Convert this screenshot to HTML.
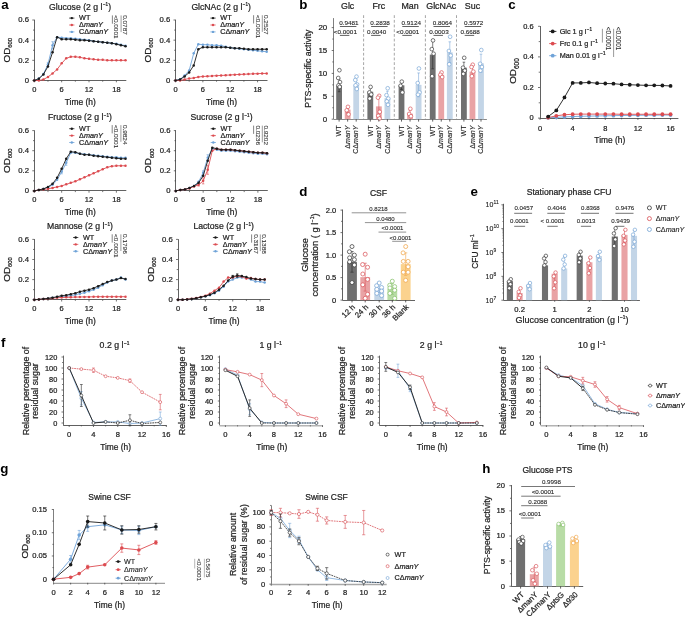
<!DOCTYPE html>
<html><head><meta charset="utf-8"><style>
html,body{margin:0;padding:0;background:#fff;width:685px;height:617px;overflow:hidden}
svg{display:block;will-change:transform}
text{font-family:"Liberation Sans", sans-serif}
</style></head><body>
<svg width="685" height="617" viewBox="0 0 685 617">
<rect width="685" height="617" fill="#fff"/>
<line x1="34.5" y1="80.5" x2="34.5" y2="19.7" stroke="#3a3a3a" stroke-width="0.8" />
<line x1="34.3" y1="80.5" x2="126.3" y2="80.5" stroke="#3a3a3a" stroke-width="0.8" />
<line x1="32.3" y1="80.5" x2="34.3" y2="80.5" stroke="#3a3a3a" stroke-width="0.7" />
<line x1="33" y1="70.42" x2="34.3" y2="70.42" stroke="#3a3a3a" stroke-width="0.7" />
<line x1="32.3" y1="60.33" x2="34.3" y2="60.33" stroke="#3a3a3a" stroke-width="0.7" />
<line x1="33" y1="50.25" x2="34.3" y2="50.25" stroke="#3a3a3a" stroke-width="0.7" />
<line x1="32.3" y1="40.17" x2="34.3" y2="40.17" stroke="#3a3a3a" stroke-width="0.7" />
<line x1="33" y1="30.08" x2="34.3" y2="30.08" stroke="#3a3a3a" stroke-width="0.7" />
<line x1="32.3" y1="20" x2="34.3" y2="20" stroke="#3a3a3a" stroke-width="0.7" />
<line x1="34.3" y1="80.5" x2="34.3" y2="82.3" stroke="#3a3a3a" stroke-width="0.7" />
<line x1="47.98" y1="80.5" x2="47.98" y2="81.7" stroke="#3a3a3a" stroke-width="0.7" />
<line x1="61.66" y1="80.5" x2="61.66" y2="82.3" stroke="#3a3a3a" stroke-width="0.7" />
<line x1="75.34" y1="80.5" x2="75.34" y2="81.7" stroke="#3a3a3a" stroke-width="0.7" />
<line x1="89.02" y1="80.5" x2="89.02" y2="82.3" stroke="#3a3a3a" stroke-width="0.7" />
<line x1="102.7" y1="80.5" x2="102.7" y2="81.7" stroke="#3a3a3a" stroke-width="0.7" />
<line x1="116.38" y1="80.5" x2="116.38" y2="82.3" stroke="#3a3a3a" stroke-width="0.7" />
<text transform="translate(29 82.9)" font-size="7.7" text-anchor="end" fill="#222" font-weight="normal" stroke="#222" stroke-width="0.22">0</text>
<text transform="translate(29 62.73)" font-size="7.7" text-anchor="end" fill="#222" font-weight="normal" stroke="#222" stroke-width="0.22">0.2</text>
<text transform="translate(29 42.57)" font-size="7.7" text-anchor="end" fill="#222" font-weight="normal" stroke="#222" stroke-width="0.22">0.4</text>
<text transform="translate(29 22.4)" font-size="7.7" text-anchor="end" fill="#222" font-weight="normal" stroke="#222" stroke-width="0.22">0.6</text>
<text transform="translate(34.3 91.7)" font-size="7.47" text-anchor="middle" fill="#222" font-weight="normal" stroke="#222" stroke-width="0.22">0</text>
<text transform="translate(61.66 91.7)" font-size="7.47" text-anchor="middle" fill="#222" font-weight="normal" stroke="#222" stroke-width="0.22">6</text>
<text transform="translate(89.02 91.7)" font-size="7.47" text-anchor="middle" fill="#222" font-weight="normal" stroke="#222" stroke-width="0.22">12</text>
<text transform="translate(116.38 91.7)" font-size="7.47" text-anchor="middle" fill="#222" font-weight="normal" stroke="#222" stroke-width="0.22">18</text>
<text transform="translate(80.3 104.8)" font-size="8.44" text-anchor="middle" fill="#222" font-weight="normal" stroke="#222" stroke-width="0.22">Time (h)</text>
<text transform="translate(9.8 50.25) rotate(-90)" font-size="9.86" text-anchor="middle" fill="#222" font-weight="normal" stroke="#222" stroke-width="0.22">OD<tspan font-size="5.8" dy="2.2">600</tspan></text>
<text transform="translate(80 9.6)" font-size="8.66" text-anchor="middle" fill="#222" font-weight="normal" stroke="#222" stroke-width="0.22">Glucose (2 g l<tspan font-size="4.6" dx="0.5" dy="-3.3">&#8722;1</tspan><tspan dy="3.3">)</tspan></text>
<polyline points="34.3,80.5 38.86,78.48 43.42,73.95 47.98,64.37 52.54,45.21 57.1,37.14 61.66,37.65 66.22,38.15 70.78,38.15 75.34,38.65 79.9,39.16 84.46,39.66 89.02,40.17 93.58,41.17 98.14,41.68 102.7,42.18 107.26,42.69 111.82,43.19 116.38,43.7 120.94,44.7 125.5,45.71" fill="none" stroke="#6fa3d8" stroke-width="0.9" stroke-linejoin="round"/>
<line x1="52.54" y1="41.68" x2="52.54" y2="48.74" stroke="#6fa3d8" stroke-width="0.6" />
<line x1="51.34" y1="41.68" x2="53.74" y2="41.68" stroke="#6fa3d8" stroke-width="0.6" />
<line x1="51.34" y1="48.74" x2="53.74" y2="48.74" stroke="#6fa3d8" stroke-width="0.6" />
<line x1="47.98" y1="62.35" x2="47.98" y2="66.38" stroke="#6fa3d8" stroke-width="0.6" />
<line x1="46.78" y1="62.35" x2="49.18" y2="62.35" stroke="#6fa3d8" stroke-width="0.6" />
<line x1="46.78" y1="66.38" x2="49.18" y2="66.38" stroke="#6fa3d8" stroke-width="0.6" />
<circle cx="34.3" cy="80.5" r="1.25" fill="#6fa3d8" stroke="none" stroke-width="0.6"/>
<circle cx="38.86" cy="78.48" r="1.25" fill="#6fa3d8" stroke="none" stroke-width="0.6"/>
<circle cx="43.42" cy="73.95" r="1.25" fill="#6fa3d8" stroke="none" stroke-width="0.6"/>
<circle cx="47.98" cy="64.37" r="1.25" fill="#6fa3d8" stroke="none" stroke-width="0.6"/>
<circle cx="52.54" cy="45.21" r="1.25" fill="#6fa3d8" stroke="none" stroke-width="0.6"/>
<circle cx="57.1" cy="37.14" r="1.25" fill="#6fa3d8" stroke="none" stroke-width="0.6"/>
<circle cx="61.66" cy="37.65" r="1.25" fill="#6fa3d8" stroke="none" stroke-width="0.6"/>
<circle cx="66.22" cy="38.15" r="1.25" fill="#6fa3d8" stroke="none" stroke-width="0.6"/>
<circle cx="70.78" cy="38.15" r="1.25" fill="#6fa3d8" stroke="none" stroke-width="0.6"/>
<circle cx="75.34" cy="38.65" r="1.25" fill="#6fa3d8" stroke="none" stroke-width="0.6"/>
<circle cx="79.9" cy="39.16" r="1.25" fill="#6fa3d8" stroke="none" stroke-width="0.6"/>
<circle cx="84.46" cy="39.66" r="1.25" fill="#6fa3d8" stroke="none" stroke-width="0.6"/>
<circle cx="89.02" cy="40.17" r="1.25" fill="#6fa3d8" stroke="none" stroke-width="0.6"/>
<circle cx="93.58" cy="41.17" r="1.25" fill="#6fa3d8" stroke="none" stroke-width="0.6"/>
<circle cx="98.14" cy="41.68" r="1.25" fill="#6fa3d8" stroke="none" stroke-width="0.6"/>
<circle cx="102.7" cy="42.18" r="1.25" fill="#6fa3d8" stroke="none" stroke-width="0.6"/>
<circle cx="107.26" cy="42.69" r="1.25" fill="#6fa3d8" stroke="none" stroke-width="0.6"/>
<circle cx="111.82" cy="43.19" r="1.25" fill="#6fa3d8" stroke="none" stroke-width="0.6"/>
<circle cx="116.38" cy="43.7" r="1.25" fill="#6fa3d8" stroke="none" stroke-width="0.6"/>
<circle cx="120.94" cy="44.7" r="1.25" fill="#6fa3d8" stroke="none" stroke-width="0.6"/>
<circle cx="125.5" cy="45.71" r="1.25" fill="#6fa3d8" stroke="none" stroke-width="0.6"/>
<polyline points="34.3,80.5 38.86,80.5 43.42,79.49 47.98,76.97 52.54,73.44 57.1,69.41 61.66,63.36 66.22,58.32 70.78,56.8 75.34,56.8 79.9,57.31 84.46,58.32 89.02,58.82 93.58,59.33 98.14,59.83 102.7,59.83 107.26,60.33 111.82,60.33 116.38,60.33 120.94,60.33 125.5,60.33" fill="none" stroke="#dc4b50" stroke-width="0.9" stroke-linejoin="round"/>
<circle cx="34.3" cy="80.5" r="1.25" fill="#dc4b50" stroke="none" stroke-width="0.6"/>
<circle cx="38.86" cy="80.5" r="1.25" fill="#dc4b50" stroke="none" stroke-width="0.6"/>
<circle cx="43.42" cy="79.49" r="1.25" fill="#dc4b50" stroke="none" stroke-width="0.6"/>
<circle cx="47.98" cy="76.97" r="1.25" fill="#dc4b50" stroke="none" stroke-width="0.6"/>
<circle cx="52.54" cy="73.44" r="1.25" fill="#dc4b50" stroke="none" stroke-width="0.6"/>
<circle cx="57.1" cy="69.41" r="1.25" fill="#dc4b50" stroke="none" stroke-width="0.6"/>
<circle cx="61.66" cy="63.36" r="1.25" fill="#dc4b50" stroke="none" stroke-width="0.6"/>
<circle cx="66.22" cy="58.32" r="1.25" fill="#dc4b50" stroke="none" stroke-width="0.6"/>
<circle cx="70.78" cy="56.8" r="1.25" fill="#dc4b50" stroke="none" stroke-width="0.6"/>
<circle cx="75.34" cy="56.8" r="1.25" fill="#dc4b50" stroke="none" stroke-width="0.6"/>
<circle cx="79.9" cy="57.31" r="1.25" fill="#dc4b50" stroke="none" stroke-width="0.6"/>
<circle cx="84.46" cy="58.32" r="1.25" fill="#dc4b50" stroke="none" stroke-width="0.6"/>
<circle cx="89.02" cy="58.82" r="1.25" fill="#dc4b50" stroke="none" stroke-width="0.6"/>
<circle cx="93.58" cy="59.33" r="1.25" fill="#dc4b50" stroke="none" stroke-width="0.6"/>
<circle cx="98.14" cy="59.83" r="1.25" fill="#dc4b50" stroke="none" stroke-width="0.6"/>
<circle cx="102.7" cy="59.83" r="1.25" fill="#dc4b50" stroke="none" stroke-width="0.6"/>
<circle cx="107.26" cy="60.33" r="1.25" fill="#dc4b50" stroke="none" stroke-width="0.6"/>
<circle cx="111.82" cy="60.33" r="1.25" fill="#dc4b50" stroke="none" stroke-width="0.6"/>
<circle cx="116.38" cy="60.33" r="1.25" fill="#dc4b50" stroke="none" stroke-width="0.6"/>
<circle cx="120.94" cy="60.33" r="1.25" fill="#dc4b50" stroke="none" stroke-width="0.6"/>
<circle cx="125.5" cy="60.33" r="1.25" fill="#dc4b50" stroke="none" stroke-width="0.6"/>
<polyline points="34.3,80.5 38.86,78.69 43.42,74.45 47.98,66.38 52.54,52.27 57.1,37.14 61.66,39.16 66.22,39.16 70.78,39.16 75.34,39.66 79.9,40.17 84.46,40.17 89.02,40.67 93.58,41.17 98.14,41.68 102.7,42.18 107.26,42.69 111.82,43.19 116.38,44.2 120.94,45.21 125.5,46.22" fill="none" stroke="#1a1a1a" stroke-width="0.9" stroke-linejoin="round"/>
<circle cx="34.3" cy="80.5" r="1.25" fill="#1a1a1a" stroke="none" stroke-width="0.6"/>
<circle cx="38.86" cy="78.69" r="1.25" fill="#1a1a1a" stroke="none" stroke-width="0.6"/>
<circle cx="43.42" cy="74.45" r="1.25" fill="#1a1a1a" stroke="none" stroke-width="0.6"/>
<circle cx="47.98" cy="66.38" r="1.25" fill="#1a1a1a" stroke="none" stroke-width="0.6"/>
<circle cx="52.54" cy="52.27" r="1.25" fill="#1a1a1a" stroke="none" stroke-width="0.6"/>
<circle cx="57.1" cy="37.14" r="1.25" fill="#1a1a1a" stroke="none" stroke-width="0.6"/>
<circle cx="61.66" cy="39.16" r="1.25" fill="#1a1a1a" stroke="none" stroke-width="0.6"/>
<circle cx="66.22" cy="39.16" r="1.25" fill="#1a1a1a" stroke="none" stroke-width="0.6"/>
<circle cx="70.78" cy="39.16" r="1.25" fill="#1a1a1a" stroke="none" stroke-width="0.6"/>
<circle cx="75.34" cy="39.66" r="1.25" fill="#1a1a1a" stroke="none" stroke-width="0.6"/>
<circle cx="79.9" cy="40.17" r="1.25" fill="#1a1a1a" stroke="none" stroke-width="0.6"/>
<circle cx="84.46" cy="40.17" r="1.25" fill="#1a1a1a" stroke="none" stroke-width="0.6"/>
<circle cx="89.02" cy="40.67" r="1.25" fill="#1a1a1a" stroke="none" stroke-width="0.6"/>
<circle cx="93.58" cy="41.17" r="1.25" fill="#1a1a1a" stroke="none" stroke-width="0.6"/>
<circle cx="98.14" cy="41.68" r="1.25" fill="#1a1a1a" stroke="none" stroke-width="0.6"/>
<circle cx="102.7" cy="42.18" r="1.25" fill="#1a1a1a" stroke="none" stroke-width="0.6"/>
<circle cx="107.26" cy="42.69" r="1.25" fill="#1a1a1a" stroke="none" stroke-width="0.6"/>
<circle cx="111.82" cy="43.19" r="1.25" fill="#1a1a1a" stroke="none" stroke-width="0.6"/>
<circle cx="116.38" cy="44.2" r="1.25" fill="#1a1a1a" stroke="none" stroke-width="0.6"/>
<circle cx="120.94" cy="45.21" r="1.25" fill="#1a1a1a" stroke="none" stroke-width="0.6"/>
<circle cx="125.5" cy="46.22" r="1.25" fill="#1a1a1a" stroke="none" stroke-width="0.6"/>
<line x1="69.2" y1="18.1" x2="74.4" y2="18.1" stroke="#1a1a1a" stroke-width="0.8" />
<circle cx="71.8" cy="18.1" r="1.2" fill="#1a1a1a" stroke="none" stroke-width="0.6"/>
<text transform="translate(79.1 20.3)" font-size="7.24" text-anchor="start" fill="#222" font-weight="normal" stroke="#222" stroke-width="0.22">WT</text>
<line x1="69.2" y1="25" x2="74.4" y2="25" stroke="#dc4b50" stroke-width="0.8" />
<circle cx="71.8" cy="25" r="1.2" fill="#dc4b50" stroke="none" stroke-width="0.6"/>
<text transform="translate(79.1 27.2)" font-size="7.24" text-anchor="start" fill="#222" font-weight="normal" stroke="#222" stroke-width="0.22">&#916;<tspan font-style="italic">manY</tspan></text>
<line x1="69.2" y1="31.9" x2="74.4" y2="31.9" stroke="#6fa3d8" stroke-width="0.8" />
<circle cx="71.8" cy="31.9" r="1.2" fill="#6fa3d8" stroke="none" stroke-width="0.6"/>
<text transform="translate(79.1 34.1)" font-size="7.24" text-anchor="start" fill="#222" font-weight="normal" stroke="#222" stroke-width="0.22">C&#916;<tspan font-style="italic">manY</tspan></text>
<line x1="112.4" y1="15.4" x2="112.4" y2="23.7" stroke="#444" stroke-width="0.65" />
<text transform="translate(114.4 15.2) rotate(90) scale(1.07 1)" font-size="6.0" text-anchor="start" fill="#3a3a3a" font-weight="normal" stroke="#3a3a3a" stroke-width="0.12">&lt;0.0001</text>
<line x1="121.1" y1="15.4" x2="121.1" y2="32.1" stroke="#666" stroke-width="0.65" />
<text transform="translate(123.1 15.2) rotate(90) scale(1.07 1)" font-size="6.0" text-anchor="start" fill="#3a3a3a" font-weight="normal" stroke="#3a3a3a" stroke-width="0.12">0.0787</text>
<line x1="175.5" y1="80.5" x2="175.5" y2="19.7" stroke="#3a3a3a" stroke-width="0.8" />
<line x1="175.5" y1="80.5" x2="267.5" y2="80.5" stroke="#3a3a3a" stroke-width="0.8" />
<line x1="173.5" y1="80.5" x2="175.5" y2="80.5" stroke="#3a3a3a" stroke-width="0.7" />
<line x1="174.2" y1="70.42" x2="175.5" y2="70.42" stroke="#3a3a3a" stroke-width="0.7" />
<line x1="173.5" y1="60.33" x2="175.5" y2="60.33" stroke="#3a3a3a" stroke-width="0.7" />
<line x1="174.2" y1="50.25" x2="175.5" y2="50.25" stroke="#3a3a3a" stroke-width="0.7" />
<line x1="173.5" y1="40.17" x2="175.5" y2="40.17" stroke="#3a3a3a" stroke-width="0.7" />
<line x1="174.2" y1="30.08" x2="175.5" y2="30.08" stroke="#3a3a3a" stroke-width="0.7" />
<line x1="173.5" y1="20" x2="175.5" y2="20" stroke="#3a3a3a" stroke-width="0.7" />
<line x1="175.5" y1="80.5" x2="175.5" y2="82.3" stroke="#3a3a3a" stroke-width="0.7" />
<line x1="189.18" y1="80.5" x2="189.18" y2="81.7" stroke="#3a3a3a" stroke-width="0.7" />
<line x1="202.86" y1="80.5" x2="202.86" y2="82.3" stroke="#3a3a3a" stroke-width="0.7" />
<line x1="216.54" y1="80.5" x2="216.54" y2="81.7" stroke="#3a3a3a" stroke-width="0.7" />
<line x1="230.22" y1="80.5" x2="230.22" y2="82.3" stroke="#3a3a3a" stroke-width="0.7" />
<line x1="243.9" y1="80.5" x2="243.9" y2="81.7" stroke="#3a3a3a" stroke-width="0.7" />
<line x1="257.58" y1="80.5" x2="257.58" y2="82.3" stroke="#3a3a3a" stroke-width="0.7" />
<text transform="translate(170.2 82.9)" font-size="7.7" text-anchor="end" fill="#222" font-weight="normal" stroke="#222" stroke-width="0.22">0</text>
<text transform="translate(170.2 62.73)" font-size="7.7" text-anchor="end" fill="#222" font-weight="normal" stroke="#222" stroke-width="0.22">0.2</text>
<text transform="translate(170.2 42.57)" font-size="7.7" text-anchor="end" fill="#222" font-weight="normal" stroke="#222" stroke-width="0.22">0.4</text>
<text transform="translate(170.2 22.4)" font-size="7.7" text-anchor="end" fill="#222" font-weight="normal" stroke="#222" stroke-width="0.22">0.6</text>
<text transform="translate(175.5 91.7)" font-size="7.47" text-anchor="middle" fill="#222" font-weight="normal" stroke="#222" stroke-width="0.22">0</text>
<text transform="translate(202.86 91.7)" font-size="7.47" text-anchor="middle" fill="#222" font-weight="normal" stroke="#222" stroke-width="0.22">6</text>
<text transform="translate(230.22 91.7)" font-size="7.47" text-anchor="middle" fill="#222" font-weight="normal" stroke="#222" stroke-width="0.22">12</text>
<text transform="translate(257.58 91.7)" font-size="7.47" text-anchor="middle" fill="#222" font-weight="normal" stroke="#222" stroke-width="0.22">18</text>
<text transform="translate(221.5 104.8)" font-size="8.44" text-anchor="middle" fill="#222" font-weight="normal" stroke="#222" stroke-width="0.22">Time (h)</text>
<text transform="translate(151 50.25) rotate(-90)" font-size="9.86" text-anchor="middle" fill="#222" font-weight="normal" stroke="#222" stroke-width="0.22">OD<tspan font-size="5.8" dy="2.2">600</tspan></text>
<text transform="translate(221.2 9.6)" font-size="8.66" text-anchor="middle" fill="#222" font-weight="normal" stroke="#222" stroke-width="0.22">GlcNAc (2 g l<tspan font-size="4.6" dx="0.5" dy="-3.3">&#8722;1</tspan><tspan dy="3.3">)</tspan></text>
<polyline points="175.5,80.5 180.06,79.29 184.62,75.46 189.18,70.42 193.74,53.27 198.3,44.2 202.86,44.7 207.42,44.7 211.98,45.21 216.54,45.21 221.1,45.71 225.66,46.72 230.22,47.73 234.78,48.23 239.34,48.74 243.9,49.24 248.46,49.75 253.02,50.25 257.58,50.75 262.14,51.26 266.7,51.76" fill="none" stroke="#6fa3d8" stroke-width="0.9" stroke-linejoin="round"/>
<circle cx="175.5" cy="80.5" r="1.25" fill="#6fa3d8" stroke="none" stroke-width="0.6"/>
<circle cx="180.06" cy="79.29" r="1.25" fill="#6fa3d8" stroke="none" stroke-width="0.6"/>
<circle cx="184.62" cy="75.46" r="1.25" fill="#6fa3d8" stroke="none" stroke-width="0.6"/>
<circle cx="189.18" cy="70.42" r="1.25" fill="#6fa3d8" stroke="none" stroke-width="0.6"/>
<circle cx="193.74" cy="53.27" r="1.25" fill="#6fa3d8" stroke="none" stroke-width="0.6"/>
<circle cx="198.3" cy="44.2" r="1.25" fill="#6fa3d8" stroke="none" stroke-width="0.6"/>
<circle cx="202.86" cy="44.7" r="1.25" fill="#6fa3d8" stroke="none" stroke-width="0.6"/>
<circle cx="207.42" cy="44.7" r="1.25" fill="#6fa3d8" stroke="none" stroke-width="0.6"/>
<circle cx="211.98" cy="45.21" r="1.25" fill="#6fa3d8" stroke="none" stroke-width="0.6"/>
<circle cx="216.54" cy="45.21" r="1.25" fill="#6fa3d8" stroke="none" stroke-width="0.6"/>
<circle cx="221.1" cy="45.71" r="1.25" fill="#6fa3d8" stroke="none" stroke-width="0.6"/>
<circle cx="225.66" cy="46.72" r="1.25" fill="#6fa3d8" stroke="none" stroke-width="0.6"/>
<circle cx="230.22" cy="47.73" r="1.25" fill="#6fa3d8" stroke="none" stroke-width="0.6"/>
<circle cx="234.78" cy="48.23" r="1.25" fill="#6fa3d8" stroke="none" stroke-width="0.6"/>
<circle cx="239.34" cy="48.74" r="1.25" fill="#6fa3d8" stroke="none" stroke-width="0.6"/>
<circle cx="243.9" cy="49.24" r="1.25" fill="#6fa3d8" stroke="none" stroke-width="0.6"/>
<circle cx="248.46" cy="49.75" r="1.25" fill="#6fa3d8" stroke="none" stroke-width="0.6"/>
<circle cx="253.02" cy="50.25" r="1.25" fill="#6fa3d8" stroke="none" stroke-width="0.6"/>
<circle cx="257.58" cy="50.75" r="1.25" fill="#6fa3d8" stroke="none" stroke-width="0.6"/>
<circle cx="262.14" cy="51.26" r="1.25" fill="#6fa3d8" stroke="none" stroke-width="0.6"/>
<circle cx="266.7" cy="51.76" r="1.25" fill="#6fa3d8" stroke="none" stroke-width="0.6"/>
<polyline points="175.5,80.5 180.06,80.5 184.62,79.49 189.18,78.48 193.74,77.98 198.3,76.97 202.86,76.47 207.42,76.27 211.98,75.96 216.54,75.66 221.1,75.46 225.66,75.26 230.22,74.95 234.78,74.65 239.34,74.45 243.9,74.25 248.46,74.05 253.02,73.84 257.58,73.64 262.14,73.44 266.7,73.44" fill="none" stroke="#dc4b50" stroke-width="0.9" stroke-linejoin="round"/>
<circle cx="175.5" cy="80.5" r="1.25" fill="#dc4b50" stroke="none" stroke-width="0.6"/>
<circle cx="180.06" cy="80.5" r="1.25" fill="#dc4b50" stroke="none" stroke-width="0.6"/>
<circle cx="184.62" cy="79.49" r="1.25" fill="#dc4b50" stroke="none" stroke-width="0.6"/>
<circle cx="189.18" cy="78.48" r="1.25" fill="#dc4b50" stroke="none" stroke-width="0.6"/>
<circle cx="193.74" cy="77.98" r="1.25" fill="#dc4b50" stroke="none" stroke-width="0.6"/>
<circle cx="198.3" cy="76.97" r="1.25" fill="#dc4b50" stroke="none" stroke-width="0.6"/>
<circle cx="202.86" cy="76.47" r="1.25" fill="#dc4b50" stroke="none" stroke-width="0.6"/>
<circle cx="207.42" cy="76.27" r="1.25" fill="#dc4b50" stroke="none" stroke-width="0.6"/>
<circle cx="211.98" cy="75.96" r="1.25" fill="#dc4b50" stroke="none" stroke-width="0.6"/>
<circle cx="216.54" cy="75.66" r="1.25" fill="#dc4b50" stroke="none" stroke-width="0.6"/>
<circle cx="221.1" cy="75.46" r="1.25" fill="#dc4b50" stroke="none" stroke-width="0.6"/>
<circle cx="225.66" cy="75.26" r="1.25" fill="#dc4b50" stroke="none" stroke-width="0.6"/>
<circle cx="230.22" cy="74.95" r="1.25" fill="#dc4b50" stroke="none" stroke-width="0.6"/>
<circle cx="234.78" cy="74.65" r="1.25" fill="#dc4b50" stroke="none" stroke-width="0.6"/>
<circle cx="239.34" cy="74.45" r="1.25" fill="#dc4b50" stroke="none" stroke-width="0.6"/>
<circle cx="243.9" cy="74.25" r="1.25" fill="#dc4b50" stroke="none" stroke-width="0.6"/>
<circle cx="248.46" cy="74.05" r="1.25" fill="#dc4b50" stroke="none" stroke-width="0.6"/>
<circle cx="253.02" cy="73.84" r="1.25" fill="#dc4b50" stroke="none" stroke-width="0.6"/>
<circle cx="257.58" cy="73.64" r="1.25" fill="#dc4b50" stroke="none" stroke-width="0.6"/>
<circle cx="262.14" cy="73.44" r="1.25" fill="#dc4b50" stroke="none" stroke-width="0.6"/>
<circle cx="266.7" cy="73.44" r="1.25" fill="#dc4b50" stroke="none" stroke-width="0.6"/>
<polyline points="175.5,80.5 180.06,79.49 184.62,76.47 189.18,72.43 193.74,65.38 198.3,49.24 202.86,47.22 207.42,47.22 211.98,47.22 216.54,47.22 221.1,47.22 225.66,47.22 230.22,47.73 234.78,48.23 239.34,48.23 243.9,48.74 248.46,49.24 253.02,49.24 257.58,49.24 262.14,49.24 266.7,49.24" fill="none" stroke="#1a1a1a" stroke-width="0.9" stroke-linejoin="round"/>
<circle cx="175.5" cy="80.5" r="1.25" fill="#1a1a1a" stroke="none" stroke-width="0.6"/>
<circle cx="180.06" cy="79.49" r="1.25" fill="#1a1a1a" stroke="none" stroke-width="0.6"/>
<circle cx="184.62" cy="76.47" r="1.25" fill="#1a1a1a" stroke="none" stroke-width="0.6"/>
<circle cx="189.18" cy="72.43" r="1.25" fill="#1a1a1a" stroke="none" stroke-width="0.6"/>
<circle cx="193.74" cy="65.38" r="1.25" fill="#1a1a1a" stroke="none" stroke-width="0.6"/>
<circle cx="198.3" cy="49.24" r="1.25" fill="#1a1a1a" stroke="none" stroke-width="0.6"/>
<circle cx="202.86" cy="47.22" r="1.25" fill="#1a1a1a" stroke="none" stroke-width="0.6"/>
<circle cx="207.42" cy="47.22" r="1.25" fill="#1a1a1a" stroke="none" stroke-width="0.6"/>
<circle cx="211.98" cy="47.22" r="1.25" fill="#1a1a1a" stroke="none" stroke-width="0.6"/>
<circle cx="216.54" cy="47.22" r="1.25" fill="#1a1a1a" stroke="none" stroke-width="0.6"/>
<circle cx="221.1" cy="47.22" r="1.25" fill="#1a1a1a" stroke="none" stroke-width="0.6"/>
<circle cx="225.66" cy="47.22" r="1.25" fill="#1a1a1a" stroke="none" stroke-width="0.6"/>
<circle cx="230.22" cy="47.73" r="1.25" fill="#1a1a1a" stroke="none" stroke-width="0.6"/>
<circle cx="234.78" cy="48.23" r="1.25" fill="#1a1a1a" stroke="none" stroke-width="0.6"/>
<circle cx="239.34" cy="48.23" r="1.25" fill="#1a1a1a" stroke="none" stroke-width="0.6"/>
<circle cx="243.9" cy="48.74" r="1.25" fill="#1a1a1a" stroke="none" stroke-width="0.6"/>
<circle cx="248.46" cy="49.24" r="1.25" fill="#1a1a1a" stroke="none" stroke-width="0.6"/>
<circle cx="253.02" cy="49.24" r="1.25" fill="#1a1a1a" stroke="none" stroke-width="0.6"/>
<circle cx="257.58" cy="49.24" r="1.25" fill="#1a1a1a" stroke="none" stroke-width="0.6"/>
<circle cx="262.14" cy="49.24" r="1.25" fill="#1a1a1a" stroke="none" stroke-width="0.6"/>
<circle cx="266.7" cy="49.24" r="1.25" fill="#1a1a1a" stroke="none" stroke-width="0.6"/>
<line x1="210.4" y1="18.1" x2="215.6" y2="18.1" stroke="#1a1a1a" stroke-width="0.8" />
<circle cx="213" cy="18.1" r="1.2" fill="#1a1a1a" stroke="none" stroke-width="0.6"/>
<text transform="translate(220.3 20.3)" font-size="7.24" text-anchor="start" fill="#222" font-weight="normal" stroke="#222" stroke-width="0.22">WT</text>
<line x1="210.4" y1="25" x2="215.6" y2="25" stroke="#dc4b50" stroke-width="0.8" />
<circle cx="213" cy="25" r="1.2" fill="#dc4b50" stroke="none" stroke-width="0.6"/>
<text transform="translate(220.3 27.2)" font-size="7.24" text-anchor="start" fill="#222" font-weight="normal" stroke="#222" stroke-width="0.22">&#916;<tspan font-style="italic">manY</tspan></text>
<line x1="210.4" y1="31.9" x2="215.6" y2="31.9" stroke="#6fa3d8" stroke-width="0.8" />
<circle cx="213" cy="31.9" r="1.2" fill="#6fa3d8" stroke="none" stroke-width="0.6"/>
<text transform="translate(220.3 34.1)" font-size="7.24" text-anchor="start" fill="#222" font-weight="normal" stroke="#222" stroke-width="0.22">C&#916;<tspan font-style="italic">manY</tspan></text>
<line x1="253.6" y1="15.2" x2="253.6" y2="23.5" stroke="#444" stroke-width="0.65" />
<text transform="translate(255.6 15) rotate(90) scale(1.07 1)" font-size="6.0" text-anchor="start" fill="#3a3a3a" font-weight="normal" stroke="#3a3a3a" stroke-width="0.12">&lt;0.0001</text>
<line x1="262.3" y1="15.2" x2="262.3" y2="31.9" stroke="#666" stroke-width="0.65" />
<text transform="translate(264.3 15) rotate(90) scale(1.07 1)" font-size="6.0" text-anchor="start" fill="#3a3a3a" font-weight="normal" stroke="#3a3a3a" stroke-width="0.12">0.2527</text>
<line x1="34.5" y1="190.9" x2="34.5" y2="130.3" stroke="#3a3a3a" stroke-width="0.8" />
<line x1="34.3" y1="190.5" x2="126.3" y2="190.5" stroke="#3a3a3a" stroke-width="0.8" />
<line x1="32.3" y1="190.9" x2="34.3" y2="190.9" stroke="#3a3a3a" stroke-width="0.7" />
<line x1="33" y1="180.85" x2="34.3" y2="180.85" stroke="#3a3a3a" stroke-width="0.7" />
<line x1="32.3" y1="170.8" x2="34.3" y2="170.8" stroke="#3a3a3a" stroke-width="0.7" />
<line x1="33" y1="160.75" x2="34.3" y2="160.75" stroke="#3a3a3a" stroke-width="0.7" />
<line x1="32.3" y1="150.7" x2="34.3" y2="150.7" stroke="#3a3a3a" stroke-width="0.7" />
<line x1="33" y1="140.65" x2="34.3" y2="140.65" stroke="#3a3a3a" stroke-width="0.7" />
<line x1="32.3" y1="130.6" x2="34.3" y2="130.6" stroke="#3a3a3a" stroke-width="0.7" />
<line x1="34.3" y1="190.9" x2="34.3" y2="192.7" stroke="#3a3a3a" stroke-width="0.7" />
<line x1="47.98" y1="190.9" x2="47.98" y2="192.1" stroke="#3a3a3a" stroke-width="0.7" />
<line x1="61.66" y1="190.9" x2="61.66" y2="192.7" stroke="#3a3a3a" stroke-width="0.7" />
<line x1="75.34" y1="190.9" x2="75.34" y2="192.1" stroke="#3a3a3a" stroke-width="0.7" />
<line x1="89.02" y1="190.9" x2="89.02" y2="192.7" stroke="#3a3a3a" stroke-width="0.7" />
<line x1="102.7" y1="190.9" x2="102.7" y2="192.1" stroke="#3a3a3a" stroke-width="0.7" />
<line x1="116.38" y1="190.9" x2="116.38" y2="192.7" stroke="#3a3a3a" stroke-width="0.7" />
<text transform="translate(29 193.3)" font-size="7.7" text-anchor="end" fill="#222" font-weight="normal" stroke="#222" stroke-width="0.22">0</text>
<text transform="translate(29 173.2)" font-size="7.7" text-anchor="end" fill="#222" font-weight="normal" stroke="#222" stroke-width="0.22">0.2</text>
<text transform="translate(29 153.1)" font-size="7.7" text-anchor="end" fill="#222" font-weight="normal" stroke="#222" stroke-width="0.22">0.4</text>
<text transform="translate(29 133)" font-size="7.7" text-anchor="end" fill="#222" font-weight="normal" stroke="#222" stroke-width="0.22">0.6</text>
<text transform="translate(34.3 202.1)" font-size="7.47" text-anchor="middle" fill="#222" font-weight="normal" stroke="#222" stroke-width="0.22">0</text>
<text transform="translate(61.66 202.1)" font-size="7.47" text-anchor="middle" fill="#222" font-weight="normal" stroke="#222" stroke-width="0.22">6</text>
<text transform="translate(89.02 202.1)" font-size="7.47" text-anchor="middle" fill="#222" font-weight="normal" stroke="#222" stroke-width="0.22">12</text>
<text transform="translate(116.38 202.1)" font-size="7.47" text-anchor="middle" fill="#222" font-weight="normal" stroke="#222" stroke-width="0.22">18</text>
<text transform="translate(80.3 215.2)" font-size="8.44" text-anchor="middle" fill="#222" font-weight="normal" stroke="#222" stroke-width="0.22">Time (h)</text>
<text transform="translate(9.8 160.75) rotate(-90)" font-size="9.86" text-anchor="middle" fill="#222" font-weight="normal" stroke="#222" stroke-width="0.22">OD<tspan font-size="5.8" dy="2.2">600</tspan></text>
<text transform="translate(80 120.2)" font-size="8.66" text-anchor="middle" fill="#222" font-weight="normal" stroke="#222" stroke-width="0.22">Fructose (2 g l<tspan font-size="4.6" dx="0.5" dy="-3.3">&#8722;1</tspan><tspan dy="3.3">)</tspan></text>
<polyline points="34.3,190.9 38.86,189.9 43.42,188.89 47.98,187.38 52.54,184.87 57.1,179.84 61.66,171.81 66.22,162.76 70.78,152.71 75.34,152.71 79.9,153.72 84.46,154.22 89.02,154.72 93.58,155.22 98.14,155.72 102.7,156.23 107.26,156.73 111.82,157.23 116.38,157.23 120.94,157.73 125.5,157.73" fill="none" stroke="#6fa3d8" stroke-width="0.9" stroke-linejoin="round"/>
<line x1="61.66" y1="169.8" x2="61.66" y2="173.81" stroke="#6fa3d8" stroke-width="0.6" />
<line x1="60.46" y1="169.8" x2="62.86" y2="169.8" stroke="#6fa3d8" stroke-width="0.6" />
<line x1="60.46" y1="173.81" x2="62.86" y2="173.81" stroke="#6fa3d8" stroke-width="0.6" />
<line x1="66.22" y1="160.25" x2="66.22" y2="165.27" stroke="#6fa3d8" stroke-width="0.6" />
<line x1="65.02" y1="160.25" x2="67.42" y2="160.25" stroke="#6fa3d8" stroke-width="0.6" />
<line x1="65.02" y1="165.27" x2="67.42" y2="165.27" stroke="#6fa3d8" stroke-width="0.6" />
<circle cx="34.3" cy="190.9" r="1.25" fill="#6fa3d8" stroke="none" stroke-width="0.6"/>
<circle cx="38.86" cy="189.9" r="1.25" fill="#6fa3d8" stroke="none" stroke-width="0.6"/>
<circle cx="43.42" cy="188.89" r="1.25" fill="#6fa3d8" stroke="none" stroke-width="0.6"/>
<circle cx="47.98" cy="187.38" r="1.25" fill="#6fa3d8" stroke="none" stroke-width="0.6"/>
<circle cx="52.54" cy="184.87" r="1.25" fill="#6fa3d8" stroke="none" stroke-width="0.6"/>
<circle cx="57.1" cy="179.84" r="1.25" fill="#6fa3d8" stroke="none" stroke-width="0.6"/>
<circle cx="61.66" cy="171.81" r="1.25" fill="#6fa3d8" stroke="none" stroke-width="0.6"/>
<circle cx="66.22" cy="162.76" r="1.25" fill="#6fa3d8" stroke="none" stroke-width="0.6"/>
<circle cx="70.78" cy="152.71" r="1.25" fill="#6fa3d8" stroke="none" stroke-width="0.6"/>
<circle cx="75.34" cy="152.71" r="1.25" fill="#6fa3d8" stroke="none" stroke-width="0.6"/>
<circle cx="79.9" cy="153.72" r="1.25" fill="#6fa3d8" stroke="none" stroke-width="0.6"/>
<circle cx="84.46" cy="154.22" r="1.25" fill="#6fa3d8" stroke="none" stroke-width="0.6"/>
<circle cx="89.02" cy="154.72" r="1.25" fill="#6fa3d8" stroke="none" stroke-width="0.6"/>
<circle cx="93.58" cy="155.22" r="1.25" fill="#6fa3d8" stroke="none" stroke-width="0.6"/>
<circle cx="98.14" cy="155.72" r="1.25" fill="#6fa3d8" stroke="none" stroke-width="0.6"/>
<circle cx="102.7" cy="156.23" r="1.25" fill="#6fa3d8" stroke="none" stroke-width="0.6"/>
<circle cx="107.26" cy="156.73" r="1.25" fill="#6fa3d8" stroke="none" stroke-width="0.6"/>
<circle cx="111.82" cy="157.23" r="1.25" fill="#6fa3d8" stroke="none" stroke-width="0.6"/>
<circle cx="116.38" cy="157.23" r="1.25" fill="#6fa3d8" stroke="none" stroke-width="0.6"/>
<circle cx="120.94" cy="157.73" r="1.25" fill="#6fa3d8" stroke="none" stroke-width="0.6"/>
<circle cx="125.5" cy="157.73" r="1.25" fill="#6fa3d8" stroke="none" stroke-width="0.6"/>
<polyline points="34.3,190.9 38.86,189.9 43.42,189.39 47.98,188.89 52.54,187.88 57.1,186.88 61.66,185.88 66.22,184.37 70.78,182.86 75.34,181.35 79.9,179.34 84.46,177.33 89.02,175.32 93.58,173.31 98.14,171.3 102.7,169.29 107.26,167.28 111.82,166.28 116.38,165.78 120.94,165.78 125.5,165.78" fill="none" stroke="#dc4b50" stroke-width="0.9" stroke-linejoin="round"/>
<circle cx="34.3" cy="190.9" r="1.25" fill="#dc4b50" stroke="none" stroke-width="0.6"/>
<circle cx="38.86" cy="189.9" r="1.25" fill="#dc4b50" stroke="none" stroke-width="0.6"/>
<circle cx="43.42" cy="189.39" r="1.25" fill="#dc4b50" stroke="none" stroke-width="0.6"/>
<circle cx="47.98" cy="188.89" r="1.25" fill="#dc4b50" stroke="none" stroke-width="0.6"/>
<circle cx="52.54" cy="187.88" r="1.25" fill="#dc4b50" stroke="none" stroke-width="0.6"/>
<circle cx="57.1" cy="186.88" r="1.25" fill="#dc4b50" stroke="none" stroke-width="0.6"/>
<circle cx="61.66" cy="185.88" r="1.25" fill="#dc4b50" stroke="none" stroke-width="0.6"/>
<circle cx="66.22" cy="184.37" r="1.25" fill="#dc4b50" stroke="none" stroke-width="0.6"/>
<circle cx="70.78" cy="182.86" r="1.25" fill="#dc4b50" stroke="none" stroke-width="0.6"/>
<circle cx="75.34" cy="181.35" r="1.25" fill="#dc4b50" stroke="none" stroke-width="0.6"/>
<circle cx="79.9" cy="179.34" r="1.25" fill="#dc4b50" stroke="none" stroke-width="0.6"/>
<circle cx="84.46" cy="177.33" r="1.25" fill="#dc4b50" stroke="none" stroke-width="0.6"/>
<circle cx="89.02" cy="175.32" r="1.25" fill="#dc4b50" stroke="none" stroke-width="0.6"/>
<circle cx="93.58" cy="173.31" r="1.25" fill="#dc4b50" stroke="none" stroke-width="0.6"/>
<circle cx="98.14" cy="171.3" r="1.25" fill="#dc4b50" stroke="none" stroke-width="0.6"/>
<circle cx="102.7" cy="169.29" r="1.25" fill="#dc4b50" stroke="none" stroke-width="0.6"/>
<circle cx="107.26" cy="167.28" r="1.25" fill="#dc4b50" stroke="none" stroke-width="0.6"/>
<circle cx="111.82" cy="166.28" r="1.25" fill="#dc4b50" stroke="none" stroke-width="0.6"/>
<circle cx="116.38" cy="165.78" r="1.25" fill="#dc4b50" stroke="none" stroke-width="0.6"/>
<circle cx="120.94" cy="165.78" r="1.25" fill="#dc4b50" stroke="none" stroke-width="0.6"/>
<circle cx="125.5" cy="165.78" r="1.25" fill="#dc4b50" stroke="none" stroke-width="0.6"/>
<polyline points="34.3,190.9 38.86,189.9 43.42,188.89 47.98,186.88 52.54,183.87 57.1,177.84 61.66,168.79 66.22,158.74 70.78,151.7 75.34,152.21 79.9,153.72 84.46,154.72 89.02,154.72 93.58,155.72 98.14,156.23 102.7,156.73 107.26,157.23 111.82,157.73 116.38,158.24 120.94,158.74 125.5,158.74" fill="none" stroke="#1a1a1a" stroke-width="0.9" stroke-linejoin="round"/>
<circle cx="34.3" cy="190.9" r="1.25" fill="#1a1a1a" stroke="none" stroke-width="0.6"/>
<circle cx="38.86" cy="189.9" r="1.25" fill="#1a1a1a" stroke="none" stroke-width="0.6"/>
<circle cx="43.42" cy="188.89" r="1.25" fill="#1a1a1a" stroke="none" stroke-width="0.6"/>
<circle cx="47.98" cy="186.88" r="1.25" fill="#1a1a1a" stroke="none" stroke-width="0.6"/>
<circle cx="52.54" cy="183.87" r="1.25" fill="#1a1a1a" stroke="none" stroke-width="0.6"/>
<circle cx="57.1" cy="177.84" r="1.25" fill="#1a1a1a" stroke="none" stroke-width="0.6"/>
<circle cx="61.66" cy="168.79" r="1.25" fill="#1a1a1a" stroke="none" stroke-width="0.6"/>
<circle cx="66.22" cy="158.74" r="1.25" fill="#1a1a1a" stroke="none" stroke-width="0.6"/>
<circle cx="70.78" cy="151.7" r="1.25" fill="#1a1a1a" stroke="none" stroke-width="0.6"/>
<circle cx="75.34" cy="152.21" r="1.25" fill="#1a1a1a" stroke="none" stroke-width="0.6"/>
<circle cx="79.9" cy="153.72" r="1.25" fill="#1a1a1a" stroke="none" stroke-width="0.6"/>
<circle cx="84.46" cy="154.72" r="1.25" fill="#1a1a1a" stroke="none" stroke-width="0.6"/>
<circle cx="89.02" cy="154.72" r="1.25" fill="#1a1a1a" stroke="none" stroke-width="0.6"/>
<circle cx="93.58" cy="155.72" r="1.25" fill="#1a1a1a" stroke="none" stroke-width="0.6"/>
<circle cx="98.14" cy="156.23" r="1.25" fill="#1a1a1a" stroke="none" stroke-width="0.6"/>
<circle cx="102.7" cy="156.73" r="1.25" fill="#1a1a1a" stroke="none" stroke-width="0.6"/>
<circle cx="107.26" cy="157.23" r="1.25" fill="#1a1a1a" stroke="none" stroke-width="0.6"/>
<circle cx="111.82" cy="157.73" r="1.25" fill="#1a1a1a" stroke="none" stroke-width="0.6"/>
<circle cx="116.38" cy="158.24" r="1.25" fill="#1a1a1a" stroke="none" stroke-width="0.6"/>
<circle cx="120.94" cy="158.74" r="1.25" fill="#1a1a1a" stroke="none" stroke-width="0.6"/>
<circle cx="125.5" cy="158.74" r="1.25" fill="#1a1a1a" stroke="none" stroke-width="0.6"/>
<line x1="69.2" y1="128.7" x2="74.4" y2="128.7" stroke="#1a1a1a" stroke-width="0.8" />
<circle cx="71.8" cy="128.7" r="1.2" fill="#1a1a1a" stroke="none" stroke-width="0.6"/>
<text transform="translate(79.1 130.9)" font-size="7.24" text-anchor="start" fill="#222" font-weight="normal" stroke="#222" stroke-width="0.22">WT</text>
<line x1="69.2" y1="135.6" x2="74.4" y2="135.6" stroke="#dc4b50" stroke-width="0.8" />
<circle cx="71.8" cy="135.6" r="1.2" fill="#dc4b50" stroke="none" stroke-width="0.6"/>
<text transform="translate(79.1 137.8)" font-size="7.24" text-anchor="start" fill="#222" font-weight="normal" stroke="#222" stroke-width="0.22">&#916;<tspan font-style="italic">manY</tspan></text>
<line x1="69.2" y1="142.5" x2="74.4" y2="142.5" stroke="#6fa3d8" stroke-width="0.8" />
<circle cx="71.8" cy="142.5" r="1.2" fill="#6fa3d8" stroke="none" stroke-width="0.6"/>
<text transform="translate(79.1 144.7)" font-size="7.24" text-anchor="start" fill="#222" font-weight="normal" stroke="#222" stroke-width="0.22">C&#916;<tspan font-style="italic">manY</tspan></text>
<line x1="112.2" y1="125.1" x2="112.2" y2="133.4" stroke="#444" stroke-width="0.65" />
<text transform="translate(114.2 124.9) rotate(90) scale(1.07 1)" font-size="6.0" text-anchor="start" fill="#3a3a3a" font-weight="normal" stroke="#3a3a3a" stroke-width="0.12">&lt;0.0001</text>
<line x1="120.9" y1="125.1" x2="120.9" y2="141.8" stroke="#666" stroke-width="0.65" />
<text transform="translate(122.9 124.9) rotate(90) scale(1.07 1)" font-size="6.0" text-anchor="start" fill="#3a3a3a" font-weight="normal" stroke="#3a3a3a" stroke-width="0.12">0.9824</text>
<line x1="175.5" y1="190.9" x2="175.5" y2="130.3" stroke="#3a3a3a" stroke-width="0.8" />
<line x1="175.8" y1="190.5" x2="267.8" y2="190.5" stroke="#3a3a3a" stroke-width="0.8" />
<line x1="173.8" y1="190.9" x2="175.8" y2="190.9" stroke="#3a3a3a" stroke-width="0.7" />
<line x1="174.5" y1="180.85" x2="175.8" y2="180.85" stroke="#3a3a3a" stroke-width="0.7" />
<line x1="173.8" y1="170.8" x2="175.8" y2="170.8" stroke="#3a3a3a" stroke-width="0.7" />
<line x1="174.5" y1="160.75" x2="175.8" y2="160.75" stroke="#3a3a3a" stroke-width="0.7" />
<line x1="173.8" y1="150.7" x2="175.8" y2="150.7" stroke="#3a3a3a" stroke-width="0.7" />
<line x1="174.5" y1="140.65" x2="175.8" y2="140.65" stroke="#3a3a3a" stroke-width="0.7" />
<line x1="173.8" y1="130.6" x2="175.8" y2="130.6" stroke="#3a3a3a" stroke-width="0.7" />
<line x1="175.8" y1="190.9" x2="175.8" y2="192.7" stroke="#3a3a3a" stroke-width="0.7" />
<line x1="189.48" y1="190.9" x2="189.48" y2="192.1" stroke="#3a3a3a" stroke-width="0.7" />
<line x1="203.16" y1="190.9" x2="203.16" y2="192.7" stroke="#3a3a3a" stroke-width="0.7" />
<line x1="216.84" y1="190.9" x2="216.84" y2="192.1" stroke="#3a3a3a" stroke-width="0.7" />
<line x1="230.52" y1="190.9" x2="230.52" y2="192.7" stroke="#3a3a3a" stroke-width="0.7" />
<line x1="244.2" y1="190.9" x2="244.2" y2="192.1" stroke="#3a3a3a" stroke-width="0.7" />
<line x1="257.88" y1="190.9" x2="257.88" y2="192.7" stroke="#3a3a3a" stroke-width="0.7" />
<text transform="translate(170.5 193.3)" font-size="7.7" text-anchor="end" fill="#222" font-weight="normal" stroke="#222" stroke-width="0.22">0</text>
<text transform="translate(170.5 173.2)" font-size="7.7" text-anchor="end" fill="#222" font-weight="normal" stroke="#222" stroke-width="0.22">0.2</text>
<text transform="translate(170.5 153.1)" font-size="7.7" text-anchor="end" fill="#222" font-weight="normal" stroke="#222" stroke-width="0.22">0.4</text>
<text transform="translate(170.5 133)" font-size="7.7" text-anchor="end" fill="#222" font-weight="normal" stroke="#222" stroke-width="0.22">0.6</text>
<text transform="translate(175.8 202.1)" font-size="7.47" text-anchor="middle" fill="#222" font-weight="normal" stroke="#222" stroke-width="0.22">0</text>
<text transform="translate(203.16 202.1)" font-size="7.47" text-anchor="middle" fill="#222" font-weight="normal" stroke="#222" stroke-width="0.22">6</text>
<text transform="translate(230.52 202.1)" font-size="7.47" text-anchor="middle" fill="#222" font-weight="normal" stroke="#222" stroke-width="0.22">12</text>
<text transform="translate(257.88 202.1)" font-size="7.47" text-anchor="middle" fill="#222" font-weight="normal" stroke="#222" stroke-width="0.22">18</text>
<text transform="translate(221.8 215.2)" font-size="8.44" text-anchor="middle" fill="#222" font-weight="normal" stroke="#222" stroke-width="0.22">Time (h)</text>
<text transform="translate(151.3 160.75) rotate(-90)" font-size="9.86" text-anchor="middle" fill="#222" font-weight="normal" stroke="#222" stroke-width="0.22">OD<tspan font-size="5.8" dy="2.2">600</tspan></text>
<text transform="translate(221.5 120.2)" font-size="8.66" text-anchor="middle" fill="#222" font-weight="normal" stroke="#222" stroke-width="0.22">Sucrose (2 g l<tspan font-size="4.6" dx="0.5" dy="-3.3">&#8722;1</tspan><tspan dy="3.3">)</tspan></text>
<polyline points="175.8,190.9 180.36,189.9 184.92,189.39 189.48,187.88 194.04,185.88 198.6,181.86 203.16,172.81 207.72,157.73 212.28,148.69 216.84,149.69 221.4,150.7 225.96,150.7 230.52,150.7 235.08,151.2 239.64,151.7 244.2,152.21 248.76,152.71 253.32,153.21 257.88,153.72 262.44,153.72 267,154.22" fill="none" stroke="#6fa3d8" stroke-width="0.9" stroke-linejoin="round"/>
<line x1="203.16" y1="170.8" x2="203.16" y2="174.82" stroke="#6fa3d8" stroke-width="0.6" />
<line x1="201.96" y1="170.8" x2="204.36" y2="170.8" stroke="#6fa3d8" stroke-width="0.6" />
<line x1="201.96" y1="174.82" x2="204.36" y2="174.82" stroke="#6fa3d8" stroke-width="0.6" />
<line x1="207.72" y1="154.72" x2="207.72" y2="160.75" stroke="#6fa3d8" stroke-width="0.6" />
<line x1="206.52" y1="154.72" x2="208.92" y2="154.72" stroke="#6fa3d8" stroke-width="0.6" />
<line x1="206.52" y1="160.75" x2="208.92" y2="160.75" stroke="#6fa3d8" stroke-width="0.6" />
<circle cx="175.8" cy="190.9" r="1.25" fill="#6fa3d8" stroke="none" stroke-width="0.6"/>
<circle cx="180.36" cy="189.9" r="1.25" fill="#6fa3d8" stroke="none" stroke-width="0.6"/>
<circle cx="184.92" cy="189.39" r="1.25" fill="#6fa3d8" stroke="none" stroke-width="0.6"/>
<circle cx="189.48" cy="187.88" r="1.25" fill="#6fa3d8" stroke="none" stroke-width="0.6"/>
<circle cx="194.04" cy="185.88" r="1.25" fill="#6fa3d8" stroke="none" stroke-width="0.6"/>
<circle cx="198.6" cy="181.86" r="1.25" fill="#6fa3d8" stroke="none" stroke-width="0.6"/>
<circle cx="203.16" cy="172.81" r="1.25" fill="#6fa3d8" stroke="none" stroke-width="0.6"/>
<circle cx="207.72" cy="157.73" r="1.25" fill="#6fa3d8" stroke="none" stroke-width="0.6"/>
<circle cx="212.28" cy="148.69" r="1.25" fill="#6fa3d8" stroke="none" stroke-width="0.6"/>
<circle cx="216.84" cy="149.69" r="1.25" fill="#6fa3d8" stroke="none" stroke-width="0.6"/>
<circle cx="221.4" cy="150.7" r="1.25" fill="#6fa3d8" stroke="none" stroke-width="0.6"/>
<circle cx="225.96" cy="150.7" r="1.25" fill="#6fa3d8" stroke="none" stroke-width="0.6"/>
<circle cx="230.52" cy="150.7" r="1.25" fill="#6fa3d8" stroke="none" stroke-width="0.6"/>
<circle cx="235.08" cy="151.2" r="1.25" fill="#6fa3d8" stroke="none" stroke-width="0.6"/>
<circle cx="239.64" cy="151.7" r="1.25" fill="#6fa3d8" stroke="none" stroke-width="0.6"/>
<circle cx="244.2" cy="152.21" r="1.25" fill="#6fa3d8" stroke="none" stroke-width="0.6"/>
<circle cx="248.76" cy="152.71" r="1.25" fill="#6fa3d8" stroke="none" stroke-width="0.6"/>
<circle cx="253.32" cy="153.21" r="1.25" fill="#6fa3d8" stroke="none" stroke-width="0.6"/>
<circle cx="257.88" cy="153.72" r="1.25" fill="#6fa3d8" stroke="none" stroke-width="0.6"/>
<circle cx="262.44" cy="153.72" r="1.25" fill="#6fa3d8" stroke="none" stroke-width="0.6"/>
<circle cx="267" cy="154.22" r="1.25" fill="#6fa3d8" stroke="none" stroke-width="0.6"/>
<polyline points="175.8,190.9 180.36,189.9 184.92,189.39 189.48,188.39 194.04,186.38 198.6,184.87 203.16,180.85 207.72,169.8 212.28,150.7 216.84,148.69 221.4,149.69 225.96,149.69 230.52,149.69 235.08,150.2 239.64,150.7 244.2,151.2 248.76,151.7 253.32,152.21 257.88,152.71 262.44,152.71 267,153.21" fill="none" stroke="#dc4b50" stroke-width="0.9" stroke-linejoin="round"/>
<line x1="198.6" y1="183.66" x2="198.6" y2="186.08" stroke="#dc4b50" stroke-width="0.6" />
<line x1="197.4" y1="183.66" x2="199.8" y2="183.66" stroke="#dc4b50" stroke-width="0.6" />
<line x1="197.4" y1="186.08" x2="199.8" y2="186.08" stroke="#dc4b50" stroke-width="0.6" />
<line x1="203.16" y1="177.84" x2="203.16" y2="183.87" stroke="#dc4b50" stroke-width="0.6" />
<line x1="201.96" y1="177.84" x2="204.36" y2="177.84" stroke="#dc4b50" stroke-width="0.6" />
<line x1="201.96" y1="183.87" x2="204.36" y2="183.87" stroke="#dc4b50" stroke-width="0.6" />
<line x1="207.72" y1="165.27" x2="207.72" y2="174.32" stroke="#dc4b50" stroke-width="0.6" />
<line x1="206.52" y1="165.27" x2="208.92" y2="165.27" stroke="#dc4b50" stroke-width="0.6" />
<line x1="206.52" y1="174.32" x2="208.92" y2="174.32" stroke="#dc4b50" stroke-width="0.6" />
<circle cx="175.8" cy="190.9" r="1.25" fill="#dc4b50" stroke="none" stroke-width="0.6"/>
<circle cx="180.36" cy="189.9" r="1.25" fill="#dc4b50" stroke="none" stroke-width="0.6"/>
<circle cx="184.92" cy="189.39" r="1.25" fill="#dc4b50" stroke="none" stroke-width="0.6"/>
<circle cx="189.48" cy="188.39" r="1.25" fill="#dc4b50" stroke="none" stroke-width="0.6"/>
<circle cx="194.04" cy="186.38" r="1.25" fill="#dc4b50" stroke="none" stroke-width="0.6"/>
<circle cx="198.6" cy="184.87" r="1.25" fill="#dc4b50" stroke="none" stroke-width="0.6"/>
<circle cx="203.16" cy="180.85" r="1.25" fill="#dc4b50" stroke="none" stroke-width="0.6"/>
<circle cx="207.72" cy="169.8" r="1.25" fill="#dc4b50" stroke="none" stroke-width="0.6"/>
<circle cx="212.28" cy="150.7" r="1.25" fill="#dc4b50" stroke="none" stroke-width="0.6"/>
<circle cx="216.84" cy="148.69" r="1.25" fill="#dc4b50" stroke="none" stroke-width="0.6"/>
<circle cx="221.4" cy="149.69" r="1.25" fill="#dc4b50" stroke="none" stroke-width="0.6"/>
<circle cx="225.96" cy="149.69" r="1.25" fill="#dc4b50" stroke="none" stroke-width="0.6"/>
<circle cx="230.52" cy="149.69" r="1.25" fill="#dc4b50" stroke="none" stroke-width="0.6"/>
<circle cx="235.08" cy="150.2" r="1.25" fill="#dc4b50" stroke="none" stroke-width="0.6"/>
<circle cx="239.64" cy="150.7" r="1.25" fill="#dc4b50" stroke="none" stroke-width="0.6"/>
<circle cx="244.2" cy="151.2" r="1.25" fill="#dc4b50" stroke="none" stroke-width="0.6"/>
<circle cx="248.76" cy="151.7" r="1.25" fill="#dc4b50" stroke="none" stroke-width="0.6"/>
<circle cx="253.32" cy="152.21" r="1.25" fill="#dc4b50" stroke="none" stroke-width="0.6"/>
<circle cx="257.88" cy="152.71" r="1.25" fill="#dc4b50" stroke="none" stroke-width="0.6"/>
<circle cx="262.44" cy="152.71" r="1.25" fill="#dc4b50" stroke="none" stroke-width="0.6"/>
<circle cx="267" cy="153.21" r="1.25" fill="#dc4b50" stroke="none" stroke-width="0.6"/>
<polyline points="175.8,190.9 180.36,189.9 184.92,189.39 189.48,187.88 194.04,185.88 198.6,182.86 203.16,175.82 207.72,160.75 212.28,147.69 216.84,148.69 221.4,149.69 225.96,149.69 230.52,149.69 235.08,150.2 239.64,150.7 244.2,151.2 248.76,151.7 253.32,152.21 257.88,152.71 262.44,152.71 267,153.21" fill="none" stroke="#1a1a1a" stroke-width="0.9" stroke-linejoin="round"/>
<circle cx="175.8" cy="190.9" r="1.25" fill="#1a1a1a" stroke="none" stroke-width="0.6"/>
<circle cx="180.36" cy="189.9" r="1.25" fill="#1a1a1a" stroke="none" stroke-width="0.6"/>
<circle cx="184.92" cy="189.39" r="1.25" fill="#1a1a1a" stroke="none" stroke-width="0.6"/>
<circle cx="189.48" cy="187.88" r="1.25" fill="#1a1a1a" stroke="none" stroke-width="0.6"/>
<circle cx="194.04" cy="185.88" r="1.25" fill="#1a1a1a" stroke="none" stroke-width="0.6"/>
<circle cx="198.6" cy="182.86" r="1.25" fill="#1a1a1a" stroke="none" stroke-width="0.6"/>
<circle cx="203.16" cy="175.82" r="1.25" fill="#1a1a1a" stroke="none" stroke-width="0.6"/>
<circle cx="207.72" cy="160.75" r="1.25" fill="#1a1a1a" stroke="none" stroke-width="0.6"/>
<circle cx="212.28" cy="147.69" r="1.25" fill="#1a1a1a" stroke="none" stroke-width="0.6"/>
<circle cx="216.84" cy="148.69" r="1.25" fill="#1a1a1a" stroke="none" stroke-width="0.6"/>
<circle cx="221.4" cy="149.69" r="1.25" fill="#1a1a1a" stroke="none" stroke-width="0.6"/>
<circle cx="225.96" cy="149.69" r="1.25" fill="#1a1a1a" stroke="none" stroke-width="0.6"/>
<circle cx="230.52" cy="149.69" r="1.25" fill="#1a1a1a" stroke="none" stroke-width="0.6"/>
<circle cx="235.08" cy="150.2" r="1.25" fill="#1a1a1a" stroke="none" stroke-width="0.6"/>
<circle cx="239.64" cy="150.7" r="1.25" fill="#1a1a1a" stroke="none" stroke-width="0.6"/>
<circle cx="244.2" cy="151.2" r="1.25" fill="#1a1a1a" stroke="none" stroke-width="0.6"/>
<circle cx="248.76" cy="151.7" r="1.25" fill="#1a1a1a" stroke="none" stroke-width="0.6"/>
<circle cx="253.32" cy="152.21" r="1.25" fill="#1a1a1a" stroke="none" stroke-width="0.6"/>
<circle cx="257.88" cy="152.71" r="1.25" fill="#1a1a1a" stroke="none" stroke-width="0.6"/>
<circle cx="262.44" cy="152.71" r="1.25" fill="#1a1a1a" stroke="none" stroke-width="0.6"/>
<circle cx="267" cy="153.21" r="1.25" fill="#1a1a1a" stroke="none" stroke-width="0.6"/>
<line x1="210.7" y1="128.7" x2="215.9" y2="128.7" stroke="#1a1a1a" stroke-width="0.8" />
<circle cx="213.3" cy="128.7" r="1.2" fill="#1a1a1a" stroke="none" stroke-width="0.6"/>
<text transform="translate(220.6 130.9)" font-size="7.24" text-anchor="start" fill="#222" font-weight="normal" stroke="#222" stroke-width="0.22">WT</text>
<line x1="210.7" y1="135.6" x2="215.9" y2="135.6" stroke="#dc4b50" stroke-width="0.8" />
<circle cx="213.3" cy="135.6" r="1.2" fill="#dc4b50" stroke="none" stroke-width="0.6"/>
<text transform="translate(220.6 137.8)" font-size="7.24" text-anchor="start" fill="#222" font-weight="normal" stroke="#222" stroke-width="0.22">&#916;<tspan font-style="italic">manY</tspan></text>
<line x1="210.7" y1="142.5" x2="215.9" y2="142.5" stroke="#6fa3d8" stroke-width="0.8" />
<circle cx="213.3" cy="142.5" r="1.2" fill="#6fa3d8" stroke="none" stroke-width="0.6"/>
<text transform="translate(220.6 144.7)" font-size="7.24" text-anchor="start" fill="#222" font-weight="normal" stroke="#222" stroke-width="0.22">C&#916;<tspan font-style="italic">manY</tspan></text>
<line x1="253.6" y1="125.6" x2="253.6" y2="133.9" stroke="#444" stroke-width="0.65" />
<text transform="translate(255.6 125.4) rotate(90) scale(1.07 1)" font-size="6.0" text-anchor="start" fill="#3a3a3a" font-weight="normal" stroke="#3a3a3a" stroke-width="0.12">0.0236</text>
<line x1="262.3" y1="125.6" x2="262.3" y2="142.3" stroke="#666" stroke-width="0.65" />
<text transform="translate(264.3 125.4) rotate(90) scale(1.07 1)" font-size="6.0" text-anchor="start" fill="#3a3a3a" font-weight="normal" stroke="#3a3a3a" stroke-width="0.12">0.9202</text>
<line x1="34.5" y1="299.7" x2="34.5" y2="239.1" stroke="#3a3a3a" stroke-width="0.8" />
<line x1="34.3" y1="299.5" x2="126.3" y2="299.5" stroke="#3a3a3a" stroke-width="0.8" />
<line x1="32.3" y1="299.7" x2="34.3" y2="299.7" stroke="#3a3a3a" stroke-width="0.7" />
<line x1="33" y1="289.65" x2="34.3" y2="289.65" stroke="#3a3a3a" stroke-width="0.7" />
<line x1="32.3" y1="279.6" x2="34.3" y2="279.6" stroke="#3a3a3a" stroke-width="0.7" />
<line x1="33" y1="269.55" x2="34.3" y2="269.55" stroke="#3a3a3a" stroke-width="0.7" />
<line x1="32.3" y1="259.5" x2="34.3" y2="259.5" stroke="#3a3a3a" stroke-width="0.7" />
<line x1="33" y1="249.45" x2="34.3" y2="249.45" stroke="#3a3a3a" stroke-width="0.7" />
<line x1="32.3" y1="239.4" x2="34.3" y2="239.4" stroke="#3a3a3a" stroke-width="0.7" />
<line x1="34.3" y1="299.7" x2="34.3" y2="301.5" stroke="#3a3a3a" stroke-width="0.7" />
<line x1="47.98" y1="299.7" x2="47.98" y2="300.9" stroke="#3a3a3a" stroke-width="0.7" />
<line x1="61.66" y1="299.7" x2="61.66" y2="301.5" stroke="#3a3a3a" stroke-width="0.7" />
<line x1="75.34" y1="299.7" x2="75.34" y2="300.9" stroke="#3a3a3a" stroke-width="0.7" />
<line x1="89.02" y1="299.7" x2="89.02" y2="301.5" stroke="#3a3a3a" stroke-width="0.7" />
<line x1="102.7" y1="299.7" x2="102.7" y2="300.9" stroke="#3a3a3a" stroke-width="0.7" />
<line x1="116.38" y1="299.7" x2="116.38" y2="301.5" stroke="#3a3a3a" stroke-width="0.7" />
<text transform="translate(29 302.1)" font-size="7.7" text-anchor="end" fill="#222" font-weight="normal" stroke="#222" stroke-width="0.22">0</text>
<text transform="translate(29 282)" font-size="7.7" text-anchor="end" fill="#222" font-weight="normal" stroke="#222" stroke-width="0.22">0.2</text>
<text transform="translate(29 261.9)" font-size="7.7" text-anchor="end" fill="#222" font-weight="normal" stroke="#222" stroke-width="0.22">0.4</text>
<text transform="translate(29 241.8)" font-size="7.7" text-anchor="end" fill="#222" font-weight="normal" stroke="#222" stroke-width="0.22">0.6</text>
<text transform="translate(34.3 310.9)" font-size="7.47" text-anchor="middle" fill="#222" font-weight="normal" stroke="#222" stroke-width="0.22">0</text>
<text transform="translate(61.66 310.9)" font-size="7.47" text-anchor="middle" fill="#222" font-weight="normal" stroke="#222" stroke-width="0.22">6</text>
<text transform="translate(89.02 310.9)" font-size="7.47" text-anchor="middle" fill="#222" font-weight="normal" stroke="#222" stroke-width="0.22">12</text>
<text transform="translate(116.38 310.9)" font-size="7.47" text-anchor="middle" fill="#222" font-weight="normal" stroke="#222" stroke-width="0.22">18</text>
<text transform="translate(80.3 324)" font-size="8.44" text-anchor="middle" fill="#222" font-weight="normal" stroke="#222" stroke-width="0.22">Time (h)</text>
<text transform="translate(9.8 269.55) rotate(-90)" font-size="9.86" text-anchor="middle" fill="#222" font-weight="normal" stroke="#222" stroke-width="0.22">OD<tspan font-size="5.8" dy="2.2">600</tspan></text>
<text transform="translate(80 229)" font-size="8.66" text-anchor="middle" fill="#222" font-weight="normal" stroke="#222" stroke-width="0.22">Mannose (2 g l<tspan font-size="4.6" dx="0.5" dy="-3.3">&#8722;1</tspan><tspan dy="3.3">)</tspan></text>
<polyline points="34.3,299.7 38.86,299.4 43.42,298.9 47.98,298.39 52.54,297.69 57.1,297.19 61.66,296.69 66.22,296.18 70.78,295.68 75.34,294.68 79.9,293.67 84.46,292.66 89.02,291.16 93.58,289.65 98.14,287.64 102.7,285.13 107.26,282.62 111.82,280.61 116.38,279.6 120.94,277.59 125.5,279.6" fill="none" stroke="#6fa3d8" stroke-width="0.9" stroke-linejoin="round"/>
<circle cx="34.3" cy="299.7" r="1.25" fill="#6fa3d8" stroke="none" stroke-width="0.6"/>
<circle cx="38.86" cy="299.4" r="1.25" fill="#6fa3d8" stroke="none" stroke-width="0.6"/>
<circle cx="43.42" cy="298.9" r="1.25" fill="#6fa3d8" stroke="none" stroke-width="0.6"/>
<circle cx="47.98" cy="298.39" r="1.25" fill="#6fa3d8" stroke="none" stroke-width="0.6"/>
<circle cx="52.54" cy="297.69" r="1.25" fill="#6fa3d8" stroke="none" stroke-width="0.6"/>
<circle cx="57.1" cy="297.19" r="1.25" fill="#6fa3d8" stroke="none" stroke-width="0.6"/>
<circle cx="61.66" cy="296.69" r="1.25" fill="#6fa3d8" stroke="none" stroke-width="0.6"/>
<circle cx="66.22" cy="296.18" r="1.25" fill="#6fa3d8" stroke="none" stroke-width="0.6"/>
<circle cx="70.78" cy="295.68" r="1.25" fill="#6fa3d8" stroke="none" stroke-width="0.6"/>
<circle cx="75.34" cy="294.68" r="1.25" fill="#6fa3d8" stroke="none" stroke-width="0.6"/>
<circle cx="79.9" cy="293.67" r="1.25" fill="#6fa3d8" stroke="none" stroke-width="0.6"/>
<circle cx="84.46" cy="292.66" r="1.25" fill="#6fa3d8" stroke="none" stroke-width="0.6"/>
<circle cx="89.02" cy="291.16" r="1.25" fill="#6fa3d8" stroke="none" stroke-width="0.6"/>
<circle cx="93.58" cy="289.65" r="1.25" fill="#6fa3d8" stroke="none" stroke-width="0.6"/>
<circle cx="98.14" cy="287.64" r="1.25" fill="#6fa3d8" stroke="none" stroke-width="0.6"/>
<circle cx="102.7" cy="285.13" r="1.25" fill="#6fa3d8" stroke="none" stroke-width="0.6"/>
<circle cx="107.26" cy="282.62" r="1.25" fill="#6fa3d8" stroke="none" stroke-width="0.6"/>
<circle cx="111.82" cy="280.61" r="1.25" fill="#6fa3d8" stroke="none" stroke-width="0.6"/>
<circle cx="116.38" cy="279.6" r="1.25" fill="#6fa3d8" stroke="none" stroke-width="0.6"/>
<circle cx="120.94" cy="277.59" r="1.25" fill="#6fa3d8" stroke="none" stroke-width="0.6"/>
<circle cx="125.5" cy="279.6" r="1.25" fill="#6fa3d8" stroke="none" stroke-width="0.6"/>
<polyline points="34.3,299.7 38.86,299.4 43.42,299.1 47.98,298.69 52.54,298.19 57.1,297.69 61.66,297.49 66.22,297.29 70.78,297.19 75.34,297.09 79.9,296.99 84.46,296.89 89.02,296.89 93.58,296.79 98.14,296.69 102.7,296.69 107.26,296.69 111.82,296.69 116.38,296.69 120.94,296.69 125.5,296.69" fill="none" stroke="#dc4b50" stroke-width="0.9" stroke-linejoin="round"/>
<circle cx="34.3" cy="299.7" r="1.25" fill="#dc4b50" stroke="none" stroke-width="0.6"/>
<circle cx="38.86" cy="299.4" r="1.25" fill="#dc4b50" stroke="none" stroke-width="0.6"/>
<circle cx="43.42" cy="299.1" r="1.25" fill="#dc4b50" stroke="none" stroke-width="0.6"/>
<circle cx="47.98" cy="298.69" r="1.25" fill="#dc4b50" stroke="none" stroke-width="0.6"/>
<circle cx="52.54" cy="298.19" r="1.25" fill="#dc4b50" stroke="none" stroke-width="0.6"/>
<circle cx="57.1" cy="297.69" r="1.25" fill="#dc4b50" stroke="none" stroke-width="0.6"/>
<circle cx="61.66" cy="297.49" r="1.25" fill="#dc4b50" stroke="none" stroke-width="0.6"/>
<circle cx="66.22" cy="297.29" r="1.25" fill="#dc4b50" stroke="none" stroke-width="0.6"/>
<circle cx="70.78" cy="297.19" r="1.25" fill="#dc4b50" stroke="none" stroke-width="0.6"/>
<circle cx="75.34" cy="297.09" r="1.25" fill="#dc4b50" stroke="none" stroke-width="0.6"/>
<circle cx="79.9" cy="296.99" r="1.25" fill="#dc4b50" stroke="none" stroke-width="0.6"/>
<circle cx="84.46" cy="296.89" r="1.25" fill="#dc4b50" stroke="none" stroke-width="0.6"/>
<circle cx="89.02" cy="296.89" r="1.25" fill="#dc4b50" stroke="none" stroke-width="0.6"/>
<circle cx="93.58" cy="296.79" r="1.25" fill="#dc4b50" stroke="none" stroke-width="0.6"/>
<circle cx="98.14" cy="296.69" r="1.25" fill="#dc4b50" stroke="none" stroke-width="0.6"/>
<circle cx="102.7" cy="296.69" r="1.25" fill="#dc4b50" stroke="none" stroke-width="0.6"/>
<circle cx="107.26" cy="296.69" r="1.25" fill="#dc4b50" stroke="none" stroke-width="0.6"/>
<circle cx="111.82" cy="296.69" r="1.25" fill="#dc4b50" stroke="none" stroke-width="0.6"/>
<circle cx="116.38" cy="296.69" r="1.25" fill="#dc4b50" stroke="none" stroke-width="0.6"/>
<circle cx="120.94" cy="296.69" r="1.25" fill="#dc4b50" stroke="none" stroke-width="0.6"/>
<circle cx="125.5" cy="296.69" r="1.25" fill="#dc4b50" stroke="none" stroke-width="0.6"/>
<polyline points="34.3,299.7 38.86,299.4 43.42,298.9 47.98,298.39 52.54,297.69 57.1,296.69 61.66,295.68 66.22,295.18 70.78,294.17 75.34,293.17 79.9,291.66 84.46,290.65 89.02,289.65 93.58,288.14 98.14,286.13 102.7,284.12 107.26,282.11 111.82,280.61 116.38,279.6 120.94,278.09 125.5,279.1" fill="none" stroke="#1a1a1a" stroke-width="0.9" stroke-linejoin="round"/>
<circle cx="34.3" cy="299.7" r="1.25" fill="#1a1a1a" stroke="none" stroke-width="0.6"/>
<circle cx="38.86" cy="299.4" r="1.25" fill="#1a1a1a" stroke="none" stroke-width="0.6"/>
<circle cx="43.42" cy="298.9" r="1.25" fill="#1a1a1a" stroke="none" stroke-width="0.6"/>
<circle cx="47.98" cy="298.39" r="1.25" fill="#1a1a1a" stroke="none" stroke-width="0.6"/>
<circle cx="52.54" cy="297.69" r="1.25" fill="#1a1a1a" stroke="none" stroke-width="0.6"/>
<circle cx="57.1" cy="296.69" r="1.25" fill="#1a1a1a" stroke="none" stroke-width="0.6"/>
<circle cx="61.66" cy="295.68" r="1.25" fill="#1a1a1a" stroke="none" stroke-width="0.6"/>
<circle cx="66.22" cy="295.18" r="1.25" fill="#1a1a1a" stroke="none" stroke-width="0.6"/>
<circle cx="70.78" cy="294.17" r="1.25" fill="#1a1a1a" stroke="none" stroke-width="0.6"/>
<circle cx="75.34" cy="293.17" r="1.25" fill="#1a1a1a" stroke="none" stroke-width="0.6"/>
<circle cx="79.9" cy="291.66" r="1.25" fill="#1a1a1a" stroke="none" stroke-width="0.6"/>
<circle cx="84.46" cy="290.65" r="1.25" fill="#1a1a1a" stroke="none" stroke-width="0.6"/>
<circle cx="89.02" cy="289.65" r="1.25" fill="#1a1a1a" stroke="none" stroke-width="0.6"/>
<circle cx="93.58" cy="288.14" r="1.25" fill="#1a1a1a" stroke="none" stroke-width="0.6"/>
<circle cx="98.14" cy="286.13" r="1.25" fill="#1a1a1a" stroke="none" stroke-width="0.6"/>
<circle cx="102.7" cy="284.12" r="1.25" fill="#1a1a1a" stroke="none" stroke-width="0.6"/>
<circle cx="107.26" cy="282.11" r="1.25" fill="#1a1a1a" stroke="none" stroke-width="0.6"/>
<circle cx="111.82" cy="280.61" r="1.25" fill="#1a1a1a" stroke="none" stroke-width="0.6"/>
<circle cx="116.38" cy="279.6" r="1.25" fill="#1a1a1a" stroke="none" stroke-width="0.6"/>
<circle cx="120.94" cy="278.09" r="1.25" fill="#1a1a1a" stroke="none" stroke-width="0.6"/>
<circle cx="125.5" cy="279.1" r="1.25" fill="#1a1a1a" stroke="none" stroke-width="0.6"/>
<line x1="73.1" y1="237.5" x2="78.3" y2="237.5" stroke="#1a1a1a" stroke-width="0.8" />
<circle cx="75.7" cy="237.5" r="1.2" fill="#1a1a1a" stroke="none" stroke-width="0.6"/>
<text transform="translate(83 239.7)" font-size="7.24" text-anchor="start" fill="#222" font-weight="normal" stroke="#222" stroke-width="0.22">WT</text>
<line x1="73.1" y1="244.4" x2="78.3" y2="244.4" stroke="#dc4b50" stroke-width="0.8" />
<circle cx="75.7" cy="244.4" r="1.2" fill="#dc4b50" stroke="none" stroke-width="0.6"/>
<text transform="translate(83 246.6)" font-size="7.24" text-anchor="start" fill="#222" font-weight="normal" stroke="#222" stroke-width="0.22">&#916;<tspan font-style="italic">manY</tspan></text>
<line x1="73.1" y1="251.3" x2="78.3" y2="251.3" stroke="#6fa3d8" stroke-width="0.8" />
<circle cx="75.7" cy="251.3" r="1.2" fill="#6fa3d8" stroke="none" stroke-width="0.6"/>
<text transform="translate(83 253.5)" font-size="7.24" text-anchor="start" fill="#222" font-weight="normal" stroke="#222" stroke-width="0.22">C&#916;<tspan font-style="italic">manY</tspan></text>
<line x1="112.2" y1="234.3" x2="112.2" y2="242.6" stroke="#444" stroke-width="0.65" />
<text transform="translate(114.2 234.1) rotate(90) scale(1.07 1)" font-size="6.0" text-anchor="start" fill="#3a3a3a" font-weight="normal" stroke="#3a3a3a" stroke-width="0.12">&lt;0.0001</text>
<line x1="120.9" y1="234.3" x2="120.9" y2="251" stroke="#666" stroke-width="0.65" />
<text transform="translate(122.9 234.1) rotate(90) scale(1.07 1)" font-size="6.0" text-anchor="start" fill="#3a3a3a" font-weight="normal" stroke="#3a3a3a" stroke-width="0.12">0.1796</text>
<line x1="178.5" y1="299.7" x2="178.5" y2="239.1" stroke="#3a3a3a" stroke-width="0.8" />
<line x1="178" y1="299.5" x2="270" y2="299.5" stroke="#3a3a3a" stroke-width="0.8" />
<line x1="176" y1="299.7" x2="178" y2="299.7" stroke="#3a3a3a" stroke-width="0.7" />
<line x1="176.7" y1="289.65" x2="178" y2="289.65" stroke="#3a3a3a" stroke-width="0.7" />
<line x1="176" y1="279.6" x2="178" y2="279.6" stroke="#3a3a3a" stroke-width="0.7" />
<line x1="176.7" y1="269.55" x2="178" y2="269.55" stroke="#3a3a3a" stroke-width="0.7" />
<line x1="176" y1="259.5" x2="178" y2="259.5" stroke="#3a3a3a" stroke-width="0.7" />
<line x1="176.7" y1="249.45" x2="178" y2="249.45" stroke="#3a3a3a" stroke-width="0.7" />
<line x1="176" y1="239.4" x2="178" y2="239.4" stroke="#3a3a3a" stroke-width="0.7" />
<line x1="178" y1="299.7" x2="178" y2="301.5" stroke="#3a3a3a" stroke-width="0.7" />
<line x1="191.68" y1="299.7" x2="191.68" y2="300.9" stroke="#3a3a3a" stroke-width="0.7" />
<line x1="205.36" y1="299.7" x2="205.36" y2="301.5" stroke="#3a3a3a" stroke-width="0.7" />
<line x1="219.04" y1="299.7" x2="219.04" y2="300.9" stroke="#3a3a3a" stroke-width="0.7" />
<line x1="232.72" y1="299.7" x2="232.72" y2="301.5" stroke="#3a3a3a" stroke-width="0.7" />
<line x1="246.4" y1="299.7" x2="246.4" y2="300.9" stroke="#3a3a3a" stroke-width="0.7" />
<line x1="260.08" y1="299.7" x2="260.08" y2="301.5" stroke="#3a3a3a" stroke-width="0.7" />
<text transform="translate(172.7 302.1)" font-size="7.7" text-anchor="end" fill="#222" font-weight="normal" stroke="#222" stroke-width="0.22">0</text>
<text transform="translate(172.7 282)" font-size="7.7" text-anchor="end" fill="#222" font-weight="normal" stroke="#222" stroke-width="0.22">0.2</text>
<text transform="translate(172.7 261.9)" font-size="7.7" text-anchor="end" fill="#222" font-weight="normal" stroke="#222" stroke-width="0.22">0.4</text>
<text transform="translate(172.7 241.8)" font-size="7.7" text-anchor="end" fill="#222" font-weight="normal" stroke="#222" stroke-width="0.22">0.6</text>
<text transform="translate(178 310.9)" font-size="7.47" text-anchor="middle" fill="#222" font-weight="normal" stroke="#222" stroke-width="0.22">0</text>
<text transform="translate(205.36 310.9)" font-size="7.47" text-anchor="middle" fill="#222" font-weight="normal" stroke="#222" stroke-width="0.22">6</text>
<text transform="translate(232.72 310.9)" font-size="7.47" text-anchor="middle" fill="#222" font-weight="normal" stroke="#222" stroke-width="0.22">12</text>
<text transform="translate(260.08 310.9)" font-size="7.47" text-anchor="middle" fill="#222" font-weight="normal" stroke="#222" stroke-width="0.22">18</text>
<text transform="translate(224 324)" font-size="8.44" text-anchor="middle" fill="#222" font-weight="normal" stroke="#222" stroke-width="0.22">Time (h)</text>
<text transform="translate(153.5 269.55) rotate(-90)" font-size="9.86" text-anchor="middle" fill="#222" font-weight="normal" stroke="#222" stroke-width="0.22">OD<tspan font-size="5.8" dy="2.2">600</tspan></text>
<text transform="translate(223.7 229)" font-size="8.66" text-anchor="middle" fill="#222" font-weight="normal" stroke="#222" stroke-width="0.22">Lactose (2 g l<tspan font-size="4.6" dx="0.5" dy="-3.3">&#8722;1</tspan><tspan dy="3.3">)</tspan></text>
<polyline points="178,299.7 182.56,299.7 187.12,299.4 191.68,298.9 196.24,298.19 200.8,297.19 205.36,296.18 209.92,295.18 214.48,293.17 219.04,290.65 223.6,286.63 228.16,281.61 232.72,279.6 237.28,277.59 241.84,277.59 246.4,278.09 250.96,279.6 255.52,281.61 260.08,281.61 264.64,282.62" fill="none" stroke="#6fa3d8" stroke-width="0.9" stroke-linejoin="round"/>
<circle cx="178" cy="299.7" r="1.25" fill="#6fa3d8" stroke="none" stroke-width="0.6"/>
<circle cx="182.56" cy="299.7" r="1.25" fill="#6fa3d8" stroke="none" stroke-width="0.6"/>
<circle cx="187.12" cy="299.4" r="1.25" fill="#6fa3d8" stroke="none" stroke-width="0.6"/>
<circle cx="191.68" cy="298.9" r="1.25" fill="#6fa3d8" stroke="none" stroke-width="0.6"/>
<circle cx="196.24" cy="298.19" r="1.25" fill="#6fa3d8" stroke="none" stroke-width="0.6"/>
<circle cx="200.8" cy="297.19" r="1.25" fill="#6fa3d8" stroke="none" stroke-width="0.6"/>
<circle cx="205.36" cy="296.18" r="1.25" fill="#6fa3d8" stroke="none" stroke-width="0.6"/>
<circle cx="209.92" cy="295.18" r="1.25" fill="#6fa3d8" stroke="none" stroke-width="0.6"/>
<circle cx="214.48" cy="293.17" r="1.25" fill="#6fa3d8" stroke="none" stroke-width="0.6"/>
<circle cx="219.04" cy="290.65" r="1.25" fill="#6fa3d8" stroke="none" stroke-width="0.6"/>
<circle cx="223.6" cy="286.63" r="1.25" fill="#6fa3d8" stroke="none" stroke-width="0.6"/>
<circle cx="228.16" cy="281.61" r="1.25" fill="#6fa3d8" stroke="none" stroke-width="0.6"/>
<circle cx="232.72" cy="279.6" r="1.25" fill="#6fa3d8" stroke="none" stroke-width="0.6"/>
<circle cx="237.28" cy="277.59" r="1.25" fill="#6fa3d8" stroke="none" stroke-width="0.6"/>
<circle cx="241.84" cy="277.59" r="1.25" fill="#6fa3d8" stroke="none" stroke-width="0.6"/>
<circle cx="246.4" cy="278.09" r="1.25" fill="#6fa3d8" stroke="none" stroke-width="0.6"/>
<circle cx="250.96" cy="279.6" r="1.25" fill="#6fa3d8" stroke="none" stroke-width="0.6"/>
<circle cx="255.52" cy="281.61" r="1.25" fill="#6fa3d8" stroke="none" stroke-width="0.6"/>
<circle cx="260.08" cy="281.61" r="1.25" fill="#6fa3d8" stroke="none" stroke-width="0.6"/>
<circle cx="264.64" cy="282.62" r="1.25" fill="#6fa3d8" stroke="none" stroke-width="0.6"/>
<polyline points="178,299.7 182.56,299.7 187.12,299.3 191.68,298.69 196.24,297.89 200.8,296.89 205.36,295.68 209.92,293.67 214.48,290.65 219.04,287.64 223.6,281.61 228.16,277.59 232.72,277.59 237.28,276.08 241.84,276.58 246.4,278.59 250.96,278.09 255.52,279.1 260.08,279.6 264.64,279.6" fill="none" stroke="#dc4b50" stroke-width="0.9" stroke-linejoin="round"/>
<circle cx="178" cy="299.7" r="1.25" fill="#dc4b50" stroke="none" stroke-width="0.6"/>
<circle cx="182.56" cy="299.7" r="1.25" fill="#dc4b50" stroke="none" stroke-width="0.6"/>
<circle cx="187.12" cy="299.3" r="1.25" fill="#dc4b50" stroke="none" stroke-width="0.6"/>
<circle cx="191.68" cy="298.69" r="1.25" fill="#dc4b50" stroke="none" stroke-width="0.6"/>
<circle cx="196.24" cy="297.89" r="1.25" fill="#dc4b50" stroke="none" stroke-width="0.6"/>
<circle cx="200.8" cy="296.89" r="1.25" fill="#dc4b50" stroke="none" stroke-width="0.6"/>
<circle cx="205.36" cy="295.68" r="1.25" fill="#dc4b50" stroke="none" stroke-width="0.6"/>
<circle cx="209.92" cy="293.67" r="1.25" fill="#dc4b50" stroke="none" stroke-width="0.6"/>
<circle cx="214.48" cy="290.65" r="1.25" fill="#dc4b50" stroke="none" stroke-width="0.6"/>
<circle cx="219.04" cy="287.64" r="1.25" fill="#dc4b50" stroke="none" stroke-width="0.6"/>
<circle cx="223.6" cy="281.61" r="1.25" fill="#dc4b50" stroke="none" stroke-width="0.6"/>
<circle cx="228.16" cy="277.59" r="1.25" fill="#dc4b50" stroke="none" stroke-width="0.6"/>
<circle cx="232.72" cy="277.59" r="1.25" fill="#dc4b50" stroke="none" stroke-width="0.6"/>
<circle cx="237.28" cy="276.08" r="1.25" fill="#dc4b50" stroke="none" stroke-width="0.6"/>
<circle cx="241.84" cy="276.58" r="1.25" fill="#dc4b50" stroke="none" stroke-width="0.6"/>
<circle cx="246.4" cy="278.59" r="1.25" fill="#dc4b50" stroke="none" stroke-width="0.6"/>
<circle cx="250.96" cy="278.09" r="1.25" fill="#dc4b50" stroke="none" stroke-width="0.6"/>
<circle cx="255.52" cy="279.1" r="1.25" fill="#dc4b50" stroke="none" stroke-width="0.6"/>
<circle cx="260.08" cy="279.6" r="1.25" fill="#dc4b50" stroke="none" stroke-width="0.6"/>
<circle cx="264.64" cy="279.6" r="1.25" fill="#dc4b50" stroke="none" stroke-width="0.6"/>
<polyline points="178,299.7 182.56,299.7 187.12,299.4 191.68,298.9 196.24,298.19 200.8,297.19 205.36,296.18 209.92,294.68 214.48,292.66 219.04,289.65 223.6,285.63 228.16,280.61 232.72,276.58 237.28,275.58 241.84,276.08 246.4,277.09 250.96,278.59 255.52,279.1 260.08,279.6 264.64,279.6" fill="none" stroke="#1a1a1a" stroke-width="0.9" stroke-linejoin="round"/>
<line x1="237.28" y1="273.77" x2="237.28" y2="277.39" stroke="#1a1a1a" stroke-width="0.6" />
<line x1="236.08" y1="273.77" x2="238.48" y2="273.77" stroke="#1a1a1a" stroke-width="0.6" />
<line x1="236.08" y1="277.39" x2="238.48" y2="277.39" stroke="#1a1a1a" stroke-width="0.6" />
<line x1="232.72" y1="275.38" x2="232.72" y2="277.79" stroke="#1a1a1a" stroke-width="0.6" />
<line x1="231.52" y1="275.38" x2="233.92" y2="275.38" stroke="#1a1a1a" stroke-width="0.6" />
<line x1="231.52" y1="277.79" x2="233.92" y2="277.79" stroke="#1a1a1a" stroke-width="0.6" />
<circle cx="178" cy="299.7" r="1.25" fill="#1a1a1a" stroke="none" stroke-width="0.6"/>
<circle cx="182.56" cy="299.7" r="1.25" fill="#1a1a1a" stroke="none" stroke-width="0.6"/>
<circle cx="187.12" cy="299.4" r="1.25" fill="#1a1a1a" stroke="none" stroke-width="0.6"/>
<circle cx="191.68" cy="298.9" r="1.25" fill="#1a1a1a" stroke="none" stroke-width="0.6"/>
<circle cx="196.24" cy="298.19" r="1.25" fill="#1a1a1a" stroke="none" stroke-width="0.6"/>
<circle cx="200.8" cy="297.19" r="1.25" fill="#1a1a1a" stroke="none" stroke-width="0.6"/>
<circle cx="205.36" cy="296.18" r="1.25" fill="#1a1a1a" stroke="none" stroke-width="0.6"/>
<circle cx="209.92" cy="294.68" r="1.25" fill="#1a1a1a" stroke="none" stroke-width="0.6"/>
<circle cx="214.48" cy="292.66" r="1.25" fill="#1a1a1a" stroke="none" stroke-width="0.6"/>
<circle cx="219.04" cy="289.65" r="1.25" fill="#1a1a1a" stroke="none" stroke-width="0.6"/>
<circle cx="223.6" cy="285.63" r="1.25" fill="#1a1a1a" stroke="none" stroke-width="0.6"/>
<circle cx="228.16" cy="280.61" r="1.25" fill="#1a1a1a" stroke="none" stroke-width="0.6"/>
<circle cx="232.72" cy="276.58" r="1.25" fill="#1a1a1a" stroke="none" stroke-width="0.6"/>
<circle cx="237.28" cy="275.58" r="1.25" fill="#1a1a1a" stroke="none" stroke-width="0.6"/>
<circle cx="241.84" cy="276.08" r="1.25" fill="#1a1a1a" stroke="none" stroke-width="0.6"/>
<circle cx="246.4" cy="277.09" r="1.25" fill="#1a1a1a" stroke="none" stroke-width="0.6"/>
<circle cx="250.96" cy="278.59" r="1.25" fill="#1a1a1a" stroke="none" stroke-width="0.6"/>
<circle cx="255.52" cy="279.1" r="1.25" fill="#1a1a1a" stroke="none" stroke-width="0.6"/>
<circle cx="260.08" cy="279.6" r="1.25" fill="#1a1a1a" stroke="none" stroke-width="0.6"/>
<circle cx="264.64" cy="279.6" r="1.25" fill="#1a1a1a" stroke="none" stroke-width="0.6"/>
<line x1="212.9" y1="237.5" x2="218.1" y2="237.5" stroke="#1a1a1a" stroke-width="0.8" />
<circle cx="215.5" cy="237.5" r="1.2" fill="#1a1a1a" stroke="none" stroke-width="0.6"/>
<text transform="translate(222.8 239.7)" font-size="7.24" text-anchor="start" fill="#222" font-weight="normal" stroke="#222" stroke-width="0.22">WT</text>
<line x1="212.9" y1="244.4" x2="218.1" y2="244.4" stroke="#dc4b50" stroke-width="0.8" />
<circle cx="215.5" cy="244.4" r="1.2" fill="#dc4b50" stroke="none" stroke-width="0.6"/>
<text transform="translate(222.8 246.6)" font-size="7.24" text-anchor="start" fill="#222" font-weight="normal" stroke="#222" stroke-width="0.22">&#916;<tspan font-style="italic">manY</tspan></text>
<line x1="212.9" y1="251.3" x2="218.1" y2="251.3" stroke="#6fa3d8" stroke-width="0.8" />
<circle cx="215.5" cy="251.3" r="1.2" fill="#6fa3d8" stroke="none" stroke-width="0.6"/>
<text transform="translate(222.8 253.5)" font-size="7.24" text-anchor="start" fill="#222" font-weight="normal" stroke="#222" stroke-width="0.22">C&#916;<tspan font-style="italic">manY</tspan></text>
<line x1="251.6" y1="234.4" x2="251.6" y2="242.7" stroke="#444" stroke-width="0.65" />
<text transform="translate(253.6 234.2) rotate(90) scale(1.07 1)" font-size="6.0" text-anchor="start" fill="#3a3a3a" font-weight="normal" stroke="#3a3a3a" stroke-width="0.12">0.3167</text>
<line x1="260.3" y1="234.4" x2="260.3" y2="251.1" stroke="#666" stroke-width="0.65" />
<text transform="translate(262.3 234.2) rotate(90) scale(1.07 1)" font-size="6.0" text-anchor="start" fill="#3a3a3a" font-weight="normal" stroke="#3a3a3a" stroke-width="0.12">0.1388</text>
<text transform="translate(1.3 8.8) scale(1.06 1)" font-size="12.6" text-anchor="start" fill="#000" font-weight="bold">a</text>
<line x1="333.5" y1="119.2" x2="333.5" y2="18.1" stroke="#707070" stroke-width="0.9" />
<line x1="331.7" y1="119.2" x2="333.5" y2="119.2" stroke="#3a3a3a" stroke-width="0.7" />
<line x1="332.3" y1="107.75" x2="333.5" y2="107.75" stroke="#3a3a3a" stroke-width="0.7" />
<line x1="331.7" y1="96.3" x2="333.5" y2="96.3" stroke="#3a3a3a" stroke-width="0.7" />
<line x1="332.3" y1="84.85" x2="333.5" y2="84.85" stroke="#3a3a3a" stroke-width="0.7" />
<line x1="331.7" y1="73.4" x2="333.5" y2="73.4" stroke="#3a3a3a" stroke-width="0.7" />
<line x1="332.3" y1="61.95" x2="333.5" y2="61.95" stroke="#3a3a3a" stroke-width="0.7" />
<line x1="331.7" y1="50.5" x2="333.5" y2="50.5" stroke="#3a3a3a" stroke-width="0.7" />
<line x1="332.3" y1="39.05" x2="333.5" y2="39.05" stroke="#3a3a3a" stroke-width="0.7" />
<line x1="331.7" y1="27.6" x2="333.5" y2="27.6" stroke="#3a3a3a" stroke-width="0.7" />
<text transform="translate(327.2 121.8)" font-size="7.93" text-anchor="end" fill="#222" font-weight="normal" stroke="#222" stroke-width="0.22">0</text>
<text transform="translate(327.2 98.9)" font-size="7.93" text-anchor="end" fill="#222" font-weight="normal" stroke="#222" stroke-width="0.22">5</text>
<text transform="translate(327.2 76)" font-size="7.93" text-anchor="end" fill="#222" font-weight="normal" stroke="#222" stroke-width="0.22">10</text>
<text transform="translate(327.2 53.1)" font-size="7.93" text-anchor="end" fill="#222" font-weight="normal" stroke="#222" stroke-width="0.22">15</text>
<text transform="translate(327.2 30.2)" font-size="7.93" text-anchor="end" fill="#222" font-weight="normal" stroke="#222" stroke-width="0.22">20</text>
<text transform="translate(310.6 68.6) rotate(-90)" font-size="8.74" text-anchor="middle" fill="#222" font-weight="normal" stroke="#222" stroke-width="0.22">PTS-specific activity</text>
<line x1="333.5" y1="119.5" x2="486.9" y2="119.5" stroke="#8a8a8a" stroke-width="1.0" />
<rect x="336.2" y="85.31" width="5.8" height="33.89" fill="#707070"/>
<line x1="339.1" y1="78.9" x2="339.1" y2="91.72" stroke="#2a2a2a" stroke-width="0.6" />
<line x1="337.8" y1="78.9" x2="340.4" y2="78.9" stroke="#2a2a2a" stroke-width="0.6" />
<line x1="337.8" y1="91.72" x2="340.4" y2="91.72" stroke="#2a2a2a" stroke-width="0.6" />
<circle cx="339.4" cy="70.19" r="1.85" fill="#fff" stroke="#3c3c3c" stroke-width="0.7"/>
<circle cx="338.2" cy="77.98" r="1.85" fill="#fff" stroke="#3c3c3c" stroke-width="0.7"/>
<circle cx="340" cy="82.1" r="1.85" fill="#fff" stroke="#3c3c3c" stroke-width="0.7"/>
<circle cx="338.5" cy="85.31" r="1.85" fill="#fff" stroke="#3c3c3c" stroke-width="0.7"/>
<circle cx="339.7" cy="86.91" r="1.85" fill="#fff" stroke="#3c3c3c" stroke-width="0.7"/>
<line x1="339.1" y1="119.2" x2="339.1" y2="121.6" stroke="#3a3a3a" stroke-width="0.8" />
<text transform="translate(341.3 125.5) rotate(-90)" font-size="7.06" text-anchor="end" fill="#222" font-weight="normal" stroke="#222" stroke-width="0.12">WT</text>
<rect x="344.75" y="109.58" width="5.8" height="9.62" fill="#e9a3a5"/>
<line x1="347.65" y1="106.38" x2="347.65" y2="112.79" stroke="#d9545a" stroke-width="0.6" />
<line x1="346.35" y1="106.38" x2="348.95" y2="106.38" stroke="#d9545a" stroke-width="0.6" />
<line x1="346.35" y1="112.79" x2="348.95" y2="112.79" stroke="#d9545a" stroke-width="0.6" />
<circle cx="347.95" cy="106.83" r="1.85" fill="#fff" stroke="#d9545a" stroke-width="0.7"/>
<circle cx="346.75" cy="110.27" r="1.85" fill="#fff" stroke="#d9545a" stroke-width="0.7"/>
<circle cx="348.55" cy="114.39" r="1.85" fill="#fff" stroke="#d9545a" stroke-width="0.7"/>
<line x1="347.65" y1="119.2" x2="347.65" y2="121.6" stroke="#3a3a3a" stroke-width="0.8" />
<text transform="translate(349.85 125.5) rotate(-90)" font-size="7.06" text-anchor="end" fill="#222" font-weight="normal" stroke="#222" stroke-width="0.12">&#916;<tspan font-style="italic">manY</tspan></text>
<rect x="353.3" y="84.85" width="5.8" height="34.35" fill="#c3d5e7"/>
<line x1="356.2" y1="80.27" x2="356.2" y2="89.43" stroke="#78a6d6" stroke-width="0.6" />
<line x1="354.9" y1="80.27" x2="357.5" y2="80.27" stroke="#78a6d6" stroke-width="0.6" />
<line x1="354.9" y1="89.43" x2="357.5" y2="89.43" stroke="#78a6d6" stroke-width="0.6" />
<circle cx="356.5" cy="76.61" r="1.85" fill="#fff" stroke="#78a6d6" stroke-width="0.7"/>
<circle cx="355.3" cy="80.04" r="1.85" fill="#fff" stroke="#78a6d6" stroke-width="0.7"/>
<circle cx="357.1" cy="84.39" r="1.85" fill="#fff" stroke="#78a6d6" stroke-width="0.7"/>
<circle cx="355.6" cy="85.31" r="1.85" fill="#fff" stroke="#78a6d6" stroke-width="0.7"/>
<circle cx="356.8" cy="88.97" r="1.85" fill="#fff" stroke="#78a6d6" stroke-width="0.7"/>
<line x1="356.2" y1="119.2" x2="356.2" y2="121.6" stroke="#3a3a3a" stroke-width="0.8" />
<text transform="translate(358.4 125.5) rotate(-90)" font-size="7.06" text-anchor="end" fill="#222" font-weight="normal" stroke="#222" stroke-width="0.12">C&#916;<tspan font-style="italic">manY</tspan></text>
<text transform="translate(347.65 9.1)" font-size="8.85" text-anchor="middle" fill="#222" font-weight="normal" stroke="#222" stroke-width="0.22">Glc</text>
<line x1="363.6" y1="15.2" x2="363.6" y2="119.2" stroke="#808080" stroke-width="0.7" stroke-dasharray="2.8,1.9" />
<text transform="translate(348.85 24.5) scale(1.04 1)" font-size="6.1" text-anchor="middle" fill="#2a2a2a" font-weight="normal" stroke="#2a2a2a" stroke-width="0.12">0.9481</text>
<line x1="339.9" y1="26.5" x2="356.4" y2="26.5" stroke="#444" stroke-width="0.85" />
<text transform="translate(345.38 33.6) scale(1.04 1)" font-size="6.1" text-anchor="middle" fill="#2a2a2a" font-weight="normal" stroke="#2a2a2a" stroke-width="0.12">&lt;0.0001</text>
<line x1="339.9" y1="35.4" x2="349.35" y2="35.4" stroke="#444" stroke-width="0.85" />
<rect x="367.4" y="91.72" width="5.8" height="27.48" fill="#707070"/>
<line x1="370.3" y1="87.14" x2="370.3" y2="96.3" stroke="#2a2a2a" stroke-width="0.6" />
<line x1="369" y1="87.14" x2="371.6" y2="87.14" stroke="#2a2a2a" stroke-width="0.6" />
<line x1="369" y1="96.3" x2="371.6" y2="96.3" stroke="#2a2a2a" stroke-width="0.6" />
<circle cx="370.6" cy="86.91" r="1.85" fill="#fff" stroke="#3c3c3c" stroke-width="0.7"/>
<circle cx="369.4" cy="92.41" r="1.85" fill="#fff" stroke="#3c3c3c" stroke-width="0.7"/>
<circle cx="371.2" cy="94.47" r="1.85" fill="#fff" stroke="#3c3c3c" stroke-width="0.7"/>
<circle cx="369.7" cy="98.59" r="1.85" fill="#fff" stroke="#3c3c3c" stroke-width="0.7"/>
<line x1="370.3" y1="119.2" x2="370.3" y2="121.6" stroke="#3a3a3a" stroke-width="0.8" />
<text transform="translate(372.5 125.5) rotate(-90)" font-size="7.06" text-anchor="end" fill="#222" font-weight="normal" stroke="#222" stroke-width="0.12">WT</text>
<rect x="375.95" y="106.38" width="5.8" height="12.82" fill="#e9a3a5"/>
<line x1="378.85" y1="96.76" x2="378.85" y2="115.99" stroke="#d9545a" stroke-width="0.6" />
<line x1="377.55" y1="96.76" x2="380.15" y2="96.76" stroke="#d9545a" stroke-width="0.6" />
<line x1="377.55" y1="115.99" x2="380.15" y2="115.99" stroke="#d9545a" stroke-width="0.6" />
<circle cx="379.15" cy="95.84" r="1.85" fill="#fff" stroke="#d9545a" stroke-width="0.7"/>
<circle cx="377.95" cy="97.67" r="1.85" fill="#fff" stroke="#d9545a" stroke-width="0.7"/>
<circle cx="379.75" cy="111.87" r="1.85" fill="#fff" stroke="#d9545a" stroke-width="0.7"/>
<circle cx="378.25" cy="115.77" r="1.85" fill="#fff" stroke="#d9545a" stroke-width="0.7"/>
<circle cx="379.45" cy="118.51" r="1.85" fill="#fff" stroke="#d9545a" stroke-width="0.7"/>
<line x1="378.85" y1="119.2" x2="378.85" y2="121.6" stroke="#3a3a3a" stroke-width="0.8" />
<text transform="translate(381.05 125.5) rotate(-90)" font-size="7.06" text-anchor="end" fill="#222" font-weight="normal" stroke="#222" stroke-width="0.12">&#916;<tspan font-style="italic">manY</tspan></text>
<rect x="384.5" y="98.13" width="5.8" height="21.07" fill="#c3d5e7"/>
<line x1="387.4" y1="91.26" x2="387.4" y2="105" stroke="#78a6d6" stroke-width="0.6" />
<line x1="386.1" y1="91.26" x2="388.7" y2="91.26" stroke="#78a6d6" stroke-width="0.6" />
<line x1="386.1" y1="105" x2="388.7" y2="105" stroke="#78a6d6" stroke-width="0.6" />
<circle cx="387.7" cy="88.28" r="1.85" fill="#fff" stroke="#78a6d6" stroke-width="0.7"/>
<circle cx="386.5" cy="95.16" r="1.85" fill="#fff" stroke="#78a6d6" stroke-width="0.7"/>
<circle cx="388.3" cy="98.59" r="1.85" fill="#fff" stroke="#78a6d6" stroke-width="0.7"/>
<circle cx="386.8" cy="101.34" r="1.85" fill="#fff" stroke="#78a6d6" stroke-width="0.7"/>
<circle cx="388" cy="104.77" r="1.85" fill="#fff" stroke="#78a6d6" stroke-width="0.7"/>
<line x1="387.4" y1="119.2" x2="387.4" y2="121.6" stroke="#3a3a3a" stroke-width="0.8" />
<text transform="translate(389.6 125.5) rotate(-90)" font-size="7.06" text-anchor="end" fill="#222" font-weight="normal" stroke="#222" stroke-width="0.12">C&#916;<tspan font-style="italic">manY</tspan></text>
<text transform="translate(378.85 9.1)" font-size="8.85" text-anchor="middle" fill="#222" font-weight="normal" stroke="#222" stroke-width="0.22">Frc</text>
<line x1="394.3" y1="15.2" x2="394.3" y2="119.2" stroke="#808080" stroke-width="0.7" stroke-dasharray="2.8,1.9" />
<text transform="translate(380.05 24.5) scale(1.04 1)" font-size="6.1" text-anchor="middle" fill="#2a2a2a" font-weight="normal" stroke="#2a2a2a" stroke-width="0.12">0.2838</text>
<line x1="371.1" y1="26.5" x2="387.6" y2="26.5" stroke="#444" stroke-width="0.85" />
<text transform="translate(376.58 33.6) scale(1.04 1)" font-size="6.1" text-anchor="middle" fill="#2a2a2a" font-weight="normal" stroke="#2a2a2a" stroke-width="0.12">0.0040</text>
<line x1="371.1" y1="35.4" x2="380.55" y2="35.4" stroke="#444" stroke-width="0.85" />
<rect x="398.6" y="85.31" width="5.8" height="33.89" fill="#707070"/>
<line x1="401.5" y1="81.19" x2="401.5" y2="89.43" stroke="#2a2a2a" stroke-width="0.6" />
<line x1="400.2" y1="81.19" x2="402.8" y2="81.19" stroke="#2a2a2a" stroke-width="0.6" />
<line x1="400.2" y1="89.43" x2="402.8" y2="89.43" stroke="#2a2a2a" stroke-width="0.6" />
<circle cx="401.8" cy="81.64" r="1.85" fill="#fff" stroke="#3c3c3c" stroke-width="0.7"/>
<circle cx="400.6" cy="85.77" r="1.85" fill="#fff" stroke="#3c3c3c" stroke-width="0.7"/>
<circle cx="402.4" cy="92.41" r="1.85" fill="#fff" stroke="#3c3c3c" stroke-width="0.7"/>
<line x1="401.5" y1="119.2" x2="401.5" y2="121.6" stroke="#3a3a3a" stroke-width="0.8" />
<text transform="translate(403.7 125.5) rotate(-90)" font-size="7.06" text-anchor="end" fill="#222" font-weight="normal" stroke="#222" stroke-width="0.12">WT</text>
<rect x="407.15" y="113.7" width="5.8" height="5.5" fill="#e9a3a5"/>
<line x1="410.05" y1="110.5" x2="410.05" y2="116.91" stroke="#d9545a" stroke-width="0.6" />
<line x1="408.75" y1="110.5" x2="411.35" y2="110.5" stroke="#d9545a" stroke-width="0.6" />
<line x1="408.75" y1="116.91" x2="411.35" y2="116.91" stroke="#d9545a" stroke-width="0.6" />
<circle cx="410.35" cy="108.8" r="1.85" fill="#fff" stroke="#d9545a" stroke-width="0.7"/>
<circle cx="409.15" cy="113.93" r="1.85" fill="#fff" stroke="#d9545a" stroke-width="0.7"/>
<circle cx="410.95" cy="116.22" r="1.85" fill="#fff" stroke="#d9545a" stroke-width="0.7"/>
<line x1="410.05" y1="119.2" x2="410.05" y2="121.6" stroke="#3a3a3a" stroke-width="0.8" />
<text transform="translate(412.25 125.5) rotate(-90)" font-size="7.06" text-anchor="end" fill="#222" font-weight="normal" stroke="#222" stroke-width="0.12">&#916;<tspan font-style="italic">manY</tspan></text>
<rect x="415.7" y="84.85" width="5.8" height="34.35" fill="#c3d5e7"/>
<line x1="418.6" y1="72.94" x2="418.6" y2="96.76" stroke="#78a6d6" stroke-width="0.6" />
<line x1="417.3" y1="72.94" x2="419.9" y2="72.94" stroke="#78a6d6" stroke-width="0.6" />
<line x1="417.3" y1="96.76" x2="419.9" y2="96.76" stroke="#78a6d6" stroke-width="0.6" />
<circle cx="418.9" cy="68.5" r="1.85" fill="#fff" stroke="#78a6d6" stroke-width="0.7"/>
<circle cx="417.7" cy="83.02" r="1.85" fill="#fff" stroke="#78a6d6" stroke-width="0.7"/>
<circle cx="419.5" cy="92.41" r="1.85" fill="#fff" stroke="#78a6d6" stroke-width="0.7"/>
<circle cx="418" cy="94.7" r="1.85" fill="#fff" stroke="#78a6d6" stroke-width="0.7"/>
<line x1="418.6" y1="119.2" x2="418.6" y2="121.6" stroke="#3a3a3a" stroke-width="0.8" />
<text transform="translate(420.8 125.5) rotate(-90)" font-size="7.06" text-anchor="end" fill="#222" font-weight="normal" stroke="#222" stroke-width="0.12">C&#916;<tspan font-style="italic">manY</tspan></text>
<text transform="translate(410.05 9.1)" font-size="8.85" text-anchor="middle" fill="#222" font-weight="normal" stroke="#222" stroke-width="0.22">Man</text>
<line x1="425.4" y1="15.2" x2="425.4" y2="119.2" stroke="#808080" stroke-width="0.7" stroke-dasharray="2.8,1.9" />
<text transform="translate(411.25 24.5) scale(1.04 1)" font-size="6.1" text-anchor="middle" fill="#2a2a2a" font-weight="normal" stroke="#2a2a2a" stroke-width="0.12">0.9124</text>
<line x1="402.3" y1="26.5" x2="418.8" y2="26.5" stroke="#444" stroke-width="0.85" />
<text transform="translate(407.77 33.6) scale(1.04 1)" font-size="6.1" text-anchor="middle" fill="#2a2a2a" font-weight="normal" stroke="#2a2a2a" stroke-width="0.12">&lt;0.0001</text>
<line x1="402.3" y1="35.4" x2="411.75" y2="35.4" stroke="#444" stroke-width="0.85" />
<rect x="429.8" y="54.62" width="5.8" height="64.58" fill="#707070"/>
<line x1="432.7" y1="40.42" x2="432.7" y2="68.82" stroke="#2a2a2a" stroke-width="0.6" />
<line x1="431.4" y1="40.42" x2="434" y2="40.42" stroke="#2a2a2a" stroke-width="0.6" />
<line x1="431.4" y1="68.82" x2="434" y2="68.82" stroke="#2a2a2a" stroke-width="0.6" />
<circle cx="433" cy="40.42" r="1.85" fill="#fff" stroke="#3c3c3c" stroke-width="0.7"/>
<circle cx="431.8" cy="49.13" r="1.85" fill="#fff" stroke="#3c3c3c" stroke-width="0.7"/>
<circle cx="433.6" cy="53.71" r="1.85" fill="#fff" stroke="#3c3c3c" stroke-width="0.7"/>
<circle cx="432.1" cy="76.15" r="1.85" fill="#fff" stroke="#3c3c3c" stroke-width="0.7"/>
<line x1="432.7" y1="119.2" x2="432.7" y2="121.6" stroke="#3a3a3a" stroke-width="0.8" />
<text transform="translate(434.9 125.5) rotate(-90)" font-size="7.06" text-anchor="end" fill="#222" font-weight="normal" stroke="#222" stroke-width="0.12">WT</text>
<rect x="438.35" y="74.77" width="5.8" height="44.43" fill="#e9a3a5"/>
<line x1="441.25" y1="72.48" x2="441.25" y2="77.06" stroke="#d9545a" stroke-width="0.6" />
<line x1="439.95" y1="72.48" x2="442.55" y2="72.48" stroke="#d9545a" stroke-width="0.6" />
<line x1="439.95" y1="77.06" x2="442.55" y2="77.06" stroke="#d9545a" stroke-width="0.6" />
<circle cx="441.55" cy="72.48" r="1.85" fill="#fff" stroke="#d9545a" stroke-width="0.7"/>
<circle cx="440.35" cy="74.77" r="1.85" fill="#fff" stroke="#d9545a" stroke-width="0.7"/>
<circle cx="442.15" cy="77.06" r="1.85" fill="#fff" stroke="#d9545a" stroke-width="0.7"/>
<line x1="441.25" y1="119.2" x2="441.25" y2="121.6" stroke="#3a3a3a" stroke-width="0.8" />
<text transform="translate(443.45 125.5) rotate(-90)" font-size="7.06" text-anchor="end" fill="#222" font-weight="normal" stroke="#222" stroke-width="0.12">&#916;<tspan font-style="italic">manY</tspan></text>
<rect x="446.9" y="52.33" width="5.8" height="66.87" fill="#c3d5e7"/>
<line x1="449.8" y1="41.8" x2="449.8" y2="62.87" stroke="#78a6d6" stroke-width="0.6" />
<line x1="448.5" y1="41.8" x2="451.1" y2="41.8" stroke="#78a6d6" stroke-width="0.6" />
<line x1="448.5" y1="62.87" x2="451.1" y2="62.87" stroke="#78a6d6" stroke-width="0.6" />
<circle cx="450.1" cy="36.76" r="1.85" fill="#fff" stroke="#78a6d6" stroke-width="0.7"/>
<circle cx="448.9" cy="50.96" r="1.85" fill="#fff" stroke="#78a6d6" stroke-width="0.7"/>
<circle cx="450.7" cy="55.54" r="1.85" fill="#fff" stroke="#78a6d6" stroke-width="0.7"/>
<circle cx="449.2" cy="64.24" r="1.85" fill="#fff" stroke="#78a6d6" stroke-width="0.7"/>
<line x1="449.8" y1="119.2" x2="449.8" y2="121.6" stroke="#3a3a3a" stroke-width="0.8" />
<text transform="translate(452 125.5) rotate(-90)" font-size="7.06" text-anchor="end" fill="#222" font-weight="normal" stroke="#222" stroke-width="0.12">C&#916;<tspan font-style="italic">manY</tspan></text>
<text transform="translate(441.25 9.1)" font-size="8.85" text-anchor="middle" fill="#222" font-weight="normal" stroke="#222" stroke-width="0.22">GlcNAc</text>
<line x1="456.5" y1="15.2" x2="456.5" y2="119.2" stroke="#808080" stroke-width="0.7" stroke-dasharray="2.8,1.9" />
<text transform="translate(442.45 24.5) scale(1.04 1)" font-size="6.1" text-anchor="middle" fill="#2a2a2a" font-weight="normal" stroke="#2a2a2a" stroke-width="0.12">0.8064</text>
<line x1="433.5" y1="26.5" x2="450" y2="26.5" stroke="#444" stroke-width="0.85" />
<text transform="translate(438.98 33.6) scale(1.04 1)" font-size="6.1" text-anchor="middle" fill="#2a2a2a" font-weight="normal" stroke="#2a2a2a" stroke-width="0.12">0.0003</text>
<line x1="433.5" y1="35.4" x2="442.95" y2="35.4" stroke="#444" stroke-width="0.85" />
<rect x="461" y="67.68" width="5.8" height="51.52" fill="#707070"/>
<line x1="463.9" y1="62.18" x2="463.9" y2="73.17" stroke="#2a2a2a" stroke-width="0.6" />
<line x1="462.6" y1="62.18" x2="465.2" y2="62.18" stroke="#2a2a2a" stroke-width="0.6" />
<line x1="462.6" y1="73.17" x2="465.2" y2="73.17" stroke="#2a2a2a" stroke-width="0.6" />
<circle cx="464.2" cy="57.83" r="1.85" fill="#fff" stroke="#3c3c3c" stroke-width="0.7"/>
<circle cx="463" cy="67.68" r="1.85" fill="#fff" stroke="#3c3c3c" stroke-width="0.7"/>
<circle cx="464.8" cy="70.65" r="1.85" fill="#fff" stroke="#3c3c3c" stroke-width="0.7"/>
<circle cx="463.3" cy="73.86" r="1.85" fill="#fff" stroke="#3c3c3c" stroke-width="0.7"/>
<line x1="463.9" y1="119.2" x2="463.9" y2="121.6" stroke="#3a3a3a" stroke-width="0.8" />
<text transform="translate(466.1 125.5) rotate(-90)" font-size="7.06" text-anchor="end" fill="#222" font-weight="normal" stroke="#222" stroke-width="0.12">WT</text>
<rect x="469.55" y="71.57" width="5.8" height="47.63" fill="#e9a3a5"/>
<line x1="472.45" y1="66.99" x2="472.45" y2="76.15" stroke="#d9545a" stroke-width="0.6" />
<line x1="471.15" y1="66.99" x2="473.75" y2="66.99" stroke="#d9545a" stroke-width="0.6" />
<line x1="471.15" y1="76.15" x2="473.75" y2="76.15" stroke="#d9545a" stroke-width="0.6" />
<circle cx="472.75" cy="64.7" r="1.85" fill="#fff" stroke="#d9545a" stroke-width="0.7"/>
<circle cx="471.55" cy="66.99" r="1.85" fill="#fff" stroke="#d9545a" stroke-width="0.7"/>
<circle cx="473.35" cy="71.57" r="1.85" fill="#fff" stroke="#d9545a" stroke-width="0.7"/>
<circle cx="471.85" cy="76.15" r="1.85" fill="#fff" stroke="#d9545a" stroke-width="0.7"/>
<line x1="472.45" y1="119.2" x2="472.45" y2="121.6" stroke="#3a3a3a" stroke-width="0.8" />
<text transform="translate(474.65 125.5) rotate(-90)" font-size="7.06" text-anchor="end" fill="#222" font-weight="normal" stroke="#222" stroke-width="0.12">&#916;<tspan font-style="italic">manY</tspan></text>
<rect x="478.1" y="63.32" width="5.8" height="55.88" fill="#c3d5e7"/>
<line x1="481" y1="54.16" x2="481" y2="72.48" stroke="#78a6d6" stroke-width="0.6" />
<line x1="479.7" y1="54.16" x2="482.3" y2="54.16" stroke="#78a6d6" stroke-width="0.6" />
<line x1="479.7" y1="72.48" x2="482.3" y2="72.48" stroke="#78a6d6" stroke-width="0.6" />
<circle cx="481.3" cy="50.04" r="1.85" fill="#fff" stroke="#78a6d6" stroke-width="0.7"/>
<circle cx="480.1" cy="63.78" r="1.85" fill="#fff" stroke="#78a6d6" stroke-width="0.7"/>
<circle cx="481.9" cy="66.99" r="1.85" fill="#fff" stroke="#78a6d6" stroke-width="0.7"/>
<circle cx="480.4" cy="70.65" r="1.85" fill="#fff" stroke="#78a6d6" stroke-width="0.7"/>
<line x1="481" y1="119.2" x2="481" y2="121.6" stroke="#3a3a3a" stroke-width="0.8" />
<text transform="translate(483.2 125.5) rotate(-90)" font-size="7.06" text-anchor="end" fill="#222" font-weight="normal" stroke="#222" stroke-width="0.12">C&#916;<tspan font-style="italic">manY</tspan></text>
<text transform="translate(472.45 9.1)" font-size="8.85" text-anchor="middle" fill="#222" font-weight="normal" stroke="#222" stroke-width="0.22">Suc</text>
<text transform="translate(473.65 24.5) scale(1.04 1)" font-size="6.1" text-anchor="middle" fill="#2a2a2a" font-weight="normal" stroke="#2a2a2a" stroke-width="0.12">0.5972</text>
<line x1="464.7" y1="26.5" x2="481.2" y2="26.5" stroke="#444" stroke-width="0.85" />
<text transform="translate(470.18 33.6) scale(1.04 1)" font-size="6.1" text-anchor="middle" fill="#2a2a2a" font-weight="normal" stroke="#2a2a2a" stroke-width="0.12">0.6688</text>
<line x1="464.7" y1="35.4" x2="474.15" y2="35.4" stroke="#444" stroke-width="0.85" />
<text transform="translate(299.2 8.8) scale(1.06 1)" font-size="12.6" text-anchor="start" fill="#000" font-weight="bold">b</text>
<line x1="540.5" y1="118.1" x2="540.5" y2="26" stroke="#3a3a3a" stroke-width="0.8" />
<line x1="540" y1="118.5" x2="678.4" y2="118.5" stroke="#3a3a3a" stroke-width="0.8" />
<line x1="538" y1="118.1" x2="540" y2="118.1" stroke="#3a3a3a" stroke-width="0.7" />
<line x1="538.7" y1="102.8" x2="540" y2="102.8" stroke="#3a3a3a" stroke-width="0.7" />
<line x1="538" y1="87.5" x2="540" y2="87.5" stroke="#3a3a3a" stroke-width="0.7" />
<line x1="538.7" y1="72.2" x2="540" y2="72.2" stroke="#3a3a3a" stroke-width="0.7" />
<line x1="538" y1="56.9" x2="540" y2="56.9" stroke="#3a3a3a" stroke-width="0.7" />
<line x1="538.7" y1="41.6" x2="540" y2="41.6" stroke="#3a3a3a" stroke-width="0.7" />
<line x1="538" y1="26.3" x2="540" y2="26.3" stroke="#3a3a3a" stroke-width="0.7" />
<line x1="540" y1="118.1" x2="540" y2="119.9" stroke="#3a3a3a" stroke-width="0.7" />
<line x1="556.32" y1="118.1" x2="556.32" y2="119.3" stroke="#3a3a3a" stroke-width="0.7" />
<line x1="572.64" y1="118.1" x2="572.64" y2="119.9" stroke="#3a3a3a" stroke-width="0.7" />
<line x1="588.96" y1="118.1" x2="588.96" y2="119.3" stroke="#3a3a3a" stroke-width="0.7" />
<line x1="605.28" y1="118.1" x2="605.28" y2="119.9" stroke="#3a3a3a" stroke-width="0.7" />
<line x1="621.6" y1="118.1" x2="621.6" y2="119.3" stroke="#3a3a3a" stroke-width="0.7" />
<line x1="637.92" y1="118.1" x2="637.92" y2="119.9" stroke="#3a3a3a" stroke-width="0.7" />
<line x1="654.24" y1="118.1" x2="654.24" y2="119.3" stroke="#3a3a3a" stroke-width="0.7" />
<line x1="670.56" y1="118.1" x2="670.56" y2="119.9" stroke="#3a3a3a" stroke-width="0.7" />
<text transform="translate(533.6 120.45)" font-size="7.47" text-anchor="end" fill="#222" font-weight="normal" stroke="#222" stroke-width="0.22">0</text>
<text transform="translate(533.6 89.85)" font-size="7.47" text-anchor="end" fill="#222" font-weight="normal" stroke="#222" stroke-width="0.22">0.2</text>
<text transform="translate(533.6 59.25)" font-size="7.47" text-anchor="end" fill="#222" font-weight="normal" stroke="#222" stroke-width="0.22">0.4</text>
<text transform="translate(533.6 28.65)" font-size="7.47" text-anchor="end" fill="#222" font-weight="normal" stroke="#222" stroke-width="0.22">0.6</text>
<text transform="translate(540 130.8)" font-size="7.47" text-anchor="middle" fill="#222" font-weight="normal" stroke="#222" stroke-width="0.22">0</text>
<text transform="translate(572.64 130.8)" font-size="7.47" text-anchor="middle" fill="#222" font-weight="normal" stroke="#222" stroke-width="0.22">4</text>
<text transform="translate(605.28 130.8)" font-size="7.47" text-anchor="middle" fill="#222" font-weight="normal" stroke="#222" stroke-width="0.22">8</text>
<text transform="translate(637.92 130.8)" font-size="7.47" text-anchor="middle" fill="#222" font-weight="normal" stroke="#222" stroke-width="0.22">12</text>
<text transform="translate(670.56 130.8)" font-size="7.47" text-anchor="middle" fill="#222" font-weight="normal" stroke="#222" stroke-width="0.22">16</text>
<text transform="translate(609.8 143.4)" font-size="8.4" text-anchor="middle" fill="#222" font-weight="normal" stroke="#222" stroke-width="0.22">Time (h)</text>
<text transform="translate(516.4 71) rotate(-90)" font-size="9.9" text-anchor="middle" fill="#222" font-weight="normal" stroke="#222" stroke-width="0.22">OD<tspan font-size="6.5" dy="2.4">600</tspan></text>
<polyline points="548.16,117.79 556.32,117.33 564.48,116.88 572.64,116.57 580.8,116.26 588.96,116.11 597.12,115.96 605.28,115.8 613.44,115.65 621.6,115.5 629.76,115.35 637.92,115.35 646.08,115.19 654.24,115.19 662.4,115.04 670.56,115.04" fill="none" stroke="#6fa3d8" stroke-width="0.9" stroke-linejoin="round"/>
<circle cx="548.16" cy="117.79" r="1.9" fill="#6fa3d8" stroke="none" stroke-width="0.6"/>
<circle cx="556.32" cy="117.33" r="1.9" fill="#6fa3d8" stroke="none" stroke-width="0.6"/>
<circle cx="564.48" cy="116.88" r="1.9" fill="#6fa3d8" stroke="none" stroke-width="0.6"/>
<circle cx="572.64" cy="116.57" r="1.9" fill="#6fa3d8" stroke="none" stroke-width="0.6"/>
<circle cx="580.8" cy="116.26" r="1.9" fill="#6fa3d8" stroke="none" stroke-width="0.6"/>
<circle cx="588.96" cy="116.11" r="1.9" fill="#6fa3d8" stroke="none" stroke-width="0.6"/>
<circle cx="597.12" cy="115.96" r="1.9" fill="#6fa3d8" stroke="none" stroke-width="0.6"/>
<circle cx="605.28" cy="115.8" r="1.9" fill="#6fa3d8" stroke="none" stroke-width="0.6"/>
<circle cx="613.44" cy="115.65" r="1.9" fill="#6fa3d8" stroke="none" stroke-width="0.6"/>
<circle cx="621.6" cy="115.5" r="1.9" fill="#6fa3d8" stroke="none" stroke-width="0.6"/>
<circle cx="629.76" cy="115.35" r="1.9" fill="#6fa3d8" stroke="none" stroke-width="0.6"/>
<circle cx="637.92" cy="115.35" r="1.9" fill="#6fa3d8" stroke="none" stroke-width="0.6"/>
<circle cx="646.08" cy="115.19" r="1.9" fill="#6fa3d8" stroke="none" stroke-width="0.6"/>
<circle cx="654.24" cy="115.19" r="1.9" fill="#6fa3d8" stroke="none" stroke-width="0.6"/>
<circle cx="662.4" cy="115.04" r="1.9" fill="#6fa3d8" stroke="none" stroke-width="0.6"/>
<circle cx="670.56" cy="115.04" r="1.9" fill="#6fa3d8" stroke="none" stroke-width="0.6"/>
<polyline points="548.16,117.64 556.32,115.8 564.48,114.73 572.64,114.27 580.8,114.12 588.96,114.12 597.12,114.12 605.28,114.12 613.44,114.12 621.6,114.27 629.76,114.27 637.92,114.27 646.08,114.27 654.24,114.27 662.4,114.27 670.56,114.27" fill="none" stroke="#dc4b50" stroke-width="0.9" stroke-linejoin="round"/>
<circle cx="548.16" cy="117.64" r="1.9" fill="#dc4b50" stroke="none" stroke-width="0.6"/>
<circle cx="556.32" cy="115.8" r="1.9" fill="#dc4b50" stroke="none" stroke-width="0.6"/>
<circle cx="564.48" cy="114.73" r="1.9" fill="#dc4b50" stroke="none" stroke-width="0.6"/>
<circle cx="572.64" cy="114.27" r="1.9" fill="#dc4b50" stroke="none" stroke-width="0.6"/>
<circle cx="580.8" cy="114.12" r="1.9" fill="#dc4b50" stroke="none" stroke-width="0.6"/>
<circle cx="588.96" cy="114.12" r="1.9" fill="#dc4b50" stroke="none" stroke-width="0.6"/>
<circle cx="597.12" cy="114.12" r="1.9" fill="#dc4b50" stroke="none" stroke-width="0.6"/>
<circle cx="605.28" cy="114.12" r="1.9" fill="#dc4b50" stroke="none" stroke-width="0.6"/>
<circle cx="613.44" cy="114.12" r="1.9" fill="#dc4b50" stroke="none" stroke-width="0.6"/>
<circle cx="621.6" cy="114.27" r="1.9" fill="#dc4b50" stroke="none" stroke-width="0.6"/>
<circle cx="629.76" cy="114.27" r="1.9" fill="#dc4b50" stroke="none" stroke-width="0.6"/>
<circle cx="637.92" cy="114.27" r="1.9" fill="#dc4b50" stroke="none" stroke-width="0.6"/>
<circle cx="646.08" cy="114.27" r="1.9" fill="#dc4b50" stroke="none" stroke-width="0.6"/>
<circle cx="654.24" cy="114.27" r="1.9" fill="#dc4b50" stroke="none" stroke-width="0.6"/>
<circle cx="662.4" cy="114.27" r="1.9" fill="#dc4b50" stroke="none" stroke-width="0.6"/>
<circle cx="670.56" cy="114.27" r="1.9" fill="#dc4b50" stroke="none" stroke-width="0.6"/>
<polyline points="548.16,116.57 556.32,110.45 564.48,97.44 572.64,82.91 580.8,82.91 588.96,82.45 597.12,83.22 605.28,83.52 613.44,83.67 621.6,84.44 629.76,84.75 637.92,85.05 646.08,85.36 654.24,85.36 662.4,85.51 670.56,85.97" fill="none" stroke="#1a1a1a" stroke-width="0.9" stroke-linejoin="round"/>
<circle cx="548.16" cy="116.57" r="1.9" fill="#1a1a1a" stroke="none" stroke-width="0.6"/>
<circle cx="556.32" cy="110.45" r="1.9" fill="#1a1a1a" stroke="none" stroke-width="0.6"/>
<circle cx="564.48" cy="97.44" r="1.9" fill="#1a1a1a" stroke="none" stroke-width="0.6"/>
<circle cx="572.64" cy="82.91" r="1.9" fill="#1a1a1a" stroke="none" stroke-width="0.6"/>
<circle cx="580.8" cy="82.91" r="1.9" fill="#1a1a1a" stroke="none" stroke-width="0.6"/>
<circle cx="588.96" cy="82.45" r="1.9" fill="#1a1a1a" stroke="none" stroke-width="0.6"/>
<circle cx="597.12" cy="83.22" r="1.9" fill="#1a1a1a" stroke="none" stroke-width="0.6"/>
<circle cx="605.28" cy="83.52" r="1.9" fill="#1a1a1a" stroke="none" stroke-width="0.6"/>
<circle cx="613.44" cy="83.67" r="1.9" fill="#1a1a1a" stroke="none" stroke-width="0.6"/>
<circle cx="621.6" cy="84.44" r="1.9" fill="#1a1a1a" stroke="none" stroke-width="0.6"/>
<circle cx="629.76" cy="84.75" r="1.9" fill="#1a1a1a" stroke="none" stroke-width="0.6"/>
<circle cx="637.92" cy="85.05" r="1.9" fill="#1a1a1a" stroke="none" stroke-width="0.6"/>
<circle cx="646.08" cy="85.36" r="1.9" fill="#1a1a1a" stroke="none" stroke-width="0.6"/>
<circle cx="654.24" cy="85.36" r="1.9" fill="#1a1a1a" stroke="none" stroke-width="0.6"/>
<circle cx="662.4" cy="85.51" r="1.9" fill="#1a1a1a" stroke="none" stroke-width="0.6"/>
<circle cx="670.56" cy="85.97" r="1.9" fill="#1a1a1a" stroke="none" stroke-width="0.6"/>
<line x1="549.2" y1="31.4" x2="556.4" y2="31.4" stroke="#1a1a1a" stroke-width="0.9" />
<circle cx="552.7" cy="31.4" r="1.9" fill="#1a1a1a" stroke="none" stroke-width="0.6"/>
<text transform="translate(559.7 33.8)" font-size="7.28" text-anchor="start" fill="#222" font-weight="normal" stroke="#222" stroke-width="0.22">Glc 1 g l<tspan font-size="4.6" dx="0.5" dy="-3.3">&#8722;1</tspan></text>
<line x1="549.2" y1="43.6" x2="556.4" y2="43.6" stroke="#dc4b50" stroke-width="0.9" />
<circle cx="552.7" cy="43.6" r="1.9" fill="#dc4b50" stroke="none" stroke-width="0.6"/>
<text transform="translate(559.7 46)" font-size="7.28" text-anchor="start" fill="#222" font-weight="normal" stroke="#222" stroke-width="0.22">Frc 0.1 g l<tspan font-size="4.6" dx="0.5" dy="-3.3">&#8722;1</tspan></text>
<line x1="549.2" y1="55.7" x2="556.4" y2="55.7" stroke="#6fa3d8" stroke-width="0.9" />
<circle cx="552.7" cy="55.7" r="1.9" fill="#6fa3d8" stroke="none" stroke-width="0.6"/>
<text transform="translate(559.7 58.1)" font-size="7.28" text-anchor="start" fill="#222" font-weight="normal" stroke="#222" stroke-width="0.22">Man 0.01 g l<tspan font-size="4.6" dx="0.5" dy="-3.3">&#8722;1</tspan></text>
<line x1="602.4" y1="28.8" x2="602.4" y2="42.6" stroke="#555" stroke-width="0.6" />
<text transform="translate(606.2 26.8) rotate(90) scale(0.95 1)" font-size="6.8" text-anchor="start" fill="#333" font-weight="normal" stroke="#333" stroke-width="0.12">&lt;0.0001</text>
<line x1="613.6" y1="28.8" x2="613.6" y2="57" stroke="#555" stroke-width="0.6" />
<text transform="translate(616.4 26.8) rotate(90) scale(0.95 1)" font-size="6.8" text-anchor="start" fill="#333" font-weight="normal" stroke="#333" stroke-width="0.12">&lt;0.0001</text>
<text transform="translate(508.3 9.3) scale(1.06 1)" font-size="12.6" text-anchor="start" fill="#000" font-weight="bold">c</text>
<line x1="342.5" y1="300.1" x2="342.5" y2="209.5" stroke="#3a3a3a" stroke-width="0.8" />
<line x1="342.3" y1="300.5" x2="415" y2="300.5" stroke="#3a3a3a" stroke-width="0.8" />
<line x1="340.5" y1="300.1" x2="342.3" y2="300.1" stroke="#3a3a3a" stroke-width="0.7" />
<line x1="341.1" y1="288.85" x2="342.3" y2="288.85" stroke="#3a3a3a" stroke-width="0.7" />
<line x1="340.5" y1="277.6" x2="342.3" y2="277.6" stroke="#3a3a3a" stroke-width="0.7" />
<line x1="341.1" y1="266.35" x2="342.3" y2="266.35" stroke="#3a3a3a" stroke-width="0.7" />
<line x1="340.5" y1="255.1" x2="342.3" y2="255.1" stroke="#3a3a3a" stroke-width="0.7" />
<line x1="341.1" y1="243.85" x2="342.3" y2="243.85" stroke="#3a3a3a" stroke-width="0.7" />
<line x1="340.5" y1="232.6" x2="342.3" y2="232.6" stroke="#3a3a3a" stroke-width="0.7" />
<line x1="341.1" y1="221.35" x2="342.3" y2="221.35" stroke="#3a3a3a" stroke-width="0.7" />
<line x1="340.5" y1="210.1" x2="342.3" y2="210.1" stroke="#3a3a3a" stroke-width="0.7" />
<text transform="translate(336.2 302.8)" font-size="7.5" text-anchor="end" fill="#222" font-weight="normal" stroke="#222" stroke-width="0.22">0</text>
<text transform="translate(336.2 280.3)" font-size="7.5" text-anchor="end" fill="#222" font-weight="normal" stroke="#222" stroke-width="0.22">0.5</text>
<text transform="translate(336.2 257.8)" font-size="7.5" text-anchor="end" fill="#222" font-weight="normal" stroke="#222" stroke-width="0.22">1.0</text>
<text transform="translate(336.2 235.3)" font-size="7.5" text-anchor="end" fill="#222" font-weight="normal" stroke="#222" stroke-width="0.22">1.5</text>
<text transform="translate(336.2 212.8)" font-size="7.5" text-anchor="end" fill="#222" font-weight="normal" stroke="#222" stroke-width="0.22">2.0</text>
<text transform="translate(307.6 255) rotate(-90)" font-size="9.18" text-anchor="middle" fill="#222" font-weight="normal" stroke="#222" stroke-width="0.22">Glucose</text>
<text transform="translate(317.5 255) rotate(-90)" font-size="9.3" text-anchor="middle" fill="#222" font-weight="normal" stroke="#222" stroke-width="0.22">concentration ( g l<tspan font-size="5" dx="0.5" dy="-3.3">&#8722;1</tspan><tspan dy="3.3">)</tspan></text>
<text transform="translate(378.5 195.6)" font-size="8.62" text-anchor="middle" fill="#222" font-weight="normal" stroke="#222" stroke-width="0.22">CSF</text>
<rect x="347.1" y="261.85" width="9.8" height="38.25" fill="#707070"/>
<line x1="352" y1="251.5" x2="352" y2="272.2" stroke="#2a2a2a" stroke-width="0.6" />
<line x1="350.4" y1="251.5" x2="353.6" y2="251.5" stroke="#2a2a2a" stroke-width="0.6" />
<line x1="350.4" y1="272.2" x2="353.6" y2="272.2" stroke="#2a2a2a" stroke-width="0.6" />
<circle cx="352" cy="246.55" r="2" fill="#fff" stroke="#3c3c3c" stroke-width="0.75"/>
<circle cx="349.4" cy="251.73" r="2" fill="#fff" stroke="#3c3c3c" stroke-width="0.75"/>
<circle cx="354.4" cy="255.1" r="2" fill="#fff" stroke="#3c3c3c" stroke-width="0.75"/>
<circle cx="349.6" cy="257.8" r="2" fill="#fff" stroke="#3c3c3c" stroke-width="0.75"/>
<circle cx="354.4" cy="259.6" r="2" fill="#fff" stroke="#3c3c3c" stroke-width="0.75"/>
<circle cx="349.6" cy="261.85" r="2" fill="#fff" stroke="#3c3c3c" stroke-width="0.75"/>
<circle cx="354.4" cy="265" r="2" fill="#fff" stroke="#3c3c3c" stroke-width="0.75"/>
<circle cx="352" cy="282.55" r="2" fill="#fff" stroke="#3c3c3c" stroke-width="0.75"/>
<line x1="352" y1="300.1" x2="352" y2="302.4" stroke="#3a3a3a" stroke-width="0.8" />
<text transform="translate(355.5 307.6) rotate(-45)" font-size="7.73" text-anchor="end" fill="#222" font-weight="normal" stroke="#222" stroke-width="0.22">12 h</text>
<rect x="360.3" y="277.15" width="9.8" height="22.95" fill="#e9a3a5"/>
<line x1="365.2" y1="263.2" x2="365.2" y2="291.1" stroke="#d9545a" stroke-width="0.6" />
<line x1="363.6" y1="263.2" x2="366.8" y2="263.2" stroke="#d9545a" stroke-width="0.6" />
<line x1="363.6" y1="291.1" x2="366.8" y2="291.1" stroke="#d9545a" stroke-width="0.6" />
<circle cx="365.2" cy="254.2" r="2" fill="#fff" stroke="#d9545a" stroke-width="0.75"/>
<circle cx="362.6" cy="264.55" r="2" fill="#fff" stroke="#d9545a" stroke-width="0.75"/>
<circle cx="367.6" cy="267.25" r="2" fill="#fff" stroke="#d9545a" stroke-width="0.75"/>
<circle cx="362.8" cy="274" r="2" fill="#fff" stroke="#d9545a" stroke-width="0.75"/>
<circle cx="367.6" cy="279.4" r="2" fill="#fff" stroke="#d9545a" stroke-width="0.75"/>
<circle cx="362.8" cy="284.8" r="2" fill="#fff" stroke="#d9545a" stroke-width="0.75"/>
<circle cx="367.6" cy="294.25" r="2" fill="#fff" stroke="#d9545a" stroke-width="0.75"/>
<circle cx="365.2" cy="298.3" r="2" fill="#fff" stroke="#d9545a" stroke-width="0.75"/>
<line x1="365.2" y1="300.1" x2="365.2" y2="302.4" stroke="#3a3a3a" stroke-width="0.8" />
<text transform="translate(368.7 307.6) rotate(-45)" font-size="7.73" text-anchor="end" fill="#222" font-weight="normal" stroke="#222" stroke-width="0.22">24 h</text>
<rect x="374.3" y="288.4" width="9.8" height="11.7" fill="#c3d5e7"/>
<line x1="379.2" y1="283.9" x2="379.2" y2="292.9" stroke="#78a6d6" stroke-width="0.6" />
<line x1="377.6" y1="283.9" x2="380.8" y2="283.9" stroke="#78a6d6" stroke-width="0.6" />
<line x1="377.6" y1="292.9" x2="380.8" y2="292.9" stroke="#78a6d6" stroke-width="0.6" />
<circle cx="379.2" cy="283" r="2" fill="#fff" stroke="#78a6d6" stroke-width="0.75"/>
<circle cx="376.6" cy="285.7" r="2" fill="#fff" stroke="#78a6d6" stroke-width="0.75"/>
<circle cx="381.6" cy="287.5" r="2" fill="#fff" stroke="#78a6d6" stroke-width="0.75"/>
<circle cx="376.8" cy="289.3" r="2" fill="#fff" stroke="#78a6d6" stroke-width="0.75"/>
<circle cx="381.6" cy="291.1" r="2" fill="#fff" stroke="#78a6d6" stroke-width="0.75"/>
<circle cx="376.8" cy="293.35" r="2" fill="#fff" stroke="#78a6d6" stroke-width="0.75"/>
<circle cx="381.6" cy="295.6" r="2" fill="#fff" stroke="#78a6d6" stroke-width="0.75"/>
<line x1="379.2" y1="300.1" x2="379.2" y2="302.4" stroke="#3a3a3a" stroke-width="0.8" />
<text transform="translate(382.7 307.6) rotate(-45)" font-size="7.73" text-anchor="end" fill="#222" font-weight="normal" stroke="#222" stroke-width="0.22">30 h</text>
<rect x="387.4" y="288.85" width="9.8" height="11.25" fill="#b8dca6"/>
<line x1="392.3" y1="283.45" x2="392.3" y2="294.25" stroke="#86c06a" stroke-width="0.6" />
<line x1="390.7" y1="283.45" x2="393.9" y2="283.45" stroke="#86c06a" stroke-width="0.6" />
<line x1="390.7" y1="294.25" x2="393.9" y2="294.25" stroke="#86c06a" stroke-width="0.6" />
<circle cx="392.3" cy="281.2" r="2" fill="#fff" stroke="#86c06a" stroke-width="0.75"/>
<circle cx="389.7" cy="285.25" r="2" fill="#fff" stroke="#86c06a" stroke-width="0.75"/>
<circle cx="394.7" cy="286.6" r="2" fill="#fff" stroke="#86c06a" stroke-width="0.75"/>
<circle cx="389.9" cy="287.95" r="2" fill="#fff" stroke="#86c06a" stroke-width="0.75"/>
<circle cx="394.7" cy="290.2" r="2" fill="#fff" stroke="#86c06a" stroke-width="0.75"/>
<circle cx="389.9" cy="293.35" r="2" fill="#fff" stroke="#86c06a" stroke-width="0.75"/>
<circle cx="394.7" cy="298.3" r="2" fill="#fff" stroke="#86c06a" stroke-width="0.75"/>
<line x1="392.3" y1="300.1" x2="392.3" y2="302.4" stroke="#3a3a3a" stroke-width="0.8" />
<text transform="translate(395.8 307.6) rotate(-45)" font-size="7.73" text-anchor="end" fill="#222" font-weight="normal" stroke="#222" stroke-width="0.22">36 h</text>
<rect x="400.8" y="264.1" width="9.8" height="36" fill="#fbd28e"/>
<line x1="405.7" y1="252.85" x2="405.7" y2="275.35" stroke="#f0a54a" stroke-width="0.6" />
<line x1="404.1" y1="252.85" x2="407.3" y2="252.85" stroke="#f0a54a" stroke-width="0.6" />
<line x1="404.1" y1="275.35" x2="407.3" y2="275.35" stroke="#f0a54a" stroke-width="0.6" />
<circle cx="405.7" cy="246.55" r="2" fill="#fff" stroke="#f0a54a" stroke-width="0.75"/>
<circle cx="403.1" cy="252.85" r="2" fill="#fff" stroke="#f0a54a" stroke-width="0.75"/>
<circle cx="408.1" cy="261.4" r="2" fill="#fff" stroke="#f0a54a" stroke-width="0.75"/>
<circle cx="403.3" cy="261.4" r="2" fill="#fff" stroke="#f0a54a" stroke-width="0.75"/>
<circle cx="408.1" cy="266.8" r="2" fill="#fff" stroke="#f0a54a" stroke-width="0.75"/>
<circle cx="403.3" cy="272.2" r="2" fill="#fff" stroke="#f0a54a" stroke-width="0.75"/>
<circle cx="408.1" cy="272.2" r="2" fill="#fff" stroke="#f0a54a" stroke-width="0.75"/>
<circle cx="405.7" cy="280.3" r="2" fill="#fff" stroke="#f0a54a" stroke-width="0.75"/>
<line x1="405.7" y1="300.1" x2="405.7" y2="302.4" stroke="#3a3a3a" stroke-width="0.8" />
<text transform="translate(409.2 307.6) rotate(-45)" font-size="7.73" text-anchor="end" fill="#222" font-weight="normal" stroke="#222" stroke-width="0.22">Blank</text>
<line x1="351.7" y1="212.8" x2="406.2" y2="212.8" stroke="#888" stroke-width="0.9" />
<text transform="translate(378.5 211)" font-size="6.0" text-anchor="middle" fill="#2a2a2a" font-weight="normal" stroke="#2a2a2a" stroke-width="0.12">0.8218</text>
<line x1="364.9" y1="222.6" x2="406.2" y2="222.6" stroke="#888" stroke-width="0.9" />
<text transform="translate(385.5 220.9)" font-size="6.0" text-anchor="middle" fill="#2a2a2a" font-weight="normal" stroke="#2a2a2a" stroke-width="0.12">0.0480</text>
<line x1="378.5" y1="232.1" x2="406.2" y2="232.1" stroke="#888" stroke-width="0.9" />
<text transform="translate(392.5 230.4)" font-size="6.0" text-anchor="middle" fill="#2a2a2a" font-weight="normal" stroke="#2a2a2a" stroke-width="0.12">&lt;0.0001</text>
<line x1="392.2" y1="241.3" x2="406.2" y2="241.3" stroke="#888" stroke-width="0.9" />
<text transform="translate(400.5 239.6)" font-size="6.0" text-anchor="middle" fill="#2a2a2a" font-weight="normal" stroke="#2a2a2a" stroke-width="0.12">&lt;0.0001</text>
<text transform="translate(299.3 195.9) scale(1.06 1)" font-size="12.6" text-anchor="start" fill="#000" font-weight="bold">d</text>
<line x1="503.5" y1="300.2" x2="503.5" y2="203.8" stroke="#3a3a3a" stroke-width="0.8" />
<line x1="503.4" y1="300.5" x2="639.9" y2="300.5" stroke="#3a3a3a" stroke-width="0.8" />
<line x1="501.4" y1="300.2" x2="503.4" y2="300.2" stroke="#3a3a3a" stroke-width="0.7" />
<line x1="502.3" y1="293.02" x2="503.4" y2="293.02" stroke="#3a3a3a" stroke-width="0.5" />
<line x1="502.3" y1="288.82" x2="503.4" y2="288.82" stroke="#3a3a3a" stroke-width="0.5" />
<line x1="502.3" y1="285.84" x2="503.4" y2="285.84" stroke="#3a3a3a" stroke-width="0.5" />
<line x1="502.3" y1="283.53" x2="503.4" y2="283.53" stroke="#3a3a3a" stroke-width="0.5" />
<line x1="502.3" y1="281.64" x2="503.4" y2="281.64" stroke="#3a3a3a" stroke-width="0.5" />
<line x1="502.3" y1="280.04" x2="503.4" y2="280.04" stroke="#3a3a3a" stroke-width="0.5" />
<line x1="502.3" y1="278.66" x2="503.4" y2="278.66" stroke="#3a3a3a" stroke-width="0.5" />
<line x1="502.3" y1="277.44" x2="503.4" y2="277.44" stroke="#3a3a3a" stroke-width="0.5" />
<line x1="501.4" y1="276.35" x2="503.4" y2="276.35" stroke="#3a3a3a" stroke-width="0.7" />
<line x1="502.3" y1="269.17" x2="503.4" y2="269.17" stroke="#3a3a3a" stroke-width="0.5" />
<line x1="502.3" y1="264.97" x2="503.4" y2="264.97" stroke="#3a3a3a" stroke-width="0.5" />
<line x1="502.3" y1="261.99" x2="503.4" y2="261.99" stroke="#3a3a3a" stroke-width="0.5" />
<line x1="502.3" y1="259.68" x2="503.4" y2="259.68" stroke="#3a3a3a" stroke-width="0.5" />
<line x1="502.3" y1="257.79" x2="503.4" y2="257.79" stroke="#3a3a3a" stroke-width="0.5" />
<line x1="502.3" y1="256.19" x2="503.4" y2="256.19" stroke="#3a3a3a" stroke-width="0.5" />
<line x1="502.3" y1="254.81" x2="503.4" y2="254.81" stroke="#3a3a3a" stroke-width="0.5" />
<line x1="502.3" y1="253.59" x2="503.4" y2="253.59" stroke="#3a3a3a" stroke-width="0.5" />
<line x1="501.4" y1="252.5" x2="503.4" y2="252.5" stroke="#3a3a3a" stroke-width="0.7" />
<line x1="502.3" y1="245.32" x2="503.4" y2="245.32" stroke="#3a3a3a" stroke-width="0.5" />
<line x1="502.3" y1="241.12" x2="503.4" y2="241.12" stroke="#3a3a3a" stroke-width="0.5" />
<line x1="502.3" y1="238.14" x2="503.4" y2="238.14" stroke="#3a3a3a" stroke-width="0.5" />
<line x1="502.3" y1="235.83" x2="503.4" y2="235.83" stroke="#3a3a3a" stroke-width="0.5" />
<line x1="502.3" y1="233.94" x2="503.4" y2="233.94" stroke="#3a3a3a" stroke-width="0.5" />
<line x1="502.3" y1="232.34" x2="503.4" y2="232.34" stroke="#3a3a3a" stroke-width="0.5" />
<line x1="502.3" y1="230.96" x2="503.4" y2="230.96" stroke="#3a3a3a" stroke-width="0.5" />
<line x1="502.3" y1="229.74" x2="503.4" y2="229.74" stroke="#3a3a3a" stroke-width="0.5" />
<line x1="501.4" y1="228.65" x2="503.4" y2="228.65" stroke="#3a3a3a" stroke-width="0.7" />
<line x1="502.3" y1="221.47" x2="503.4" y2="221.47" stroke="#3a3a3a" stroke-width="0.5" />
<line x1="502.3" y1="217.27" x2="503.4" y2="217.27" stroke="#3a3a3a" stroke-width="0.5" />
<line x1="502.3" y1="214.29" x2="503.4" y2="214.29" stroke="#3a3a3a" stroke-width="0.5" />
<line x1="502.3" y1="211.98" x2="503.4" y2="211.98" stroke="#3a3a3a" stroke-width="0.5" />
<line x1="502.3" y1="210.09" x2="503.4" y2="210.09" stroke="#3a3a3a" stroke-width="0.5" />
<line x1="502.3" y1="208.49" x2="503.4" y2="208.49" stroke="#3a3a3a" stroke-width="0.5" />
<line x1="502.3" y1="207.11" x2="503.4" y2="207.11" stroke="#3a3a3a" stroke-width="0.5" />
<line x1="502.3" y1="205.89" x2="503.4" y2="205.89" stroke="#3a3a3a" stroke-width="0.5" />
<line x1="501.4" y1="204.8" x2="503.4" y2="204.8" stroke="#3a3a3a" stroke-width="0.7" />
<text transform="translate(493.3 302.7)" font-size="6.94" text-anchor="end" fill="#222" font-weight="normal" stroke="#222" stroke-width="0.12">10</text>
<text transform="translate(493.6 299.6)" font-size="4.93" text-anchor="start" fill="#222" font-weight="normal" stroke="#222" stroke-width="0.12">7</text>
<text transform="translate(493.3 278.85)" font-size="6.94" text-anchor="end" fill="#222" font-weight="normal" stroke="#222" stroke-width="0.12">10</text>
<text transform="translate(493.6 275.75)" font-size="4.93" text-anchor="start" fill="#222" font-weight="normal" stroke="#222" stroke-width="0.12">8</text>
<text transform="translate(493.3 255)" font-size="6.94" text-anchor="end" fill="#222" font-weight="normal" stroke="#222" stroke-width="0.12">10</text>
<text transform="translate(493.6 251.9)" font-size="4.93" text-anchor="start" fill="#222" font-weight="normal" stroke="#222" stroke-width="0.12">9</text>
<text transform="translate(493.3 231.15)" font-size="6.94" text-anchor="end" fill="#222" font-weight="normal" stroke="#222" stroke-width="0.12">10</text>
<text transform="translate(493.6 228.05)" font-size="4.93" text-anchor="start" fill="#222" font-weight="normal" stroke="#222" stroke-width="0.12">10</text>
<text transform="translate(493.3 207.3)" font-size="6.94" text-anchor="end" fill="#222" font-weight="normal" stroke="#222" stroke-width="0.12">10</text>
<text transform="translate(493.6 204.2)" font-size="4.93" text-anchor="start" fill="#222" font-weight="normal" stroke="#222" stroke-width="0.12">11</text>
<text transform="translate(477.6 251.6) rotate(-90)" font-size="8.4" text-anchor="middle" fill="#222" font-weight="normal" stroke="#222" stroke-width="0.22">CFU ml<tspan font-size="4.8" dx="0.5" dy="-3.3">&#8722;1</tspan></text>
<text transform="translate(569 195.4)" font-size="8.62" text-anchor="middle" fill="#222" font-weight="normal" stroke="#222" stroke-width="0.22">Stationary phase CFU</text>
<text transform="translate(572 322.5)" font-size="8.96" text-anchor="middle" fill="#222" font-weight="normal" stroke="#222" stroke-width="0.22">Glucose concentration (g l<tspan font-size="4.8" dx="0.5" dy="-3.3">&#8722;1</tspan><tspan dy="3.3">)</tspan></text>
<rect x="506.85" y="281.12" width="6.1" height="19.08" fill="#707070"/>
<line x1="509.9" y1="279.71" x2="509.9" y2="287.77" stroke="#2a2a2a" stroke-width="0.6" />
<line x1="508.7" y1="279.71" x2="511.1" y2="279.71" stroke="#2a2a2a" stroke-width="0.6" />
<line x1="508.7" y1="287.77" x2="511.1" y2="287.77" stroke="#2a2a2a" stroke-width="0.6" />
<circle cx="510.8" cy="279.21" r="1.75" fill="#fff" stroke="#3c3c3c" stroke-width="0.7"/>
<circle cx="509" cy="281.6" r="1.75" fill="#fff" stroke="#3c3c3c" stroke-width="0.7"/>
<circle cx="510.4" cy="284.22" r="1.75" fill="#fff" stroke="#3c3c3c" stroke-width="0.7"/>
<circle cx="509.3" cy="288.27" r="1.75" fill="#fff" stroke="#3c3c3c" stroke-width="0.7"/>
<rect x="516.55" y="293.05" width="6.1" height="7.15" fill="#e9a3a5"/>
<line x1="519.6" y1="288.77" x2="519.6" y2="297.31" stroke="#d9545a" stroke-width="0.6" />
<line x1="518.4" y1="288.77" x2="520.8" y2="288.77" stroke="#d9545a" stroke-width="0.6" />
<line x1="518.4" y1="297.31" x2="520.8" y2="297.31" stroke="#d9545a" stroke-width="0.6" />
<circle cx="520.5" cy="288.27" r="1.75" fill="#fff" stroke="#d9545a" stroke-width="0.7"/>
<circle cx="518.7" cy="291.85" r="1.75" fill="#fff" stroke="#d9545a" stroke-width="0.7"/>
<circle cx="520.1" cy="295.43" r="1.75" fill="#fff" stroke="#d9545a" stroke-width="0.7"/>
<circle cx="519" cy="297.81" r="1.75" fill="#fff" stroke="#d9545a" stroke-width="0.7"/>
<rect x="526.05" y="284.7" width="6.1" height="15.5" fill="#c3d5e7"/>
<line x1="529.1" y1="283.53" x2="529.1" y2="288.73" stroke="#78a6d6" stroke-width="0.6" />
<line x1="527.9" y1="283.53" x2="530.3" y2="283.53" stroke="#78a6d6" stroke-width="0.6" />
<line x1="527.9" y1="288.73" x2="530.3" y2="288.73" stroke="#78a6d6" stroke-width="0.6" />
<circle cx="530" cy="283.03" r="1.75" fill="#fff" stroke="#78a6d6" stroke-width="0.7"/>
<circle cx="528.2" cy="285.89" r="1.75" fill="#fff" stroke="#78a6d6" stroke-width="0.7"/>
<circle cx="529.6" cy="289.23" r="1.75" fill="#fff" stroke="#78a6d6" stroke-width="0.7"/>
<line x1="519.6" y1="300.2" x2="519.6" y2="301.8" stroke="#3a3a3a" stroke-width="0.7" />
<text transform="translate(519.6 312)" font-size="7.62" text-anchor="middle" fill="#222" font-weight="normal" stroke="#222" stroke-width="0.22">0.2</text>
<rect x="541.95" y="265.38" width="6.1" height="34.82" fill="#707070"/>
<line x1="545" y1="256.34" x2="545" y2="264.88" stroke="#2a2a2a" stroke-width="0.6" />
<line x1="543.8" y1="256.34" x2="546.2" y2="256.34" stroke="#2a2a2a" stroke-width="0.6" />
<line x1="543.8" y1="264.88" x2="546.2" y2="264.88" stroke="#2a2a2a" stroke-width="0.6" />
<circle cx="545.9" cy="255.84" r="1.75" fill="#fff" stroke="#3c3c3c" stroke-width="0.7"/>
<circle cx="544.1" cy="258.46" r="1.75" fill="#fff" stroke="#3c3c3c" stroke-width="0.7"/>
<circle cx="545.5" cy="262.04" r="1.75" fill="#fff" stroke="#3c3c3c" stroke-width="0.7"/>
<circle cx="544.4" cy="265.38" r="1.75" fill="#fff" stroke="#3c3c3c" stroke-width="0.7"/>
<rect x="551.65" y="273.73" width="6.1" height="26.47" fill="#e9a3a5"/>
<line x1="554.7" y1="273.03" x2="554.7" y2="287.77" stroke="#d9545a" stroke-width="0.6" />
<line x1="553.5" y1="273.03" x2="555.9" y2="273.03" stroke="#d9545a" stroke-width="0.6" />
<line x1="553.5" y1="287.77" x2="555.9" y2="287.77" stroke="#d9545a" stroke-width="0.6" />
<circle cx="555.6" cy="272.53" r="1.75" fill="#fff" stroke="#d9545a" stroke-width="0.7"/>
<circle cx="553.8" cy="276.35" r="1.75" fill="#fff" stroke="#d9545a" stroke-width="0.7"/>
<circle cx="555.2" cy="282.31" r="1.75" fill="#fff" stroke="#d9545a" stroke-width="0.7"/>
<circle cx="554.1" cy="288.27" r="1.75" fill="#fff" stroke="#d9545a" stroke-width="0.7"/>
<rect x="561.15" y="268.48" width="6.1" height="31.72" fill="#c3d5e7"/>
<line x1="564.2" y1="256.34" x2="564.2" y2="267.98" stroke="#78a6d6" stroke-width="0.6" />
<line x1="563" y1="256.34" x2="565.4" y2="256.34" stroke="#78a6d6" stroke-width="0.6" />
<line x1="563" y1="267.98" x2="565.4" y2="267.98" stroke="#78a6d6" stroke-width="0.6" />
<circle cx="565.1" cy="255.84" r="1.75" fill="#fff" stroke="#78a6d6" stroke-width="0.7"/>
<circle cx="563.3" cy="259.65" r="1.75" fill="#fff" stroke="#78a6d6" stroke-width="0.7"/>
<circle cx="564.7" cy="264.42" r="1.75" fill="#fff" stroke="#78a6d6" stroke-width="0.7"/>
<circle cx="563.6" cy="268.48" r="1.75" fill="#fff" stroke="#78a6d6" stroke-width="0.7"/>
<line x1="554.7" y1="300.2" x2="554.7" y2="301.8" stroke="#3a3a3a" stroke-width="0.7" />
<text transform="translate(554.7 312)" font-size="7.62" text-anchor="middle" fill="#222" font-weight="normal" stroke="#222" stroke-width="0.22">1</text>
<rect x="576.65" y="255.6" width="6.1" height="44.6" fill="#707070"/>
<line x1="579.7" y1="252.28" x2="579.7" y2="261.78" stroke="#2a2a2a" stroke-width="0.6" />
<line x1="578.5" y1="252.28" x2="580.9" y2="252.28" stroke="#2a2a2a" stroke-width="0.6" />
<line x1="578.5" y1="261.78" x2="580.9" y2="261.78" stroke="#2a2a2a" stroke-width="0.6" />
<circle cx="580.6" cy="251.78" r="1.75" fill="#fff" stroke="#3c3c3c" stroke-width="0.7"/>
<circle cx="578.8" cy="254.88" r="1.75" fill="#fff" stroke="#3c3c3c" stroke-width="0.7"/>
<circle cx="580.2" cy="258.46" r="1.75" fill="#fff" stroke="#3c3c3c" stroke-width="0.7"/>
<circle cx="579.1" cy="262.28" r="1.75" fill="#fff" stroke="#3c3c3c" stroke-width="0.7"/>
<rect x="586.35" y="262.28" width="6.1" height="37.92" fill="#e9a3a5"/>
<line x1="589.4" y1="258.01" x2="589.4" y2="272.75" stroke="#d9545a" stroke-width="0.6" />
<line x1="588.2" y1="258.01" x2="590.6" y2="258.01" stroke="#d9545a" stroke-width="0.6" />
<line x1="588.2" y1="272.75" x2="590.6" y2="272.75" stroke="#d9545a" stroke-width="0.6" />
<circle cx="590.3" cy="257.51" r="1.75" fill="#fff" stroke="#d9545a" stroke-width="0.7"/>
<circle cx="588.5" cy="263.23" r="1.75" fill="#fff" stroke="#d9545a" stroke-width="0.7"/>
<circle cx="589.9" cy="268" r="1.75" fill="#fff" stroke="#d9545a" stroke-width="0.7"/>
<circle cx="588.8" cy="273.25" r="1.75" fill="#fff" stroke="#d9545a" stroke-width="0.7"/>
<rect x="595.85" y="256.08" width="6.1" height="44.12" fill="#c3d5e7"/>
<line x1="598.9" y1="252.28" x2="598.9" y2="259.39" stroke="#78a6d6" stroke-width="0.6" />
<line x1="597.7" y1="252.28" x2="600.1" y2="252.28" stroke="#78a6d6" stroke-width="0.6" />
<line x1="597.7" y1="259.39" x2="600.1" y2="259.39" stroke="#78a6d6" stroke-width="0.6" />
<circle cx="599.8" cy="251.78" r="1.75" fill="#fff" stroke="#78a6d6" stroke-width="0.7"/>
<circle cx="598" cy="256.08" r="1.75" fill="#fff" stroke="#78a6d6" stroke-width="0.7"/>
<circle cx="599.4" cy="259.89" r="1.75" fill="#fff" stroke="#78a6d6" stroke-width="0.7"/>
<line x1="589.4" y1="300.2" x2="589.4" y2="301.8" stroke="#3a3a3a" stroke-width="0.7" />
<text transform="translate(589.4 312)" font-size="7.62" text-anchor="middle" fill="#222" font-weight="normal" stroke="#222" stroke-width="0.22">2</text>
<rect x="611.75" y="236.52" width="6.1" height="63.68" fill="#707070"/>
<line x1="614.8" y1="228.67" x2="614.8" y2="245.56" stroke="#2a2a2a" stroke-width="0.6" />
<line x1="613.6" y1="228.67" x2="616" y2="228.67" stroke="#2a2a2a" stroke-width="0.6" />
<line x1="613.6" y1="245.56" x2="616" y2="245.56" stroke="#2a2a2a" stroke-width="0.6" />
<circle cx="615.7" cy="228.17" r="1.75" fill="#fff" stroke="#3c3c3c" stroke-width="0.7"/>
<circle cx="613.9" cy="233.42" r="1.75" fill="#fff" stroke="#3c3c3c" stroke-width="0.7"/>
<circle cx="615.3" cy="239.38" r="1.75" fill="#fff" stroke="#3c3c3c" stroke-width="0.7"/>
<circle cx="614.2" cy="246.06" r="1.75" fill="#fff" stroke="#3c3c3c" stroke-width="0.7"/>
<rect x="621.45" y="234.85" width="6.1" height="65.35" fill="#e9a3a5"/>
<line x1="624.5" y1="230.34" x2="624.5" y2="243.89" stroke="#d9545a" stroke-width="0.6" />
<line x1="623.3" y1="230.34" x2="625.7" y2="230.34" stroke="#d9545a" stroke-width="0.6" />
<line x1="623.3" y1="243.89" x2="625.7" y2="243.89" stroke="#d9545a" stroke-width="0.6" />
<circle cx="625.4" cy="229.84" r="1.75" fill="#fff" stroke="#d9545a" stroke-width="0.7"/>
<circle cx="623.6" cy="235.81" r="1.75" fill="#fff" stroke="#d9545a" stroke-width="0.7"/>
<circle cx="625" cy="240.57" r="1.75" fill="#fff" stroke="#d9545a" stroke-width="0.7"/>
<circle cx="623.9" cy="244.39" r="1.75" fill="#fff" stroke="#d9545a" stroke-width="0.7"/>
<rect x="630.95" y="235.81" width="6.1" height="64.39" fill="#c3d5e7"/>
<line x1="634" y1="230.34" x2="634" y2="246.28" stroke="#78a6d6" stroke-width="0.6" />
<line x1="632.8" y1="230.34" x2="635.2" y2="230.34" stroke="#78a6d6" stroke-width="0.6" />
<line x1="632.8" y1="246.28" x2="635.2" y2="246.28" stroke="#78a6d6" stroke-width="0.6" />
<circle cx="634.9" cy="229.84" r="1.75" fill="#fff" stroke="#78a6d6" stroke-width="0.7"/>
<circle cx="633.1" cy="234.61" r="1.75" fill="#fff" stroke="#78a6d6" stroke-width="0.7"/>
<circle cx="634.5" cy="241.77" r="1.75" fill="#fff" stroke="#78a6d6" stroke-width="0.7"/>
<circle cx="633.4" cy="246.78" r="1.75" fill="#fff" stroke="#78a6d6" stroke-width="0.7"/>
<line x1="624.5" y1="300.2" x2="624.5" y2="301.8" stroke="#3a3a3a" stroke-width="0.7" />
<text transform="translate(624.5 312)" font-size="7.62" text-anchor="middle" fill="#222" font-weight="normal" stroke="#222" stroke-width="0.22">10</text>
<text transform="translate(523.7 210)" font-size="6.1" text-anchor="middle" fill="#2a2a2a" font-weight="normal" stroke="#2a2a2a" stroke-width="0.12">0.0457</text>
<line x1="514.2" y1="213.3" x2="532.1" y2="213.3" stroke="#444" stroke-width="0.75" />
<text transform="translate(519.4 222.8)" font-size="6.1" text-anchor="middle" fill="#2a2a2a" font-weight="normal" stroke="#2a2a2a" stroke-width="0.12">0.0001</text>
<line x1="514.2" y1="226.3" x2="525.1" y2="226.3" stroke="#444" stroke-width="0.75" />
<text transform="translate(556.8 210)" font-size="6.1" text-anchor="middle" fill="#2a2a2a" font-weight="normal" stroke="#2a2a2a" stroke-width="0.12">0.4046</text>
<line x1="547.3" y1="213.3" x2="564.8" y2="213.3" stroke="#444" stroke-width="0.75" />
<text transform="translate(552.5 222.8)" font-size="6.1" text-anchor="middle" fill="#2a2a2a" font-weight="normal" stroke="#2a2a2a" stroke-width="0.12">&lt; 0.0001</text>
<line x1="547.3" y1="226.3" x2="557.8" y2="226.3" stroke="#444" stroke-width="0.75" />
<text transform="translate(590.4 210)" font-size="6.1" text-anchor="middle" fill="#2a2a2a" font-weight="normal" stroke="#2a2a2a" stroke-width="0.12">0.8368</text>
<line x1="580.9" y1="213.3" x2="599" y2="213.3" stroke="#444" stroke-width="0.75" />
<text transform="translate(586.1 222.8)" font-size="6.1" text-anchor="middle" fill="#2a2a2a" font-weight="normal" stroke="#2a2a2a" stroke-width="0.12">0.0013</text>
<line x1="580.9" y1="226.3" x2="591.1" y2="226.3" stroke="#444" stroke-width="0.75" />
<text transform="translate(624.9 210)" font-size="6.1" text-anchor="middle" fill="#2a2a2a" font-weight="normal" stroke="#2a2a2a" stroke-width="0.12">0.9476</text>
<line x1="615.4" y1="213.3" x2="633.5" y2="213.3" stroke="#444" stroke-width="0.75" />
<text transform="translate(620.6 222.8)" font-size="6.1" text-anchor="middle" fill="#2a2a2a" font-weight="normal" stroke="#2a2a2a" stroke-width="0.12">0.9439</text>
<line x1="615.4" y1="226.3" x2="624.4" y2="226.3" stroke="#444" stroke-width="0.75" />
<circle cx="649.4" cy="207.9" r="2" fill="#fff" stroke="#3c3c3c" stroke-width="0.85"/>
<text transform="translate(655.7 210.3)" font-size="7.17" text-anchor="start" fill="#222" font-weight="normal" stroke="#222" stroke-width="0.12">WT</text>
<circle cx="649.4" cy="218.6" r="2" fill="#fff" stroke="#d9545a" stroke-width="0.85"/>
<text transform="translate(655.7 221)" font-size="7.17" text-anchor="start" fill="#222" font-weight="normal" stroke="#222" stroke-width="0.12">&#916;<tspan font-style="italic">manY</tspan></text>
<circle cx="649.4" cy="229.5" r="2" fill="#fff" stroke="#78a6d6" stroke-width="0.85"/>
<text transform="translate(655.7 231.9)" font-size="7.17" text-anchor="start" fill="#222" font-weight="normal" stroke="#222" stroke-width="0.12">C&#916;<tspan font-style="italic">manY</tspan></text>
<text transform="translate(470.5 195.9) scale(1.06 1)" font-size="12.6" text-anchor="start" fill="#000" font-weight="bold">e</text>
<line x1="63.5" y1="425.3" x2="63.5" y2="355.6" stroke="#505050" stroke-width="0.85" />
<line x1="63.2" y1="425.5" x2="166.72" y2="425.5" stroke="#606060" stroke-width="1.0" />
<line x1="61.5" y1="423" x2="63.2" y2="423" stroke="#3a3a3a" stroke-width="0.7" />
<line x1="62.1" y1="417.5" x2="63.2" y2="417.5" stroke="#3a3a3a" stroke-width="0.7" />
<line x1="61.5" y1="412" x2="63.2" y2="412" stroke="#3a3a3a" stroke-width="0.7" />
<line x1="62.1" y1="406.5" x2="63.2" y2="406.5" stroke="#3a3a3a" stroke-width="0.7" />
<line x1="61.5" y1="401" x2="63.2" y2="401" stroke="#3a3a3a" stroke-width="0.7" />
<line x1="62.1" y1="395.5" x2="63.2" y2="395.5" stroke="#3a3a3a" stroke-width="0.7" />
<line x1="61.5" y1="390" x2="63.2" y2="390" stroke="#3a3a3a" stroke-width="0.7" />
<line x1="62.1" y1="384.5" x2="63.2" y2="384.5" stroke="#3a3a3a" stroke-width="0.7" />
<line x1="61.5" y1="379" x2="63.2" y2="379" stroke="#3a3a3a" stroke-width="0.7" />
<line x1="62.1" y1="373.5" x2="63.2" y2="373.5" stroke="#3a3a3a" stroke-width="0.7" />
<line x1="61.5" y1="368" x2="63.2" y2="368" stroke="#3a3a3a" stroke-width="0.7" />
<line x1="62.1" y1="362.5" x2="63.2" y2="362.5" stroke="#3a3a3a" stroke-width="0.7" />
<line x1="61.5" y1="357" x2="63.2" y2="357" stroke="#3a3a3a" stroke-width="0.7" />
<line x1="69.2" y1="425.3" x2="69.2" y2="427" stroke="#3a3a3a" stroke-width="0.7" />
<line x1="81.34" y1="425.3" x2="81.34" y2="426.4" stroke="#3a3a3a" stroke-width="0.7" />
<line x1="93.48" y1="425.3" x2="93.48" y2="427" stroke="#3a3a3a" stroke-width="0.7" />
<line x1="105.62" y1="425.3" x2="105.62" y2="426.4" stroke="#3a3a3a" stroke-width="0.7" />
<line x1="117.76" y1="425.3" x2="117.76" y2="427" stroke="#3a3a3a" stroke-width="0.7" />
<line x1="129.9" y1="425.3" x2="129.9" y2="426.4" stroke="#3a3a3a" stroke-width="0.7" />
<line x1="142.04" y1="425.3" x2="142.04" y2="427" stroke="#3a3a3a" stroke-width="0.7" />
<line x1="154.18" y1="425.3" x2="154.18" y2="426.4" stroke="#3a3a3a" stroke-width="0.7" />
<line x1="166.32" y1="425.3" x2="166.32" y2="427" stroke="#3a3a3a" stroke-width="0.7" />
<text transform="translate(57.3 426)" font-size="7.39" text-anchor="end" fill="#222" font-weight="normal" stroke="#222" stroke-width="0.22">0</text>
<text transform="translate(57.3 415)" font-size="7.39" text-anchor="end" fill="#222" font-weight="normal" stroke="#222" stroke-width="0.22">20</text>
<text transform="translate(57.3 404)" font-size="7.39" text-anchor="end" fill="#222" font-weight="normal" stroke="#222" stroke-width="0.22">40</text>
<text transform="translate(57.3 393)" font-size="7.39" text-anchor="end" fill="#222" font-weight="normal" stroke="#222" stroke-width="0.22">60</text>
<text transform="translate(57.3 382)" font-size="7.39" text-anchor="end" fill="#222" font-weight="normal" stroke="#222" stroke-width="0.22">80</text>
<text transform="translate(57.3 371)" font-size="7.39" text-anchor="end" fill="#222" font-weight="normal" stroke="#222" stroke-width="0.22">100</text>
<text transform="translate(57.3 360)" font-size="7.39" text-anchor="end" fill="#222" font-weight="normal" stroke="#222" stroke-width="0.22">120</text>
<text transform="translate(69.2 437.4)" font-size="7.59" text-anchor="middle" fill="#222" font-weight="normal" stroke="#222" stroke-width="0.22">0</text>
<text transform="translate(93.48 437.4)" font-size="7.59" text-anchor="middle" fill="#222" font-weight="normal" stroke="#222" stroke-width="0.22">4</text>
<text transform="translate(117.76 437.4)" font-size="7.59" text-anchor="middle" fill="#222" font-weight="normal" stroke="#222" stroke-width="0.22">8</text>
<text transform="translate(142.04 437.4)" font-size="7.59" text-anchor="middle" fill="#222" font-weight="normal" stroke="#222" stroke-width="0.22">12</text>
<text transform="translate(166.32 437.4)" font-size="7.59" text-anchor="middle" fill="#222" font-weight="normal" stroke="#222" stroke-width="0.22">16</text>
<text transform="translate(115.6 449.5)" font-size="8.4" text-anchor="middle" fill="#222" font-weight="normal" stroke="#222" stroke-width="0.22">Time (h)</text>
<text transform="translate(114.5 347.8)" font-size="8.74" text-anchor="middle" fill="#222" font-weight="normal" stroke="#222" stroke-width="0.22">0.2 g l<tspan font-size="4.8" dx="0.5" dy="-3.3">&#8722;1</tspan></text>
<text transform="translate(28.6 391) rotate(-90)" font-size="8.85" text-anchor="middle" fill="#222" font-weight="normal" stroke="#222" stroke-width="0.22">Relative percentage of</text>
<text transform="translate(38.4 391) rotate(-90)" font-size="8.85" text-anchor="middle" fill="#222" font-weight="normal" stroke="#222" stroke-width="0.22">residual sugar</text>
<polyline points="69.2,368 81.34,398.25 93.48,422.45 105.62,421.9 117.76,421.9 129.9,423.55 142.04,423 160.25,418.6" fill="none" stroke="#7aa8d8" stroke-width="0.8" stroke-linejoin="round"/>
<line x1="160.25" y1="412" x2="160.25" y2="425.2" stroke="#7aa8d8" stroke-width="0.6" />
<line x1="158.85" y1="412" x2="161.65" y2="412" stroke="#7aa8d8" stroke-width="0.6" />
<line x1="158.85" y1="425.2" x2="161.65" y2="425.2" stroke="#7aa8d8" stroke-width="0.6" />
<line x1="81.34" y1="391.65" x2="81.34" y2="404.85" stroke="#7aa8d8" stroke-width="0.6" />
<line x1="79.94" y1="391.65" x2="82.74" y2="391.65" stroke="#7aa8d8" stroke-width="0.6" />
<line x1="79.94" y1="404.85" x2="82.74" y2="404.85" stroke="#7aa8d8" stroke-width="0.6" />
<circle cx="69.2" cy="368" r="1.45" fill="#fff" stroke="#7aa8d8" stroke-width="0.65"/>
<circle cx="81.34" cy="398.25" r="1.45" fill="#fff" stroke="#7aa8d8" stroke-width="0.65"/>
<circle cx="93.48" cy="422.45" r="1.45" fill="#fff" stroke="#7aa8d8" stroke-width="0.65"/>
<circle cx="105.62" cy="421.9" r="1.45" fill="#fff" stroke="#7aa8d8" stroke-width="0.65"/>
<circle cx="117.76" cy="421.9" r="1.45" fill="#fff" stroke="#7aa8d8" stroke-width="0.65"/>
<circle cx="129.9" cy="423.55" r="1.45" fill="#fff" stroke="#7aa8d8" stroke-width="0.65"/>
<circle cx="142.04" cy="423" r="1.45" fill="#fff" stroke="#7aa8d8" stroke-width="0.65"/>
<circle cx="160.25" cy="418.6" r="1.45" fill="#fff" stroke="#7aa8d8" stroke-width="0.65"/>
<polyline points="69.2,368 81.34,369.1 93.48,370.2 105.62,376.25 117.76,377.9 129.9,380.65 142.04,392.2 160.25,402.1" fill="none" stroke="#d9545a" stroke-width="0.8" stroke-dasharray="1.8,0.7" stroke-linejoin="round"/>
<line x1="93.48" y1="368" x2="93.48" y2="372.4" stroke="#d9545a" stroke-width="0.6" />
<line x1="92.08" y1="368" x2="94.88" y2="368" stroke="#d9545a" stroke-width="0.6" />
<line x1="92.08" y1="372.4" x2="94.88" y2="372.4" stroke="#d9545a" stroke-width="0.6" />
<line x1="129.9" y1="379" x2="129.9" y2="382.3" stroke="#d9545a" stroke-width="0.6" />
<line x1="128.5" y1="379" x2="131.3" y2="379" stroke="#d9545a" stroke-width="0.6" />
<line x1="128.5" y1="382.3" x2="131.3" y2="382.3" stroke="#d9545a" stroke-width="0.6" />
<line x1="160.25" y1="394.4" x2="160.25" y2="409.8" stroke="#d9545a" stroke-width="0.6" />
<line x1="158.85" y1="394.4" x2="161.65" y2="394.4" stroke="#d9545a" stroke-width="0.6" />
<line x1="158.85" y1="409.8" x2="161.65" y2="409.8" stroke="#d9545a" stroke-width="0.6" />
<circle cx="69.2" cy="368" r="1.45" fill="#fff" stroke="#d9545a" stroke-width="0.65"/>
<circle cx="81.34" cy="369.1" r="1.45" fill="#fff" stroke="#d9545a" stroke-width="0.65"/>
<circle cx="93.48" cy="370.2" r="1.45" fill="#fff" stroke="#d9545a" stroke-width="0.65"/>
<circle cx="105.62" cy="376.25" r="1.45" fill="#fff" stroke="#d9545a" stroke-width="0.65"/>
<circle cx="117.76" cy="377.9" r="1.45" fill="#fff" stroke="#d9545a" stroke-width="0.65"/>
<circle cx="129.9" cy="380.65" r="1.45" fill="#fff" stroke="#d9545a" stroke-width="0.65"/>
<circle cx="142.04" cy="392.2" r="1.45" fill="#fff" stroke="#d9545a" stroke-width="0.65"/>
<circle cx="160.25" cy="402.1" r="1.45" fill="#fff" stroke="#d9545a" stroke-width="0.65"/>
<polyline points="69.2,368 81.34,395.5 93.48,423 105.62,421.9" fill="none" stroke="#2b2b2b" stroke-width="1.0" stroke-linejoin="round"/>
<polyline points="105.62,421.9 117.76,423 129.9,420.25 142.04,423.55 160.25,422.45" fill="none" stroke="#2b2b2b" stroke-width="0.85" stroke-dasharray="1.8,0.7" stroke-linejoin="round"/>
<line x1="81.34" y1="384.5" x2="81.34" y2="406.5" stroke="#2b2b2b" stroke-width="0.6" />
<line x1="79.94" y1="384.5" x2="82.74" y2="384.5" stroke="#2b2b2b" stroke-width="0.6" />
<line x1="79.94" y1="406.5" x2="82.74" y2="406.5" stroke="#2b2b2b" stroke-width="0.6" />
<line x1="129.9" y1="414.75" x2="129.9" y2="425.75" stroke="#2b2b2b" stroke-width="0.6" />
<line x1="128.5" y1="414.75" x2="131.3" y2="414.75" stroke="#2b2b2b" stroke-width="0.6" />
<line x1="128.5" y1="425.75" x2="131.3" y2="425.75" stroke="#2b2b2b" stroke-width="0.6" />
<circle cx="69.2" cy="368" r="1.45" fill="#fff" stroke="#2b2b2b" stroke-width="0.65"/>
<circle cx="81.34" cy="395.5" r="1.45" fill="#fff" stroke="#2b2b2b" stroke-width="0.65"/>
<circle cx="93.48" cy="423" r="1.45" fill="#fff" stroke="#2b2b2b" stroke-width="0.65"/>
<circle cx="105.62" cy="421.9" r="1.45" fill="#fff" stroke="#2b2b2b" stroke-width="0.65"/>
<circle cx="117.76" cy="423" r="1.45" fill="#fff" stroke="#2b2b2b" stroke-width="0.65"/>
<circle cx="129.9" cy="420.25" r="1.45" fill="#fff" stroke="#2b2b2b" stroke-width="0.65"/>
<circle cx="142.04" cy="423.55" r="1.45" fill="#fff" stroke="#2b2b2b" stroke-width="0.65"/>
<circle cx="160.25" cy="422.45" r="1.45" fill="#fff" stroke="#2b2b2b" stroke-width="0.65"/>
<line x1="219.5" y1="425.3" x2="219.5" y2="355.6" stroke="#505050" stroke-width="0.85" />
<line x1="219.5" y1="425.7" x2="322.92" y2="425.7" stroke="#b4b4b4" stroke-width="1.4" />
<line x1="217.8" y1="423" x2="219.5" y2="423" stroke="#3a3a3a" stroke-width="0.7" />
<line x1="218.4" y1="417.5" x2="219.5" y2="417.5" stroke="#3a3a3a" stroke-width="0.7" />
<line x1="217.8" y1="412" x2="219.5" y2="412" stroke="#3a3a3a" stroke-width="0.7" />
<line x1="218.4" y1="406.5" x2="219.5" y2="406.5" stroke="#3a3a3a" stroke-width="0.7" />
<line x1="217.8" y1="401" x2="219.5" y2="401" stroke="#3a3a3a" stroke-width="0.7" />
<line x1="218.4" y1="395.5" x2="219.5" y2="395.5" stroke="#3a3a3a" stroke-width="0.7" />
<line x1="217.8" y1="390" x2="219.5" y2="390" stroke="#3a3a3a" stroke-width="0.7" />
<line x1="218.4" y1="384.5" x2="219.5" y2="384.5" stroke="#3a3a3a" stroke-width="0.7" />
<line x1="217.8" y1="379" x2="219.5" y2="379" stroke="#3a3a3a" stroke-width="0.7" />
<line x1="218.4" y1="373.5" x2="219.5" y2="373.5" stroke="#3a3a3a" stroke-width="0.7" />
<line x1="217.8" y1="368" x2="219.5" y2="368" stroke="#3a3a3a" stroke-width="0.7" />
<line x1="218.4" y1="362.5" x2="219.5" y2="362.5" stroke="#3a3a3a" stroke-width="0.7" />
<line x1="217.8" y1="357" x2="219.5" y2="357" stroke="#3a3a3a" stroke-width="0.7" />
<line x1="225.4" y1="425.3" x2="225.4" y2="427" stroke="#3a3a3a" stroke-width="0.7" />
<line x1="237.54" y1="425.3" x2="237.54" y2="426.4" stroke="#3a3a3a" stroke-width="0.7" />
<line x1="249.68" y1="425.3" x2="249.68" y2="427" stroke="#3a3a3a" stroke-width="0.7" />
<line x1="261.82" y1="425.3" x2="261.82" y2="426.4" stroke="#3a3a3a" stroke-width="0.7" />
<line x1="273.96" y1="425.3" x2="273.96" y2="427" stroke="#3a3a3a" stroke-width="0.7" />
<line x1="286.1" y1="425.3" x2="286.1" y2="426.4" stroke="#3a3a3a" stroke-width="0.7" />
<line x1="298.24" y1="425.3" x2="298.24" y2="427" stroke="#3a3a3a" stroke-width="0.7" />
<line x1="310.38" y1="425.3" x2="310.38" y2="426.4" stroke="#3a3a3a" stroke-width="0.7" />
<line x1="322.52" y1="425.3" x2="322.52" y2="427" stroke="#3a3a3a" stroke-width="0.7" />
<text transform="translate(213.1 426)" font-size="7.39" text-anchor="end" fill="#222" font-weight="normal" stroke="#222" stroke-width="0.22">0</text>
<text transform="translate(213.1 415)" font-size="7.39" text-anchor="end" fill="#222" font-weight="normal" stroke="#222" stroke-width="0.22">20</text>
<text transform="translate(213.1 404)" font-size="7.39" text-anchor="end" fill="#222" font-weight="normal" stroke="#222" stroke-width="0.22">40</text>
<text transform="translate(213.1 393)" font-size="7.39" text-anchor="end" fill="#222" font-weight="normal" stroke="#222" stroke-width="0.22">60</text>
<text transform="translate(213.1 382)" font-size="7.39" text-anchor="end" fill="#222" font-weight="normal" stroke="#222" stroke-width="0.22">80</text>
<text transform="translate(213.1 371)" font-size="7.39" text-anchor="end" fill="#222" font-weight="normal" stroke="#222" stroke-width="0.22">100</text>
<text transform="translate(213.1 360)" font-size="7.39" text-anchor="end" fill="#222" font-weight="normal" stroke="#222" stroke-width="0.22">120</text>
<text transform="translate(225.4 437.4)" font-size="7.59" text-anchor="middle" fill="#222" font-weight="normal" stroke="#222" stroke-width="0.22">0</text>
<text transform="translate(249.68 437.4)" font-size="7.59" text-anchor="middle" fill="#222" font-weight="normal" stroke="#222" stroke-width="0.22">4</text>
<text transform="translate(273.96 437.4)" font-size="7.59" text-anchor="middle" fill="#222" font-weight="normal" stroke="#222" stroke-width="0.22">8</text>
<text transform="translate(298.24 437.4)" font-size="7.59" text-anchor="middle" fill="#222" font-weight="normal" stroke="#222" stroke-width="0.22">12</text>
<text transform="translate(322.52 437.4)" font-size="7.59" text-anchor="middle" fill="#222" font-weight="normal" stroke="#222" stroke-width="0.22">16</text>
<text transform="translate(271.8 449.5)" font-size="8.4" text-anchor="middle" fill="#222" font-weight="normal" stroke="#222" stroke-width="0.22">Time (h)</text>
<text transform="translate(270.7 347.8)" font-size="8.74" text-anchor="middle" fill="#222" font-weight="normal" stroke="#222" stroke-width="0.22">1 g l<tspan font-size="4.8" dx="0.5" dy="-3.3">&#8722;1</tspan></text>
<text transform="translate(184.9 391) rotate(-90)" font-size="8.85" text-anchor="middle" fill="#222" font-weight="normal" stroke="#222" stroke-width="0.22">Relative percentage of</text>
<text transform="translate(194.7 391) rotate(-90)" font-size="8.85" text-anchor="middle" fill="#222" font-weight="normal" stroke="#222" stroke-width="0.22">residual sugar</text>
<polyline points="225.4,369.1 237.54,375.15 249.68,409.25 261.82,422.45 273.96,423 286.1,423 298.24,423 316.45,423" fill="none" stroke="#7aa8d8" stroke-width="0.8" stroke-linejoin="round"/>
<line x1="249.68" y1="403.75" x2="249.68" y2="414.75" stroke="#7aa8d8" stroke-width="0.6" />
<line x1="248.28" y1="403.75" x2="251.08" y2="403.75" stroke="#7aa8d8" stroke-width="0.6" />
<line x1="248.28" y1="414.75" x2="251.08" y2="414.75" stroke="#7aa8d8" stroke-width="0.6" />
<circle cx="225.4" cy="369.1" r="1.45" fill="#fff" stroke="#7aa8d8" stroke-width="0.65"/>
<circle cx="237.54" cy="375.15" r="1.45" fill="#fff" stroke="#7aa8d8" stroke-width="0.65"/>
<circle cx="249.68" cy="409.25" r="1.45" fill="#fff" stroke="#7aa8d8" stroke-width="0.65"/>
<circle cx="261.82" cy="422.45" r="1.45" fill="#fff" stroke="#7aa8d8" stroke-width="0.65"/>
<circle cx="273.96" cy="423" r="1.45" fill="#fff" stroke="#7aa8d8" stroke-width="0.65"/>
<circle cx="286.1" cy="423" r="1.45" fill="#fff" stroke="#7aa8d8" stroke-width="0.65"/>
<circle cx="298.24" cy="423" r="1.45" fill="#fff" stroke="#7aa8d8" stroke-width="0.65"/>
<circle cx="316.45" cy="423" r="1.45" fill="#fff" stroke="#7aa8d8" stroke-width="0.65"/>
<polyline points="225.4,369.65 237.54,371.85 249.68,374.6 261.82,380.1 273.96,395.5 286.1,403.75 298.24,414.2 316.45,418.6" fill="none" stroke="#d9545a" stroke-width="0.8" stroke-linejoin="round"/>
<line x1="261.82" y1="373.5" x2="261.82" y2="386.7" stroke="#d9545a" stroke-width="0.6" />
<line x1="260.42" y1="373.5" x2="263.22" y2="373.5" stroke="#d9545a" stroke-width="0.6" />
<line x1="260.42" y1="386.7" x2="263.22" y2="386.7" stroke="#d9545a" stroke-width="0.6" />
<line x1="286.1" y1="399.9" x2="286.1" y2="407.6" stroke="#d9545a" stroke-width="0.6" />
<line x1="284.7" y1="399.9" x2="287.5" y2="399.9" stroke="#d9545a" stroke-width="0.6" />
<line x1="284.7" y1="407.6" x2="287.5" y2="407.6" stroke="#d9545a" stroke-width="0.6" />
<circle cx="225.4" cy="369.65" r="1.45" fill="#fff" stroke="#d9545a" stroke-width="0.65"/>
<circle cx="237.54" cy="371.85" r="1.45" fill="#fff" stroke="#d9545a" stroke-width="0.65"/>
<circle cx="249.68" cy="374.6" r="1.45" fill="#fff" stroke="#d9545a" stroke-width="0.65"/>
<circle cx="261.82" cy="380.1" r="1.45" fill="#fff" stroke="#d9545a" stroke-width="0.65"/>
<circle cx="273.96" cy="395.5" r="1.45" fill="#fff" stroke="#d9545a" stroke-width="0.65"/>
<circle cx="286.1" cy="403.75" r="1.45" fill="#fff" stroke="#d9545a" stroke-width="0.65"/>
<circle cx="298.24" cy="414.2" r="1.45" fill="#fff" stroke="#d9545a" stroke-width="0.65"/>
<circle cx="316.45" cy="418.6" r="1.45" fill="#fff" stroke="#d9545a" stroke-width="0.65"/>
<polyline points="225.4,370.2 237.54,376.25 249.68,408.15 261.82,423" fill="none" stroke="#2b2b2b" stroke-width="1.0" stroke-linejoin="round"/>
<polyline points="261.82,423 273.96,423 286.1,423 298.24,423 316.45,423" fill="none" stroke="#2b2b2b" stroke-width="0.85" stroke-dasharray="1.8,0.7" stroke-linejoin="round"/>
<line x1="249.68" y1="399.9" x2="249.68" y2="416.4" stroke="#2b2b2b" stroke-width="0.6" />
<line x1="248.28" y1="399.9" x2="251.08" y2="399.9" stroke="#2b2b2b" stroke-width="0.6" />
<line x1="248.28" y1="416.4" x2="251.08" y2="416.4" stroke="#2b2b2b" stroke-width="0.6" />
<circle cx="225.4" cy="370.2" r="1.45" fill="#fff" stroke="#2b2b2b" stroke-width="0.65"/>
<circle cx="237.54" cy="376.25" r="1.45" fill="#fff" stroke="#2b2b2b" stroke-width="0.65"/>
<circle cx="249.68" cy="408.15" r="1.45" fill="#fff" stroke="#2b2b2b" stroke-width="0.65"/>
<circle cx="261.82" cy="423" r="1.45" fill="#fff" stroke="#2b2b2b" stroke-width="0.65"/>
<circle cx="273.96" cy="423" r="1.45" fill="#fff" stroke="#2b2b2b" stroke-width="0.65"/>
<circle cx="286.1" cy="423" r="1.45" fill="#fff" stroke="#2b2b2b" stroke-width="0.65"/>
<circle cx="298.24" cy="423" r="1.45" fill="#fff" stroke="#2b2b2b" stroke-width="0.65"/>
<circle cx="316.45" cy="423" r="1.45" fill="#fff" stroke="#2b2b2b" stroke-width="0.65"/>
<line x1="379.5" y1="425.3" x2="379.5" y2="355.6" stroke="#505050" stroke-width="0.85" />
<line x1="379.3" y1="425.5" x2="483.32" y2="425.5" stroke="#606060" stroke-width="1.0" />
<line x1="377.6" y1="423" x2="379.3" y2="423" stroke="#3a3a3a" stroke-width="0.7" />
<line x1="378.2" y1="417.5" x2="379.3" y2="417.5" stroke="#3a3a3a" stroke-width="0.7" />
<line x1="377.6" y1="412" x2="379.3" y2="412" stroke="#3a3a3a" stroke-width="0.7" />
<line x1="378.2" y1="406.5" x2="379.3" y2="406.5" stroke="#3a3a3a" stroke-width="0.7" />
<line x1="377.6" y1="401" x2="379.3" y2="401" stroke="#3a3a3a" stroke-width="0.7" />
<line x1="378.2" y1="395.5" x2="379.3" y2="395.5" stroke="#3a3a3a" stroke-width="0.7" />
<line x1="377.6" y1="390" x2="379.3" y2="390" stroke="#3a3a3a" stroke-width="0.7" />
<line x1="378.2" y1="384.5" x2="379.3" y2="384.5" stroke="#3a3a3a" stroke-width="0.7" />
<line x1="377.6" y1="379" x2="379.3" y2="379" stroke="#3a3a3a" stroke-width="0.7" />
<line x1="378.2" y1="373.5" x2="379.3" y2="373.5" stroke="#3a3a3a" stroke-width="0.7" />
<line x1="377.6" y1="368" x2="379.3" y2="368" stroke="#3a3a3a" stroke-width="0.7" />
<line x1="378.2" y1="362.5" x2="379.3" y2="362.5" stroke="#3a3a3a" stroke-width="0.7" />
<line x1="377.6" y1="357" x2="379.3" y2="357" stroke="#3a3a3a" stroke-width="0.7" />
<line x1="385.8" y1="425.3" x2="385.8" y2="427" stroke="#3a3a3a" stroke-width="0.7" />
<line x1="397.94" y1="425.3" x2="397.94" y2="426.4" stroke="#3a3a3a" stroke-width="0.7" />
<line x1="410.08" y1="425.3" x2="410.08" y2="427" stroke="#3a3a3a" stroke-width="0.7" />
<line x1="422.22" y1="425.3" x2="422.22" y2="426.4" stroke="#3a3a3a" stroke-width="0.7" />
<line x1="434.36" y1="425.3" x2="434.36" y2="427" stroke="#3a3a3a" stroke-width="0.7" />
<line x1="446.5" y1="425.3" x2="446.5" y2="426.4" stroke="#3a3a3a" stroke-width="0.7" />
<line x1="458.64" y1="425.3" x2="458.64" y2="427" stroke="#3a3a3a" stroke-width="0.7" />
<line x1="470.78" y1="425.3" x2="470.78" y2="426.4" stroke="#3a3a3a" stroke-width="0.7" />
<line x1="482.92" y1="425.3" x2="482.92" y2="427" stroke="#3a3a3a" stroke-width="0.7" />
<text transform="translate(373.6 426)" font-size="7.39" text-anchor="end" fill="#222" font-weight="normal" stroke="#222" stroke-width="0.22">0</text>
<text transform="translate(373.6 415)" font-size="7.39" text-anchor="end" fill="#222" font-weight="normal" stroke="#222" stroke-width="0.22">20</text>
<text transform="translate(373.6 404)" font-size="7.39" text-anchor="end" fill="#222" font-weight="normal" stroke="#222" stroke-width="0.22">40</text>
<text transform="translate(373.6 393)" font-size="7.39" text-anchor="end" fill="#222" font-weight="normal" stroke="#222" stroke-width="0.22">60</text>
<text transform="translate(373.6 382)" font-size="7.39" text-anchor="end" fill="#222" font-weight="normal" stroke="#222" stroke-width="0.22">80</text>
<text transform="translate(373.6 371)" font-size="7.39" text-anchor="end" fill="#222" font-weight="normal" stroke="#222" stroke-width="0.22">100</text>
<text transform="translate(373.6 360)" font-size="7.39" text-anchor="end" fill="#222" font-weight="normal" stroke="#222" stroke-width="0.22">120</text>
<text transform="translate(385.8 437.4)" font-size="7.59" text-anchor="middle" fill="#222" font-weight="normal" stroke="#222" stroke-width="0.22">0</text>
<text transform="translate(410.08 437.4)" font-size="7.59" text-anchor="middle" fill="#222" font-weight="normal" stroke="#222" stroke-width="0.22">4</text>
<text transform="translate(434.36 437.4)" font-size="7.59" text-anchor="middle" fill="#222" font-weight="normal" stroke="#222" stroke-width="0.22">8</text>
<text transform="translate(458.64 437.4)" font-size="7.59" text-anchor="middle" fill="#222" font-weight="normal" stroke="#222" stroke-width="0.22">12</text>
<text transform="translate(482.92 437.4)" font-size="7.59" text-anchor="middle" fill="#222" font-weight="normal" stroke="#222" stroke-width="0.22">16</text>
<text transform="translate(432.2 449.5)" font-size="8.4" text-anchor="middle" fill="#222" font-weight="normal" stroke="#222" stroke-width="0.22">Time (h)</text>
<text transform="translate(431.1 347.8)" font-size="8.74" text-anchor="middle" fill="#222" font-weight="normal" stroke="#222" stroke-width="0.22">2 g l<tspan font-size="4.8" dx="0.5" dy="-3.3">&#8722;1</tspan></text>
<text transform="translate(344.7 391) rotate(-90)" font-size="8.85" text-anchor="middle" fill="#222" font-weight="normal" stroke="#222" stroke-width="0.22">Relative percentage of</text>
<text transform="translate(354.5 391) rotate(-90)" font-size="8.85" text-anchor="middle" fill="#222" font-weight="normal" stroke="#222" stroke-width="0.22">residual sugar</text>
<polyline points="385.8,368 397.94,370.75 410.08,388.9 422.22,423 434.36,423 446.5,423 458.64,423 476.85,423" fill="none" stroke="#7aa8d8" stroke-width="0.8" stroke-linejoin="round"/>
<line x1="397.94" y1="364.15" x2="397.94" y2="377.35" stroke="#7aa8d8" stroke-width="0.6" />
<line x1="396.54" y1="364.15" x2="399.34" y2="364.15" stroke="#7aa8d8" stroke-width="0.6" />
<line x1="396.54" y1="377.35" x2="399.34" y2="377.35" stroke="#7aa8d8" stroke-width="0.6" />
<line x1="410.08" y1="386.15" x2="410.08" y2="391.65" stroke="#7aa8d8" stroke-width="0.6" />
<line x1="408.68" y1="386.15" x2="411.48" y2="386.15" stroke="#7aa8d8" stroke-width="0.6" />
<line x1="408.68" y1="391.65" x2="411.48" y2="391.65" stroke="#7aa8d8" stroke-width="0.6" />
<circle cx="385.8" cy="368" r="1.45" fill="#fff" stroke="#7aa8d8" stroke-width="0.65"/>
<circle cx="397.94" cy="370.75" r="1.45" fill="#fff" stroke="#7aa8d8" stroke-width="0.65"/>
<circle cx="410.08" cy="388.9" r="1.45" fill="#fff" stroke="#7aa8d8" stroke-width="0.65"/>
<circle cx="422.22" cy="423" r="1.45" fill="#fff" stroke="#7aa8d8" stroke-width="0.65"/>
<circle cx="434.36" cy="423" r="1.45" fill="#fff" stroke="#7aa8d8" stroke-width="0.65"/>
<circle cx="446.5" cy="423" r="1.45" fill="#fff" stroke="#7aa8d8" stroke-width="0.65"/>
<circle cx="458.64" cy="423" r="1.45" fill="#fff" stroke="#7aa8d8" stroke-width="0.65"/>
<circle cx="476.85" cy="423" r="1.45" fill="#fff" stroke="#7aa8d8" stroke-width="0.65"/>
<polyline points="385.8,366.9 397.94,370.75 410.08,373.5 422.22,377.35 434.36,406.5 446.5,412 458.64,423 476.85,422.45" fill="none" stroke="#d9545a" stroke-width="0.8" stroke-linejoin="round"/>
<line x1="434.36" y1="402.65" x2="434.36" y2="410.35" stroke="#d9545a" stroke-width="0.6" />
<line x1="432.96" y1="402.65" x2="435.76" y2="402.65" stroke="#d9545a" stroke-width="0.6" />
<line x1="432.96" y1="410.35" x2="435.76" y2="410.35" stroke="#d9545a" stroke-width="0.6" />
<line x1="446.5" y1="408.15" x2="446.5" y2="415.85" stroke="#d9545a" stroke-width="0.6" />
<line x1="445.1" y1="408.15" x2="447.9" y2="408.15" stroke="#d9545a" stroke-width="0.6" />
<line x1="445.1" y1="415.85" x2="447.9" y2="415.85" stroke="#d9545a" stroke-width="0.6" />
<circle cx="385.8" cy="366.9" r="1.45" fill="#fff" stroke="#d9545a" stroke-width="0.65"/>
<circle cx="397.94" cy="370.75" r="1.45" fill="#fff" stroke="#d9545a" stroke-width="0.65"/>
<circle cx="410.08" cy="373.5" r="1.45" fill="#fff" stroke="#d9545a" stroke-width="0.65"/>
<circle cx="422.22" cy="377.35" r="1.45" fill="#fff" stroke="#d9545a" stroke-width="0.65"/>
<circle cx="434.36" cy="406.5" r="1.45" fill="#fff" stroke="#d9545a" stroke-width="0.65"/>
<circle cx="446.5" cy="412" r="1.45" fill="#fff" stroke="#d9545a" stroke-width="0.65"/>
<circle cx="458.64" cy="423" r="1.45" fill="#fff" stroke="#d9545a" stroke-width="0.65"/>
<circle cx="476.85" cy="422.45" r="1.45" fill="#fff" stroke="#d9545a" stroke-width="0.65"/>
<polyline points="385.8,366.9 397.94,372.4 410.08,387.25 422.22,423" fill="none" stroke="#2b2b2b" stroke-width="1.0" stroke-linejoin="round"/>
<polyline points="422.22,423 434.36,423 446.5,423 458.64,423 476.85,423" fill="none" stroke="#2b2b2b" stroke-width="0.85" stroke-dasharray="1.8,0.7" stroke-linejoin="round"/>
<line x1="385.8" y1="362.5" x2="385.8" y2="371.3" stroke="#2b2b2b" stroke-width="0.6" />
<line x1="384.4" y1="362.5" x2="387.2" y2="362.5" stroke="#2b2b2b" stroke-width="0.6" />
<line x1="384.4" y1="371.3" x2="387.2" y2="371.3" stroke="#2b2b2b" stroke-width="0.6" />
<line x1="410.08" y1="385.05" x2="410.08" y2="389.45" stroke="#2b2b2b" stroke-width="0.6" />
<line x1="408.68" y1="385.05" x2="411.48" y2="385.05" stroke="#2b2b2b" stroke-width="0.6" />
<line x1="408.68" y1="389.45" x2="411.48" y2="389.45" stroke="#2b2b2b" stroke-width="0.6" />
<circle cx="385.8" cy="366.9" r="1.45" fill="#fff" stroke="#2b2b2b" stroke-width="0.65"/>
<circle cx="397.94" cy="372.4" r="1.45" fill="#fff" stroke="#2b2b2b" stroke-width="0.65"/>
<circle cx="410.08" cy="387.25" r="1.45" fill="#fff" stroke="#2b2b2b" stroke-width="0.65"/>
<circle cx="422.22" cy="423" r="1.45" fill="#fff" stroke="#2b2b2b" stroke-width="0.65"/>
<circle cx="434.36" cy="423" r="1.45" fill="#fff" stroke="#2b2b2b" stroke-width="0.65"/>
<circle cx="446.5" cy="423" r="1.45" fill="#fff" stroke="#2b2b2b" stroke-width="0.65"/>
<circle cx="458.64" cy="423" r="1.45" fill="#fff" stroke="#2b2b2b" stroke-width="0.65"/>
<circle cx="476.85" cy="423" r="1.45" fill="#fff" stroke="#2b2b2b" stroke-width="0.65"/>
<line x1="540.5" y1="425.3" x2="540.5" y2="355.6" stroke="#505050" stroke-width="0.85" />
<line x1="540.7" y1="425.7" x2="643.92" y2="425.7" stroke="#b4b4b4" stroke-width="1.4" />
<line x1="539" y1="423" x2="540.7" y2="423" stroke="#3a3a3a" stroke-width="0.7" />
<line x1="539.6" y1="417.5" x2="540.7" y2="417.5" stroke="#3a3a3a" stroke-width="0.7" />
<line x1="539" y1="412" x2="540.7" y2="412" stroke="#3a3a3a" stroke-width="0.7" />
<line x1="539.6" y1="406.5" x2="540.7" y2="406.5" stroke="#3a3a3a" stroke-width="0.7" />
<line x1="539" y1="401" x2="540.7" y2="401" stroke="#3a3a3a" stroke-width="0.7" />
<line x1="539.6" y1="395.5" x2="540.7" y2="395.5" stroke="#3a3a3a" stroke-width="0.7" />
<line x1="539" y1="390" x2="540.7" y2="390" stroke="#3a3a3a" stroke-width="0.7" />
<line x1="539.6" y1="384.5" x2="540.7" y2="384.5" stroke="#3a3a3a" stroke-width="0.7" />
<line x1="539" y1="379" x2="540.7" y2="379" stroke="#3a3a3a" stroke-width="0.7" />
<line x1="539.6" y1="373.5" x2="540.7" y2="373.5" stroke="#3a3a3a" stroke-width="0.7" />
<line x1="539" y1="368" x2="540.7" y2="368" stroke="#3a3a3a" stroke-width="0.7" />
<line x1="539.6" y1="362.5" x2="540.7" y2="362.5" stroke="#3a3a3a" stroke-width="0.7" />
<line x1="539" y1="357" x2="540.7" y2="357" stroke="#3a3a3a" stroke-width="0.7" />
<line x1="546.4" y1="425.3" x2="546.4" y2="427" stroke="#3a3a3a" stroke-width="0.7" />
<line x1="558.54" y1="425.3" x2="558.54" y2="426.4" stroke="#3a3a3a" stroke-width="0.7" />
<line x1="570.68" y1="425.3" x2="570.68" y2="427" stroke="#3a3a3a" stroke-width="0.7" />
<line x1="582.82" y1="425.3" x2="582.82" y2="426.4" stroke="#3a3a3a" stroke-width="0.7" />
<line x1="594.96" y1="425.3" x2="594.96" y2="427" stroke="#3a3a3a" stroke-width="0.7" />
<line x1="607.1" y1="425.3" x2="607.1" y2="426.4" stroke="#3a3a3a" stroke-width="0.7" />
<line x1="619.24" y1="425.3" x2="619.24" y2="427" stroke="#3a3a3a" stroke-width="0.7" />
<line x1="631.38" y1="425.3" x2="631.38" y2="426.4" stroke="#3a3a3a" stroke-width="0.7" />
<line x1="643.52" y1="425.3" x2="643.52" y2="427" stroke="#3a3a3a" stroke-width="0.7" />
<text transform="translate(534.1 426)" font-size="7.39" text-anchor="end" fill="#222" font-weight="normal" stroke="#222" stroke-width="0.22">0</text>
<text transform="translate(534.1 415)" font-size="7.39" text-anchor="end" fill="#222" font-weight="normal" stroke="#222" stroke-width="0.22">20</text>
<text transform="translate(534.1 404)" font-size="7.39" text-anchor="end" fill="#222" font-weight="normal" stroke="#222" stroke-width="0.22">40</text>
<text transform="translate(534.1 393)" font-size="7.39" text-anchor="end" fill="#222" font-weight="normal" stroke="#222" stroke-width="0.22">60</text>
<text transform="translate(534.1 382)" font-size="7.39" text-anchor="end" fill="#222" font-weight="normal" stroke="#222" stroke-width="0.22">80</text>
<text transform="translate(534.1 371)" font-size="7.39" text-anchor="end" fill="#222" font-weight="normal" stroke="#222" stroke-width="0.22">100</text>
<text transform="translate(534.1 360)" font-size="7.39" text-anchor="end" fill="#222" font-weight="normal" stroke="#222" stroke-width="0.22">120</text>
<text transform="translate(546.4 437.4)" font-size="7.59" text-anchor="middle" fill="#222" font-weight="normal" stroke="#222" stroke-width="0.22">0</text>
<text transform="translate(570.68 437.4)" font-size="7.59" text-anchor="middle" fill="#222" font-weight="normal" stroke="#222" stroke-width="0.22">4</text>
<text transform="translate(594.96 437.4)" font-size="7.59" text-anchor="middle" fill="#222" font-weight="normal" stroke="#222" stroke-width="0.22">8</text>
<text transform="translate(619.24 437.4)" font-size="7.59" text-anchor="middle" fill="#222" font-weight="normal" stroke="#222" stroke-width="0.22">12</text>
<text transform="translate(643.52 437.4)" font-size="7.59" text-anchor="middle" fill="#222" font-weight="normal" stroke="#222" stroke-width="0.22">16</text>
<text transform="translate(592.8 449.5)" font-size="8.4" text-anchor="middle" fill="#222" font-weight="normal" stroke="#222" stroke-width="0.22">Time (h)</text>
<text transform="translate(591.7 347.8)" font-size="8.74" text-anchor="middle" fill="#222" font-weight="normal" stroke="#222" stroke-width="0.22">10 g l<tspan font-size="4.8" dx="0.5" dy="-3.3">&#8722;1</tspan></text>
<text transform="translate(506.1 391) rotate(-90)" font-size="8.85" text-anchor="middle" fill="#222" font-weight="normal" stroke="#222" stroke-width="0.22">Relative percentage of</text>
<text transform="translate(515.9 391) rotate(-90)" font-size="8.85" text-anchor="middle" fill="#222" font-weight="normal" stroke="#222" stroke-width="0.22">residual sugar</text>
<polyline points="546.4,368 558.54,375.15 570.68,377.9 582.82,385.6 594.96,403.75 607.1,409.25 619.24,412.55 637.45,413.65" fill="none" stroke="#7aa8d8" stroke-width="0.8" stroke-linejoin="round"/>
<circle cx="546.4" cy="368" r="1.45" fill="#fff" stroke="#7aa8d8" stroke-width="0.65"/>
<circle cx="558.54" cy="375.15" r="1.45" fill="#fff" stroke="#7aa8d8" stroke-width="0.65"/>
<circle cx="570.68" cy="377.9" r="1.45" fill="#fff" stroke="#7aa8d8" stroke-width="0.65"/>
<circle cx="582.82" cy="385.6" r="1.45" fill="#fff" stroke="#7aa8d8" stroke-width="0.65"/>
<circle cx="594.96" cy="403.75" r="1.45" fill="#fff" stroke="#7aa8d8" stroke-width="0.65"/>
<circle cx="607.1" cy="409.25" r="1.45" fill="#fff" stroke="#7aa8d8" stroke-width="0.65"/>
<circle cx="619.24" cy="412.55" r="1.45" fill="#fff" stroke="#7aa8d8" stroke-width="0.65"/>
<circle cx="637.45" cy="413.65" r="1.45" fill="#fff" stroke="#7aa8d8" stroke-width="0.65"/>
<polyline points="546.4,368 558.54,376.25 570.68,376.8 582.82,380.65 594.96,384.5 607.1,399.35 619.24,407.6 637.45,413.65" fill="none" stroke="#d9545a" stroke-width="0.8" stroke-linejoin="round"/>
<line x1="582.82" y1="377.35" x2="582.82" y2="383.95" stroke="#d9545a" stroke-width="0.6" />
<line x1="581.42" y1="377.35" x2="584.22" y2="377.35" stroke="#d9545a" stroke-width="0.6" />
<line x1="581.42" y1="383.95" x2="584.22" y2="383.95" stroke="#d9545a" stroke-width="0.6" />
<line x1="594.96" y1="381.75" x2="594.96" y2="387.25" stroke="#d9545a" stroke-width="0.6" />
<line x1="593.56" y1="381.75" x2="596.36" y2="381.75" stroke="#d9545a" stroke-width="0.6" />
<line x1="593.56" y1="387.25" x2="596.36" y2="387.25" stroke="#d9545a" stroke-width="0.6" />
<line x1="607.1" y1="396.6" x2="607.1" y2="402.1" stroke="#d9545a" stroke-width="0.6" />
<line x1="605.7" y1="396.6" x2="608.5" y2="396.6" stroke="#d9545a" stroke-width="0.6" />
<line x1="605.7" y1="402.1" x2="608.5" y2="402.1" stroke="#d9545a" stroke-width="0.6" />
<line x1="619.24" y1="405.4" x2="619.24" y2="409.8" stroke="#d9545a" stroke-width="0.6" />
<line x1="617.84" y1="405.4" x2="620.64" y2="405.4" stroke="#d9545a" stroke-width="0.6" />
<line x1="617.84" y1="409.8" x2="620.64" y2="409.8" stroke="#d9545a" stroke-width="0.6" />
<circle cx="546.4" cy="368" r="1.45" fill="#fff" stroke="#d9545a" stroke-width="0.65"/>
<circle cx="558.54" cy="376.25" r="1.45" fill="#fff" stroke="#d9545a" stroke-width="0.65"/>
<circle cx="570.68" cy="376.8" r="1.45" fill="#fff" stroke="#d9545a" stroke-width="0.65"/>
<circle cx="582.82" cy="380.65" r="1.45" fill="#fff" stroke="#d9545a" stroke-width="0.65"/>
<circle cx="594.96" cy="384.5" r="1.45" fill="#fff" stroke="#d9545a" stroke-width="0.65"/>
<circle cx="607.1" cy="399.35" r="1.45" fill="#fff" stroke="#d9545a" stroke-width="0.65"/>
<circle cx="619.24" cy="407.6" r="1.45" fill="#fff" stroke="#d9545a" stroke-width="0.65"/>
<circle cx="637.45" cy="413.65" r="1.45" fill="#fff" stroke="#d9545a" stroke-width="0.65"/>
<polyline points="546.4,367.45 558.54,376.25 570.68,377.9 582.82,388.35" fill="none" stroke="#2b2b2b" stroke-width="1.0" stroke-linejoin="round"/>
<polyline points="582.82,388.35 594.96,404.85 607.1,409.8 619.24,412.55 637.45,414.2" fill="none" stroke="#2b2b2b" stroke-width="0.85" stroke-dasharray="1.8,0.7" stroke-linejoin="round"/>
<line x1="582.82" y1="386.15" x2="582.82" y2="390.55" stroke="#2b2b2b" stroke-width="0.6" />
<line x1="581.42" y1="386.15" x2="584.22" y2="386.15" stroke="#2b2b2b" stroke-width="0.6" />
<line x1="581.42" y1="390.55" x2="584.22" y2="390.55" stroke="#2b2b2b" stroke-width="0.6" />
<circle cx="546.4" cy="367.45" r="1.45" fill="#fff" stroke="#2b2b2b" stroke-width="0.65"/>
<circle cx="558.54" cy="376.25" r="1.45" fill="#fff" stroke="#2b2b2b" stroke-width="0.65"/>
<circle cx="570.68" cy="377.9" r="1.45" fill="#fff" stroke="#2b2b2b" stroke-width="0.65"/>
<circle cx="582.82" cy="388.35" r="1.45" fill="#fff" stroke="#2b2b2b" stroke-width="0.65"/>
<circle cx="594.96" cy="404.85" r="1.45" fill="#fff" stroke="#2b2b2b" stroke-width="0.65"/>
<circle cx="607.1" cy="409.8" r="1.45" fill="#fff" stroke="#2b2b2b" stroke-width="0.65"/>
<circle cx="619.24" cy="412.55" r="1.45" fill="#fff" stroke="#2b2b2b" stroke-width="0.65"/>
<circle cx="637.45" cy="414.2" r="1.45" fill="#fff" stroke="#2b2b2b" stroke-width="0.65"/>
<line x1="647.8" y1="385.6" x2="652.4" y2="385.6" stroke="#2b2b2b" stroke-width="0.8" />
<circle cx="650.1" cy="385.6" r="1.5" fill="#fff" stroke="#2b2b2b" stroke-width="0.65"/>
<text transform="translate(656 388)" font-size="7.28" text-anchor="start" fill="#222" font-weight="normal" stroke="#222" stroke-width="0.22">WT</text>
<line x1="647.8" y1="395.6" x2="652.4" y2="395.6" stroke="#d9545a" stroke-width="0.8" />
<circle cx="650.1" cy="395.6" r="1.5" fill="#fff" stroke="#d9545a" stroke-width="0.65"/>
<text transform="translate(656 398)" font-size="7.28" text-anchor="start" fill="#222" font-weight="normal" stroke="#222" stroke-width="0.22">&#916;<tspan font-style="italic">manY</tspan></text>
<line x1="647.8" y1="405.5" x2="652.4" y2="405.5" stroke="#7aa8d8" stroke-width="0.8" />
<circle cx="650.1" cy="405.5" r="1.5" fill="#fff" stroke="#7aa8d8" stroke-width="0.65"/>
<text transform="translate(656 407.9)" font-size="7.28" text-anchor="start" fill="#222" font-weight="normal" stroke="#222" stroke-width="0.22">C&#916;<tspan font-style="italic">manY</tspan></text>
<text transform="translate(1 347) scale(1.06 1)" font-size="12.6" text-anchor="start" fill="#000" font-weight="bold">f</text>
<line x1="53.5" y1="582.8" x2="53.5" y2="509.2" stroke="#707070" stroke-width="0.9" />
<line x1="53.6" y1="583.3" x2="165" y2="583.3" stroke="#a0a0a0" stroke-width="1.3" />
<line x1="51.8" y1="579.2" x2="53.6" y2="579.2" stroke="#3a3a3a" stroke-width="0.7" />
<line x1="52.4" y1="567.58" x2="53.6" y2="567.58" stroke="#3a3a3a" stroke-width="0.7" />
<line x1="51.8" y1="555.97" x2="53.6" y2="555.97" stroke="#3a3a3a" stroke-width="0.7" />
<line x1="52.4" y1="544.35" x2="53.6" y2="544.35" stroke="#3a3a3a" stroke-width="0.7" />
<line x1="51.8" y1="532.73" x2="53.6" y2="532.73" stroke="#3a3a3a" stroke-width="0.7" />
<line x1="52.4" y1="521.12" x2="53.6" y2="521.12" stroke="#3a3a3a" stroke-width="0.7" />
<line x1="51.8" y1="509.5" x2="53.6" y2="509.5" stroke="#3a3a3a" stroke-width="0.7" />
<line x1="53.6" y1="582.8" x2="53.6" y2="584.5" stroke="#3a3a3a" stroke-width="0.7" />
<line x1="70.65" y1="582.8" x2="70.65" y2="584.5" stroke="#3a3a3a" stroke-width="0.7" />
<line x1="87.7" y1="582.8" x2="87.7" y2="584.5" stroke="#3a3a3a" stroke-width="0.7" />
<line x1="104.75" y1="582.8" x2="104.75" y2="584.5" stroke="#3a3a3a" stroke-width="0.7" />
<line x1="121.8" y1="582.8" x2="121.8" y2="584.5" stroke="#3a3a3a" stroke-width="0.7" />
<line x1="138.85" y1="582.8" x2="138.85" y2="584.5" stroke="#3a3a3a" stroke-width="0.7" />
<line x1="155.9" y1="582.8" x2="155.9" y2="584.5" stroke="#3a3a3a" stroke-width="0.7" />
<text transform="translate(47 581.7)" font-size="7.59" text-anchor="end" fill="#222" font-weight="normal" stroke="#222" stroke-width="0.22">0</text>
<text transform="translate(47 558.47)" font-size="7.59" text-anchor="end" fill="#222" font-weight="normal" stroke="#222" stroke-width="0.22">0.05</text>
<text transform="translate(47 535.23)" font-size="7.59" text-anchor="end" fill="#222" font-weight="normal" stroke="#222" stroke-width="0.22">0.10</text>
<text transform="translate(47 512)" font-size="7.59" text-anchor="end" fill="#222" font-weight="normal" stroke="#222" stroke-width="0.22">0.15</text>
<text transform="translate(53.6 595.4)" font-size="7.59" text-anchor="middle" fill="#222" font-weight="normal" stroke="#222" stroke-width="0.22">0</text>
<text transform="translate(70.65 595.4)" font-size="7.59" text-anchor="middle" fill="#222" font-weight="normal" stroke="#222" stroke-width="0.22">2</text>
<text transform="translate(87.7 595.4)" font-size="7.59" text-anchor="middle" fill="#222" font-weight="normal" stroke="#222" stroke-width="0.22">4</text>
<text transform="translate(104.75 595.4)" font-size="7.59" text-anchor="middle" fill="#222" font-weight="normal" stroke="#222" stroke-width="0.22">6</text>
<text transform="translate(121.8 595.4)" font-size="7.59" text-anchor="middle" fill="#222" font-weight="normal" stroke="#222" stroke-width="0.22">8</text>
<text transform="translate(138.85 595.4)" font-size="7.59" text-anchor="middle" fill="#222" font-weight="normal" stroke="#222" stroke-width="0.22">10</text>
<text transform="translate(155.9 595.4)" font-size="7.59" text-anchor="middle" fill="#222" font-weight="normal" stroke="#222" stroke-width="0.22">12</text>
<text transform="translate(109.5 608.3)" font-size="8.4" text-anchor="middle" fill="#222" font-weight="normal" stroke="#222" stroke-width="0.22">Time (h)</text>
<text transform="translate(109.5 500.3)" font-size="8.51" text-anchor="middle" fill="#222" font-weight="normal" stroke="#222" stroke-width="0.22">Swine CSF</text>
<text transform="translate(27.8 546.4) rotate(-90)" font-size="9.86" text-anchor="middle" fill="#222" font-weight="normal" stroke="#222" stroke-width="0.22">OD<tspan font-size="5.8" dy="2.2">600</tspan></text>
<line x1="70.65" y1="555.5" x2="70.65" y2="562.94" stroke="#6fa3d8" stroke-width="0.6" />
<line x1="69.15" y1="555.5" x2="72.15" y2="555.5" stroke="#6fa3d8" stroke-width="0.6" />
<line x1="69.15" y1="562.94" x2="72.15" y2="562.94" stroke="#6fa3d8" stroke-width="0.6" />
<line x1="79.18" y1="530.41" x2="79.18" y2="539.7" stroke="#6fa3d8" stroke-width="0.6" />
<line x1="77.68" y1="530.41" x2="80.68" y2="530.41" stroke="#6fa3d8" stroke-width="0.6" />
<line x1="77.68" y1="539.7" x2="80.68" y2="539.7" stroke="#6fa3d8" stroke-width="0.6" />
<line x1="87.7" y1="522.05" x2="87.7" y2="531.34" stroke="#6fa3d8" stroke-width="0.6" />
<line x1="86.2" y1="522.05" x2="89.2" y2="522.05" stroke="#6fa3d8" stroke-width="0.6" />
<line x1="86.2" y1="531.34" x2="89.2" y2="531.34" stroke="#6fa3d8" stroke-width="0.6" />
<line x1="121.8" y1="526.23" x2="121.8" y2="533.66" stroke="#6fa3d8" stroke-width="0.6" />
<line x1="120.3" y1="526.23" x2="123.3" y2="526.23" stroke="#6fa3d8" stroke-width="0.6" />
<line x1="120.3" y1="533.66" x2="123.3" y2="533.66" stroke="#6fa3d8" stroke-width="0.6" />
<line x1="138.85" y1="526.23" x2="138.85" y2="534.59" stroke="#6fa3d8" stroke-width="0.6" />
<line x1="137.35" y1="526.23" x2="140.35" y2="526.23" stroke="#6fa3d8" stroke-width="0.6" />
<line x1="137.35" y1="534.59" x2="140.35" y2="534.59" stroke="#6fa3d8" stroke-width="0.6" />
<polyline points="53.6,579.2 70.65,559.22 79.18,535.06 87.7,526.69 104.75,524.83 121.8,529.95 138.85,530.41 155.9,526.69" fill="none" stroke="#6fa3d8" stroke-width="0.9" stroke-linejoin="round"/>
<circle cx="53.6" cy="579.2" r="1.8" fill="#6fa3d8" stroke="none" stroke-width="0.6"/>
<circle cx="70.65" cy="559.22" r="1.8" fill="#6fa3d8" stroke="none" stroke-width="0.6"/>
<circle cx="79.18" cy="535.06" r="1.8" fill="#6fa3d8" stroke="none" stroke-width="0.6"/>
<circle cx="87.7" cy="526.69" r="1.8" fill="#6fa3d8" stroke="none" stroke-width="0.6"/>
<circle cx="104.75" cy="524.83" r="1.8" fill="#6fa3d8" stroke="none" stroke-width="0.6"/>
<circle cx="121.8" cy="529.95" r="1.8" fill="#6fa3d8" stroke="none" stroke-width="0.6"/>
<circle cx="138.85" cy="530.41" r="1.8" fill="#6fa3d8" stroke="none" stroke-width="0.6"/>
<circle cx="155.9" cy="526.69" r="1.8" fill="#6fa3d8" stroke="none" stroke-width="0.6"/>
<line x1="87.7" y1="565.26" x2="87.7" y2="568.98" stroke="#dc4b50" stroke-width="0.6" />
<line x1="86.2" y1="565.26" x2="89.2" y2="565.26" stroke="#dc4b50" stroke-width="0.6" />
<line x1="86.2" y1="568.98" x2="89.2" y2="568.98" stroke="#dc4b50" stroke-width="0.6" />
<line x1="121.8" y1="543.89" x2="121.8" y2="552.25" stroke="#dc4b50" stroke-width="0.6" />
<line x1="120.3" y1="543.89" x2="123.3" y2="543.89" stroke="#dc4b50" stroke-width="0.6" />
<line x1="120.3" y1="552.25" x2="123.3" y2="552.25" stroke="#dc4b50" stroke-width="0.6" />
<line x1="138.85" y1="545.28" x2="138.85" y2="554.57" stroke="#dc4b50" stroke-width="0.6" />
<line x1="137.35" y1="545.28" x2="140.35" y2="545.28" stroke="#dc4b50" stroke-width="0.6" />
<line x1="137.35" y1="554.57" x2="140.35" y2="554.57" stroke="#dc4b50" stroke-width="0.6" />
<line x1="155.9" y1="540.63" x2="155.9" y2="544.35" stroke="#dc4b50" stroke-width="0.6" />
<line x1="154.4" y1="540.63" x2="157.4" y2="540.63" stroke="#dc4b50" stroke-width="0.6" />
<line x1="154.4" y1="544.35" x2="157.4" y2="544.35" stroke="#dc4b50" stroke-width="0.6" />
<polyline points="53.6,579.2 70.65,577.34 79.18,573.62 87.7,567.12 104.75,564.8 121.8,548.07 138.85,549.93 155.9,542.49" fill="none" stroke="#dc4b50" stroke-width="0.9" stroke-linejoin="round"/>
<circle cx="53.6" cy="579.2" r="1.8" fill="#dc4b50" stroke="none" stroke-width="0.6"/>
<circle cx="70.65" cy="577.34" r="1.8" fill="#dc4b50" stroke="none" stroke-width="0.6"/>
<circle cx="79.18" cy="573.62" r="1.8" fill="#dc4b50" stroke="none" stroke-width="0.6"/>
<circle cx="87.7" cy="567.12" r="1.8" fill="#dc4b50" stroke="none" stroke-width="0.6"/>
<circle cx="104.75" cy="564.8" r="1.8" fill="#dc4b50" stroke="none" stroke-width="0.6"/>
<circle cx="121.8" cy="548.07" r="1.8" fill="#dc4b50" stroke="none" stroke-width="0.6"/>
<circle cx="138.85" cy="549.93" r="1.8" fill="#dc4b50" stroke="none" stroke-width="0.6"/>
<circle cx="155.9" cy="542.49" r="1.8" fill="#dc4b50" stroke="none" stroke-width="0.6"/>
<line x1="87.7" y1="516.01" x2="87.7" y2="527.16" stroke="#1a1a1a" stroke-width="0.6" />
<line x1="86.2" y1="516.01" x2="89.2" y2="516.01" stroke="#1a1a1a" stroke-width="0.6" />
<line x1="86.2" y1="527.16" x2="89.2" y2="527.16" stroke="#1a1a1a" stroke-width="0.6" />
<line x1="104.75" y1="516.01" x2="104.75" y2="529.95" stroke="#1a1a1a" stroke-width="0.6" />
<line x1="103.25" y1="516.01" x2="106.25" y2="516.01" stroke="#1a1a1a" stroke-width="0.6" />
<line x1="103.25" y1="529.95" x2="106.25" y2="529.95" stroke="#1a1a1a" stroke-width="0.6" />
<line x1="121.8" y1="525.76" x2="121.8" y2="534.13" stroke="#1a1a1a" stroke-width="0.6" />
<line x1="120.3" y1="525.76" x2="123.3" y2="525.76" stroke="#1a1a1a" stroke-width="0.6" />
<line x1="120.3" y1="534.13" x2="123.3" y2="534.13" stroke="#1a1a1a" stroke-width="0.6" />
<line x1="138.85" y1="525.76" x2="138.85" y2="533.2" stroke="#1a1a1a" stroke-width="0.6" />
<line x1="137.35" y1="525.76" x2="140.35" y2="525.76" stroke="#1a1a1a" stroke-width="0.6" />
<line x1="137.35" y1="533.2" x2="140.35" y2="533.2" stroke="#1a1a1a" stroke-width="0.6" />
<line x1="155.9" y1="523.44" x2="155.9" y2="529.95" stroke="#1a1a1a" stroke-width="0.6" />
<line x1="154.4" y1="523.44" x2="157.4" y2="523.44" stroke="#1a1a1a" stroke-width="0.6" />
<line x1="154.4" y1="529.95" x2="157.4" y2="529.95" stroke="#1a1a1a" stroke-width="0.6" />
<polyline points="53.6,579.2 70.65,564.8 79.18,544.35 87.7,521.58 104.75,522.98 121.8,529.95 138.85,529.48 155.9,526.69" fill="none" stroke="#1a1a1a" stroke-width="0.9" stroke-linejoin="round"/>
<circle cx="53.6" cy="579.2" r="1.8" fill="#1a1a1a" stroke="none" stroke-width="0.6"/>
<circle cx="70.65" cy="564.8" r="1.8" fill="#1a1a1a" stroke="none" stroke-width="0.6"/>
<circle cx="79.18" cy="544.35" r="1.8" fill="#1a1a1a" stroke="none" stroke-width="0.6"/>
<circle cx="87.7" cy="521.58" r="1.8" fill="#1a1a1a" stroke="none" stroke-width="0.6"/>
<circle cx="104.75" cy="522.98" r="1.8" fill="#1a1a1a" stroke="none" stroke-width="0.6"/>
<circle cx="121.8" cy="529.95" r="1.8" fill="#1a1a1a" stroke="none" stroke-width="0.6"/>
<circle cx="138.85" cy="529.48" r="1.8" fill="#1a1a1a" stroke="none" stroke-width="0.6"/>
<circle cx="155.9" cy="526.69" r="1.8" fill="#1a1a1a" stroke="none" stroke-width="0.6"/>
<line x1="115.6" y1="561.6" x2="120.8" y2="561.6" stroke="#1a1a1a" stroke-width="0.8" />
<circle cx="118.2" cy="561.6" r="1.4" fill="#1a1a1a" stroke="none" stroke-width="0.6"/>
<text transform="translate(124 563.9)" font-size="7.17" text-anchor="start" fill="#222" font-weight="normal" stroke="#222" stroke-width="0.12">WT</text>
<line x1="115.6" y1="569.7" x2="120.8" y2="569.7" stroke="#dc4b50" stroke-width="0.8" />
<circle cx="118.2" cy="569.7" r="1.4" fill="#dc4b50" stroke="none" stroke-width="0.6"/>
<text transform="translate(124 572)" font-size="7.17" text-anchor="start" fill="#222" font-weight="normal" stroke="#222" stroke-width="0.12">&#916;<tspan font-style="italic">manY</tspan></text>
<line x1="115.6" y1="578.2" x2="120.8" y2="578.2" stroke="#6fa3d8" stroke-width="0.8" />
<circle cx="118.2" cy="578.2" r="1.4" fill="#6fa3d8" stroke="none" stroke-width="0.6"/>
<text transform="translate(124 580.5)" font-size="7.17" text-anchor="start" fill="#222" font-weight="normal" stroke="#222" stroke-width="0.12">C&#916;<tspan font-style="italic">manY</tspan></text>
<line x1="194.7" y1="558.8" x2="194.7" y2="568.5" stroke="#888" stroke-width="0.6" />
<text transform="translate(196.6 558.4) rotate(90)" font-size="6.2" text-anchor="start" fill="#444" font-weight="normal" stroke="#444" stroke-width="0.12">&lt;0.0001</text>
<line x1="204.4" y1="558.8" x2="204.4" y2="577.4" stroke="#888" stroke-width="0.6" />
<text transform="translate(205.9 558.4) rotate(90)" font-size="6.2" text-anchor="start" fill="#444" font-weight="normal" stroke="#444" stroke-width="0.12">0.5675</text>
<text transform="translate(0.2 472.5) scale(1.06 1)" font-size="12.6" text-anchor="start" fill="#000" font-weight="bold">g</text>
<line x1="271.5" y1="584.1" x2="271.5" y2="505.4" stroke="#707070" stroke-width="0.9" />
<line x1="271.2" y1="584.5" x2="386.7" y2="584.5" stroke="#a8a8a8" stroke-width="1.3" />
<line x1="269.4" y1="584.1" x2="271.2" y2="584.1" stroke="#3a3a3a" stroke-width="0.7" />
<line x1="270.1" y1="576.95" x2="271.2" y2="576.95" stroke="#3a3a3a" stroke-width="0.7" />
<line x1="269.4" y1="569.8" x2="271.2" y2="569.8" stroke="#3a3a3a" stroke-width="0.7" />
<line x1="270.1" y1="562.65" x2="271.2" y2="562.65" stroke="#3a3a3a" stroke-width="0.7" />
<line x1="269.4" y1="555.5" x2="271.2" y2="555.5" stroke="#3a3a3a" stroke-width="0.7" />
<line x1="270.1" y1="548.35" x2="271.2" y2="548.35" stroke="#3a3a3a" stroke-width="0.7" />
<line x1="269.4" y1="541.2" x2="271.2" y2="541.2" stroke="#3a3a3a" stroke-width="0.7" />
<line x1="270.1" y1="534.05" x2="271.2" y2="534.05" stroke="#3a3a3a" stroke-width="0.7" />
<line x1="269.4" y1="526.9" x2="271.2" y2="526.9" stroke="#3a3a3a" stroke-width="0.7" />
<line x1="270.1" y1="519.75" x2="271.2" y2="519.75" stroke="#3a3a3a" stroke-width="0.7" />
<line x1="269.4" y1="512.6" x2="271.2" y2="512.6" stroke="#3a3a3a" stroke-width="0.7" />
<line x1="270.1" y1="505.45" x2="271.2" y2="505.45" stroke="#3a3a3a" stroke-width="0.7" />
<line x1="271.2" y1="584.1" x2="271.2" y2="585.8" stroke="#3a3a3a" stroke-width="0.7" />
<line x1="289.7" y1="584.1" x2="289.7" y2="585.8" stroke="#3a3a3a" stroke-width="0.7" />
<line x1="308.2" y1="584.1" x2="308.2" y2="585.8" stroke="#3a3a3a" stroke-width="0.7" />
<line x1="326.7" y1="584.1" x2="326.7" y2="585.8" stroke="#3a3a3a" stroke-width="0.7" />
<line x1="345.2" y1="584.1" x2="345.2" y2="585.8" stroke="#3a3a3a" stroke-width="0.7" />
<line x1="363.7" y1="584.1" x2="363.7" y2="585.8" stroke="#3a3a3a" stroke-width="0.7" />
<line x1="382.2" y1="584.1" x2="382.2" y2="585.8" stroke="#3a3a3a" stroke-width="0.7" />
<text transform="translate(265.2 586.6)" font-size="7.59" text-anchor="end" fill="#222" font-weight="normal" stroke="#222" stroke-width="0.22">0</text>
<text transform="translate(265.2 572.3)" font-size="7.59" text-anchor="end" fill="#222" font-weight="normal" stroke="#222" stroke-width="0.22">20</text>
<text transform="translate(265.2 558)" font-size="7.59" text-anchor="end" fill="#222" font-weight="normal" stroke="#222" stroke-width="0.22">40</text>
<text transform="translate(265.2 543.7)" font-size="7.59" text-anchor="end" fill="#222" font-weight="normal" stroke="#222" stroke-width="0.22">60</text>
<text transform="translate(265.2 529.4)" font-size="7.59" text-anchor="end" fill="#222" font-weight="normal" stroke="#222" stroke-width="0.22">80</text>
<text transform="translate(265.2 515.1)" font-size="7.59" text-anchor="end" fill="#222" font-weight="normal" stroke="#222" stroke-width="0.22">100</text>
<text transform="translate(271.2 595.4)" font-size="7.59" text-anchor="middle" fill="#222" font-weight="normal" stroke="#222" stroke-width="0.22">0</text>
<text transform="translate(289.7 595.4)" font-size="7.59" text-anchor="middle" fill="#222" font-weight="normal" stroke="#222" stroke-width="0.22">2</text>
<text transform="translate(308.2 595.4)" font-size="7.59" text-anchor="middle" fill="#222" font-weight="normal" stroke="#222" stroke-width="0.22">4</text>
<text transform="translate(326.7 595.4)" font-size="7.59" text-anchor="middle" fill="#222" font-weight="normal" stroke="#222" stroke-width="0.22">6</text>
<text transform="translate(345.2 595.4)" font-size="7.59" text-anchor="middle" fill="#222" font-weight="normal" stroke="#222" stroke-width="0.22">8</text>
<text transform="translate(363.7 595.4)" font-size="7.59" text-anchor="middle" fill="#222" font-weight="normal" stroke="#222" stroke-width="0.22">10</text>
<text transform="translate(382.2 595.4)" font-size="7.59" text-anchor="middle" fill="#222" font-weight="normal" stroke="#222" stroke-width="0.22">12</text>
<text transform="translate(327.2 608.2)" font-size="8.4" text-anchor="middle" fill="#222" font-weight="normal" stroke="#222" stroke-width="0.22">Time (h)</text>
<text transform="translate(326.5 499.8)" font-size="8.51" text-anchor="middle" fill="#222" font-weight="normal" stroke="#222" stroke-width="0.22">Swine CSF</text>
<text transform="translate(236 544.5) rotate(-90)" font-size="8.74" text-anchor="middle" fill="#222" font-weight="normal" stroke="#222" stroke-width="0.22">Relative amount</text>
<text transform="translate(246.7 544.5) rotate(-90)" font-size="8.74" text-anchor="middle" fill="#222" font-weight="normal" stroke="#222" stroke-width="0.22">of residual sugar (%)</text>
<line x1="271.2" y1="510.46" x2="271.2" y2="514.75" stroke="#7aa8d8" stroke-width="0.6" />
<line x1="269.6" y1="510.46" x2="272.8" y2="510.46" stroke="#7aa8d8" stroke-width="0.6" />
<line x1="269.6" y1="514.75" x2="272.8" y2="514.75" stroke="#7aa8d8" stroke-width="0.6" />
<line x1="289.7" y1="523.33" x2="289.7" y2="537.62" stroke="#7aa8d8" stroke-width="0.6" />
<line x1="288.1" y1="523.33" x2="291.3" y2="523.33" stroke="#7aa8d8" stroke-width="0.6" />
<line x1="288.1" y1="537.62" x2="291.3" y2="537.62" stroke="#7aa8d8" stroke-width="0.6" />
<line x1="298.95" y1="536.2" x2="298.95" y2="543.35" stroke="#7aa8d8" stroke-width="0.6" />
<line x1="297.35" y1="536.2" x2="300.55" y2="536.2" stroke="#7aa8d8" stroke-width="0.6" />
<line x1="297.35" y1="543.35" x2="300.55" y2="543.35" stroke="#7aa8d8" stroke-width="0.6" />
<line x1="326.7" y1="574.81" x2="326.7" y2="580.52" stroke="#7aa8d8" stroke-width="0.6" />
<line x1="325.1" y1="574.81" x2="328.3" y2="574.81" stroke="#7aa8d8" stroke-width="0.6" />
<line x1="325.1" y1="580.52" x2="328.3" y2="580.52" stroke="#7aa8d8" stroke-width="0.6" />
<polyline points="271.2,512.6 280.45,518.32 289.7,530.48 298.95,539.77 308.2,556.93 317.45,569.8 326.7,577.67 345.2,580.52 363.7,581.96 382.2,582.67" fill="none" stroke="#7aa8d8" stroke-width="0.8" stroke-linejoin="round"/>
<circle cx="271.2" cy="512.6" r="1.6" fill="#fff" stroke="#7aa8d8" stroke-width="0.65"/>
<circle cx="280.45" cy="518.32" r="1.6" fill="#fff" stroke="#7aa8d8" stroke-width="0.65"/>
<circle cx="289.7" cy="530.48" r="1.6" fill="#fff" stroke="#7aa8d8" stroke-width="0.65"/>
<circle cx="298.95" cy="539.77" r="1.6" fill="#fff" stroke="#7aa8d8" stroke-width="0.65"/>
<circle cx="308.2" cy="556.93" r="1.6" fill="#fff" stroke="#7aa8d8" stroke-width="0.65"/>
<circle cx="317.45" cy="569.8" r="1.6" fill="#fff" stroke="#7aa8d8" stroke-width="0.65"/>
<circle cx="326.7" cy="577.67" r="1.6" fill="#fff" stroke="#7aa8d8" stroke-width="0.65"/>
<circle cx="345.2" cy="580.52" r="1.6" fill="#fff" stroke="#7aa8d8" stroke-width="0.65"/>
<circle cx="363.7" cy="581.96" r="1.6" fill="#fff" stroke="#7aa8d8" stroke-width="0.65"/>
<circle cx="382.2" cy="582.67" r="1.6" fill="#fff" stroke="#7aa8d8" stroke-width="0.65"/>
<line x1="271.2" y1="509.74" x2="271.2" y2="515.46" stroke="#d9545a" stroke-width="0.6" />
<line x1="269.6" y1="509.74" x2="272.8" y2="509.74" stroke="#d9545a" stroke-width="0.6" />
<line x1="269.6" y1="515.46" x2="272.8" y2="515.46" stroke="#d9545a" stroke-width="0.6" />
<line x1="280.45" y1="508.31" x2="280.45" y2="516.89" stroke="#d9545a" stroke-width="0.6" />
<line x1="278.85" y1="508.31" x2="282.05" y2="508.31" stroke="#d9545a" stroke-width="0.6" />
<line x1="278.85" y1="516.89" x2="282.05" y2="516.89" stroke="#d9545a" stroke-width="0.6" />
<line x1="298.95" y1="509.74" x2="298.95" y2="518.32" stroke="#d9545a" stroke-width="0.6" />
<line x1="297.35" y1="509.74" x2="300.55" y2="509.74" stroke="#d9545a" stroke-width="0.6" />
<line x1="297.35" y1="518.32" x2="300.55" y2="518.32" stroke="#d9545a" stroke-width="0.6" />
<line x1="317.45" y1="508.31" x2="317.45" y2="521.18" stroke="#d9545a" stroke-width="0.6" />
<line x1="315.85" y1="508.31" x2="319.05" y2="508.31" stroke="#d9545a" stroke-width="0.6" />
<line x1="315.85" y1="521.18" x2="319.05" y2="521.18" stroke="#d9545a" stroke-width="0.6" />
<line x1="326.7" y1="516.89" x2="326.7" y2="524.04" stroke="#d9545a" stroke-width="0.6" />
<line x1="325.1" y1="516.89" x2="328.3" y2="516.89" stroke="#d9545a" stroke-width="0.6" />
<line x1="325.1" y1="524.04" x2="328.3" y2="524.04" stroke="#d9545a" stroke-width="0.6" />
<line x1="345.2" y1="515.46" x2="345.2" y2="528.33" stroke="#d9545a" stroke-width="0.6" />
<line x1="343.6" y1="515.46" x2="346.8" y2="515.46" stroke="#d9545a" stroke-width="0.6" />
<line x1="343.6" y1="528.33" x2="346.8" y2="528.33" stroke="#d9545a" stroke-width="0.6" />
<line x1="363.7" y1="510.46" x2="363.7" y2="534.76" stroke="#d9545a" stroke-width="0.6" />
<line x1="362.1" y1="510.46" x2="365.3" y2="510.46" stroke="#d9545a" stroke-width="0.6" />
<line x1="362.1" y1="534.76" x2="365.3" y2="534.76" stroke="#d9545a" stroke-width="0.6" />
<polyline points="271.2,512.6 280.45,512.6 289.7,513.32 298.95,514.03 308.2,511.88 317.45,514.75 326.7,520.47 345.2,521.89 363.7,522.61 382.2,530.48" fill="none" stroke="#d9545a" stroke-width="0.8" stroke-dasharray="1.8,0.8" stroke-linejoin="round"/>
<circle cx="271.2" cy="512.6" r="1.6" fill="#fff" stroke="#d9545a" stroke-width="0.65"/>
<circle cx="280.45" cy="512.6" r="1.6" fill="#fff" stroke="#d9545a" stroke-width="0.65"/>
<circle cx="289.7" cy="513.32" r="1.6" fill="#fff" stroke="#d9545a" stroke-width="0.65"/>
<circle cx="298.95" cy="514.03" r="1.6" fill="#fff" stroke="#d9545a" stroke-width="0.65"/>
<circle cx="308.2" cy="511.88" r="1.6" fill="#fff" stroke="#d9545a" stroke-width="0.65"/>
<circle cx="317.45" cy="514.75" r="1.6" fill="#fff" stroke="#d9545a" stroke-width="0.65"/>
<circle cx="326.7" cy="520.47" r="1.6" fill="#fff" stroke="#d9545a" stroke-width="0.65"/>
<circle cx="345.2" cy="521.89" r="1.6" fill="#fff" stroke="#d9545a" stroke-width="0.65"/>
<circle cx="363.7" cy="522.61" r="1.6" fill="#fff" stroke="#d9545a" stroke-width="0.65"/>
<circle cx="382.2" cy="530.48" r="1.6" fill="#fff" stroke="#d9545a" stroke-width="0.65"/>
<line x1="271.2" y1="510.46" x2="271.2" y2="514.75" stroke="#2b2b2b" stroke-width="0.6" />
<line x1="269.6" y1="510.46" x2="272.8" y2="510.46" stroke="#2b2b2b" stroke-width="0.6" />
<line x1="269.6" y1="514.75" x2="272.8" y2="514.75" stroke="#2b2b2b" stroke-width="0.6" />
<line x1="280.45" y1="514.03" x2="280.45" y2="528.33" stroke="#2b2b2b" stroke-width="0.6" />
<line x1="278.85" y1="514.03" x2="282.05" y2="514.03" stroke="#2b2b2b" stroke-width="0.6" />
<line x1="278.85" y1="528.33" x2="282.05" y2="528.33" stroke="#2b2b2b" stroke-width="0.6" />
<line x1="289.7" y1="529.05" x2="289.7" y2="536.2" stroke="#2b2b2b" stroke-width="0.6" />
<line x1="288.1" y1="529.05" x2="291.3" y2="529.05" stroke="#2b2b2b" stroke-width="0.6" />
<line x1="288.1" y1="536.2" x2="291.3" y2="536.2" stroke="#2b2b2b" stroke-width="0.6" />
<line x1="298.95" y1="537.62" x2="298.95" y2="544.77" stroke="#2b2b2b" stroke-width="0.6" />
<line x1="297.35" y1="537.62" x2="300.55" y2="537.62" stroke="#2b2b2b" stroke-width="0.6" />
<line x1="297.35" y1="544.77" x2="300.55" y2="544.77" stroke="#2b2b2b" stroke-width="0.6" />
<line x1="317.45" y1="566.23" x2="317.45" y2="570.51" stroke="#2b2b2b" stroke-width="0.6" />
<line x1="315.85" y1="566.23" x2="319.05" y2="566.23" stroke="#2b2b2b" stroke-width="0.6" />
<line x1="315.85" y1="570.51" x2="319.05" y2="570.51" stroke="#2b2b2b" stroke-width="0.6" />
<line x1="326.7" y1="567.65" x2="326.7" y2="579.1" stroke="#2b2b2b" stroke-width="0.6" />
<line x1="325.1" y1="567.65" x2="328.3" y2="567.65" stroke="#2b2b2b" stroke-width="0.6" />
<line x1="325.1" y1="579.1" x2="328.3" y2="579.1" stroke="#2b2b2b" stroke-width="0.6" />
<polyline points="271.2,512.6 280.45,521.18 289.7,532.62 298.95,541.2 308.2,556.93 317.45,568.37 326.7,573.38 345.2,580.52 363.7,581.96 382.2,582.67" fill="none" stroke="#2b2b2b" stroke-width="0.8" stroke-dasharray="1.8,0.8" stroke-linejoin="round"/>
<circle cx="271.2" cy="512.6" r="1.6" fill="#fff" stroke="#2b2b2b" stroke-width="0.65"/>
<circle cx="280.45" cy="521.18" r="1.6" fill="#fff" stroke="#2b2b2b" stroke-width="0.65"/>
<circle cx="289.7" cy="532.62" r="1.6" fill="#fff" stroke="#2b2b2b" stroke-width="0.65"/>
<circle cx="298.95" cy="541.2" r="1.6" fill="#fff" stroke="#2b2b2b" stroke-width="0.65"/>
<circle cx="308.2" cy="556.93" r="1.6" fill="#fff" stroke="#2b2b2b" stroke-width="0.65"/>
<circle cx="317.45" cy="568.37" r="1.6" fill="#fff" stroke="#2b2b2b" stroke-width="0.65"/>
<circle cx="326.7" cy="573.38" r="1.6" fill="#fff" stroke="#2b2b2b" stroke-width="0.65"/>
<circle cx="345.2" cy="580.52" r="1.6" fill="#fff" stroke="#2b2b2b" stroke-width="0.65"/>
<circle cx="363.7" cy="581.96" r="1.6" fill="#fff" stroke="#2b2b2b" stroke-width="0.65"/>
<circle cx="382.2" cy="582.67" r="1.6" fill="#fff" stroke="#2b2b2b" stroke-width="0.65"/>
<circle cx="387.6" cy="554.6" r="1.5" fill="#fff" stroke="#2b2b2b" stroke-width="0.65"/>
<text transform="translate(394.6 557)" font-size="7.28" text-anchor="start" fill="#222" font-weight="normal" stroke="#222" stroke-width="0.22">WT</text>
<circle cx="387.6" cy="566.2" r="1.5" fill="#fff" stroke="#d9545a" stroke-width="0.65"/>
<text transform="translate(394.6 568.6)" font-size="7.28" text-anchor="start" fill="#222" font-weight="normal" stroke="#222" stroke-width="0.22">&#916;<tspan font-style="italic">manY</tspan></text>
<circle cx="387.6" cy="578" r="1.5" fill="#fff" stroke="#7aa8d8" stroke-width="0.65"/>
<text transform="translate(394.6 580.4)" font-size="7.28" text-anchor="start" fill="#222" font-weight="normal" stroke="#222" stroke-width="0.22">C&#916;<tspan font-style="italic">manY</tspan></text>
<line x1="511.5" y1="586.3" x2="511.5" y2="485" stroke="#3a3a3a" stroke-width="0.8" />
<line x1="511.2" y1="586.5" x2="583.2" y2="586.5" stroke="#3a3a3a" stroke-width="0.8" />
<line x1="509.4" y1="586.3" x2="511.2" y2="586.3" stroke="#3a3a3a" stroke-width="0.7" />
<line x1="510" y1="573.72" x2="511.2" y2="573.72" stroke="#3a3a3a" stroke-width="0.7" />
<line x1="509.4" y1="561.15" x2="511.2" y2="561.15" stroke="#3a3a3a" stroke-width="0.7" />
<line x1="510" y1="548.57" x2="511.2" y2="548.57" stroke="#3a3a3a" stroke-width="0.7" />
<line x1="509.4" y1="536" x2="511.2" y2="536" stroke="#3a3a3a" stroke-width="0.7" />
<line x1="510" y1="523.42" x2="511.2" y2="523.42" stroke="#3a3a3a" stroke-width="0.7" />
<line x1="509.4" y1="510.85" x2="511.2" y2="510.85" stroke="#3a3a3a" stroke-width="0.7" />
<line x1="510" y1="498.27" x2="511.2" y2="498.27" stroke="#3a3a3a" stroke-width="0.7" />
<line x1="509.4" y1="485.7" x2="511.2" y2="485.7" stroke="#3a3a3a" stroke-width="0.7" />
<text transform="translate(505 588.7)" font-size="7.59" text-anchor="end" fill="#222" font-weight="normal" stroke="#222" stroke-width="0.22">0</text>
<text transform="translate(505 563.55)" font-size="7.59" text-anchor="end" fill="#222" font-weight="normal" stroke="#222" stroke-width="0.22">5</text>
<text transform="translate(505 538.4)" font-size="7.59" text-anchor="end" fill="#222" font-weight="normal" stroke="#222" stroke-width="0.22">10</text>
<text transform="translate(505 513.25)" font-size="7.59" text-anchor="end" fill="#222" font-weight="normal" stroke="#222" stroke-width="0.22">15</text>
<text transform="translate(505 488.1)" font-size="7.59" text-anchor="end" fill="#222" font-weight="normal" stroke="#222" stroke-width="0.22">20</text>
<text transform="translate(489.8 535.1) rotate(-90)" font-size="8.74" text-anchor="middle" fill="#222" font-weight="normal" stroke="#222" stroke-width="0.22">PTS-specific activity</text>
<text transform="translate(547.5 473.4)" font-size="8.51" text-anchor="middle" fill="#222" font-weight="normal" stroke="#222" stroke-width="0.22">Glucose PTS</text>
<rect x="516.1" y="539.02" width="9" height="47.28" fill="#707070"/>
<line x1="520.6" y1="536.5" x2="520.6" y2="541.53" stroke="#2a2a2a" stroke-width="0.6" />
<line x1="519.1" y1="536.5" x2="522.1" y2="536.5" stroke="#2a2a2a" stroke-width="0.6" />
<line x1="519.1" y1="541.53" x2="522.1" y2="541.53" stroke="#2a2a2a" stroke-width="0.6" />
<circle cx="522.4" cy="537.01" r="1.8" fill="#fff" stroke="#3c3c3c" stroke-width="0.65"/>
<circle cx="518.6" cy="539.52" r="1.8" fill="#fff" stroke="#3c3c3c" stroke-width="0.65"/>
<circle cx="523.1" cy="541.03" r="1.8" fill="#fff" stroke="#3c3c3c" stroke-width="0.65"/>
<circle cx="519.4" cy="542.04" r="1.8" fill="#fff" stroke="#3c3c3c" stroke-width="0.65"/>
<circle cx="521.2" cy="543.54" r="1.8" fill="#fff" stroke="#3c3c3c" stroke-width="0.65"/>
<line x1="520.6" y1="586.3" x2="520.6" y2="588.6" stroke="#3a3a3a" stroke-width="0.8" />
<text transform="translate(524.6 595.1) rotate(-45)" font-size="7.84" text-anchor="end" fill="#222" font-weight="normal" stroke="#222" stroke-width="0.22">WT</text>
<rect x="529.8" y="574.23" width="9" height="12.07" fill="#e9a3a5"/>
<line x1="534.3" y1="567.19" x2="534.3" y2="581.27" stroke="#d9545a" stroke-width="0.6" />
<line x1="532.8" y1="567.19" x2="535.8" y2="567.19" stroke="#d9545a" stroke-width="0.6" />
<line x1="532.8" y1="581.27" x2="535.8" y2="581.27" stroke="#d9545a" stroke-width="0.6" />
<circle cx="536.1" cy="566.18" r="1.8" fill="#fff" stroke="#d9545a" stroke-width="0.65"/>
<circle cx="532.3" cy="570.2" r="1.8" fill="#fff" stroke="#d9545a" stroke-width="0.65"/>
<circle cx="536.8" cy="573.72" r="1.8" fill="#fff" stroke="#d9545a" stroke-width="0.65"/>
<circle cx="533.1" cy="580.26" r="1.8" fill="#fff" stroke="#d9545a" stroke-width="0.65"/>
<circle cx="534.9" cy="583.78" r="1.8" fill="#fff" stroke="#d9545a" stroke-width="0.65"/>
<line x1="534.3" y1="586.3" x2="534.3" y2="588.6" stroke="#3a3a3a" stroke-width="0.8" />
<text transform="translate(538.3 595.1) rotate(-45)" font-size="7.84" text-anchor="end" fill="#222" font-weight="normal" stroke="#222" stroke-width="0.22">&#916;manY</text>
<rect x="543" y="545.56" width="9" height="40.74" fill="#c3d5e7"/>
<line x1="547.5" y1="543.04" x2="547.5" y2="548.07" stroke="#78a6d6" stroke-width="0.6" />
<line x1="546" y1="543.04" x2="549" y2="543.04" stroke="#78a6d6" stroke-width="0.6" />
<line x1="546" y1="548.07" x2="549" y2="548.07" stroke="#78a6d6" stroke-width="0.6" />
<circle cx="549.3" cy="542.54" r="1.8" fill="#fff" stroke="#78a6d6" stroke-width="0.65"/>
<circle cx="545.5" cy="545.05" r="1.8" fill="#fff" stroke="#78a6d6" stroke-width="0.65"/>
<circle cx="550" cy="546.56" r="1.8" fill="#fff" stroke="#78a6d6" stroke-width="0.65"/>
<circle cx="546.3" cy="548.07" r="1.8" fill="#fff" stroke="#78a6d6" stroke-width="0.65"/>
<line x1="547.5" y1="586.3" x2="547.5" y2="588.6" stroke="#3a3a3a" stroke-width="0.8" />
<text transform="translate(551.5 595.1) rotate(-45)" font-size="7.84" text-anchor="end" fill="#222" font-weight="normal" stroke="#222" stroke-width="0.22">C&#916;manY</text>
<rect x="556.1" y="524.43" width="9" height="61.87" fill="#b8dca6"/>
<line x1="560.6" y1="522.92" x2="560.6" y2="525.94" stroke="#86c06a" stroke-width="0.6" />
<line x1="559.1" y1="522.92" x2="562.1" y2="522.92" stroke="#86c06a" stroke-width="0.6" />
<line x1="559.1" y1="525.94" x2="562.1" y2="525.94" stroke="#86c06a" stroke-width="0.6" />
<circle cx="562.4" cy="522.92" r="1.8" fill="#fff" stroke="#86c06a" stroke-width="0.65"/>
<circle cx="558.6" cy="523.93" r="1.8" fill="#fff" stroke="#86c06a" stroke-width="0.65"/>
<circle cx="563.1" cy="524.93" r="1.8" fill="#fff" stroke="#86c06a" stroke-width="0.65"/>
<line x1="560.6" y1="586.3" x2="560.6" y2="588.6" stroke="#3a3a3a" stroke-width="0.8" />
<text transform="translate(564.6 595.1) rotate(-45)" font-size="7.84" text-anchor="end" fill="#222" font-weight="normal" stroke="#222" stroke-width="0.22">&#916;ptsG</text>
<rect x="569.9" y="540.28" width="9" height="46.02" fill="#fbd28e"/>
<line x1="574.4" y1="537.76" x2="574.4" y2="542.79" stroke="#f0a54a" stroke-width="0.6" />
<line x1="572.9" y1="537.76" x2="575.9" y2="537.76" stroke="#f0a54a" stroke-width="0.6" />
<line x1="572.9" y1="542.79" x2="575.9" y2="542.79" stroke="#f0a54a" stroke-width="0.6" />
<circle cx="576.2" cy="537.01" r="1.8" fill="#fff" stroke="#f0a54a" stroke-width="0.65"/>
<circle cx="572.4" cy="538.51" r="1.8" fill="#fff" stroke="#f0a54a" stroke-width="0.65"/>
<circle cx="576.9" cy="541.03" r="1.8" fill="#fff" stroke="#f0a54a" stroke-width="0.65"/>
<circle cx="573.2" cy="543.04" r="1.8" fill="#fff" stroke="#f0a54a" stroke-width="0.65"/>
<line x1="574.4" y1="586.3" x2="574.4" y2="588.6" stroke="#3a3a3a" stroke-width="0.8" />
<text transform="translate(578.4 595.1) rotate(-45)" font-size="7.84" text-anchor="end" fill="#222" font-weight="normal" stroke="#222" stroke-width="0.22">&#916;930</text>
<line x1="521.2" y1="486.5" x2="575" y2="486.5" stroke="#555" stroke-width="0.8" />
<text transform="translate(551.4 483.9)" font-size="6.2" text-anchor="middle" fill="#2a2a2a" font-weight="normal" stroke="#2a2a2a" stroke-width="0.12">0.9998</text>
<line x1="521.2" y1="496.2" x2="560.6" y2="496.2" stroke="#555" stroke-width="0.8" />
<text transform="translate(543 493.9)" font-size="6.2" text-anchor="middle" fill="#2a2a2a" font-weight="normal" stroke="#2a2a2a" stroke-width="0.12">&lt;0.0001</text>
<line x1="521.2" y1="505.7" x2="547.5" y2="505.7" stroke="#555" stroke-width="0.8" />
<text transform="translate(537.8 503.6)" font-size="6.2" text-anchor="middle" fill="#2a2a2a" font-weight="normal" stroke="#2a2a2a" stroke-width="0.12">0.2088</text>
<line x1="521.2" y1="518" x2="533.8" y2="518" stroke="#555" stroke-width="0.8" />
<text transform="translate(529.9 515.9)" font-size="6.2" text-anchor="middle" fill="#2a2a2a" font-weight="normal" stroke="#2a2a2a" stroke-width="0.12">&lt;0.0001</text>
<text transform="translate(482.2 473.1) scale(1.06 1)" font-size="12.6" text-anchor="start" fill="#000" font-weight="bold">h</text>
</svg></body></html>
